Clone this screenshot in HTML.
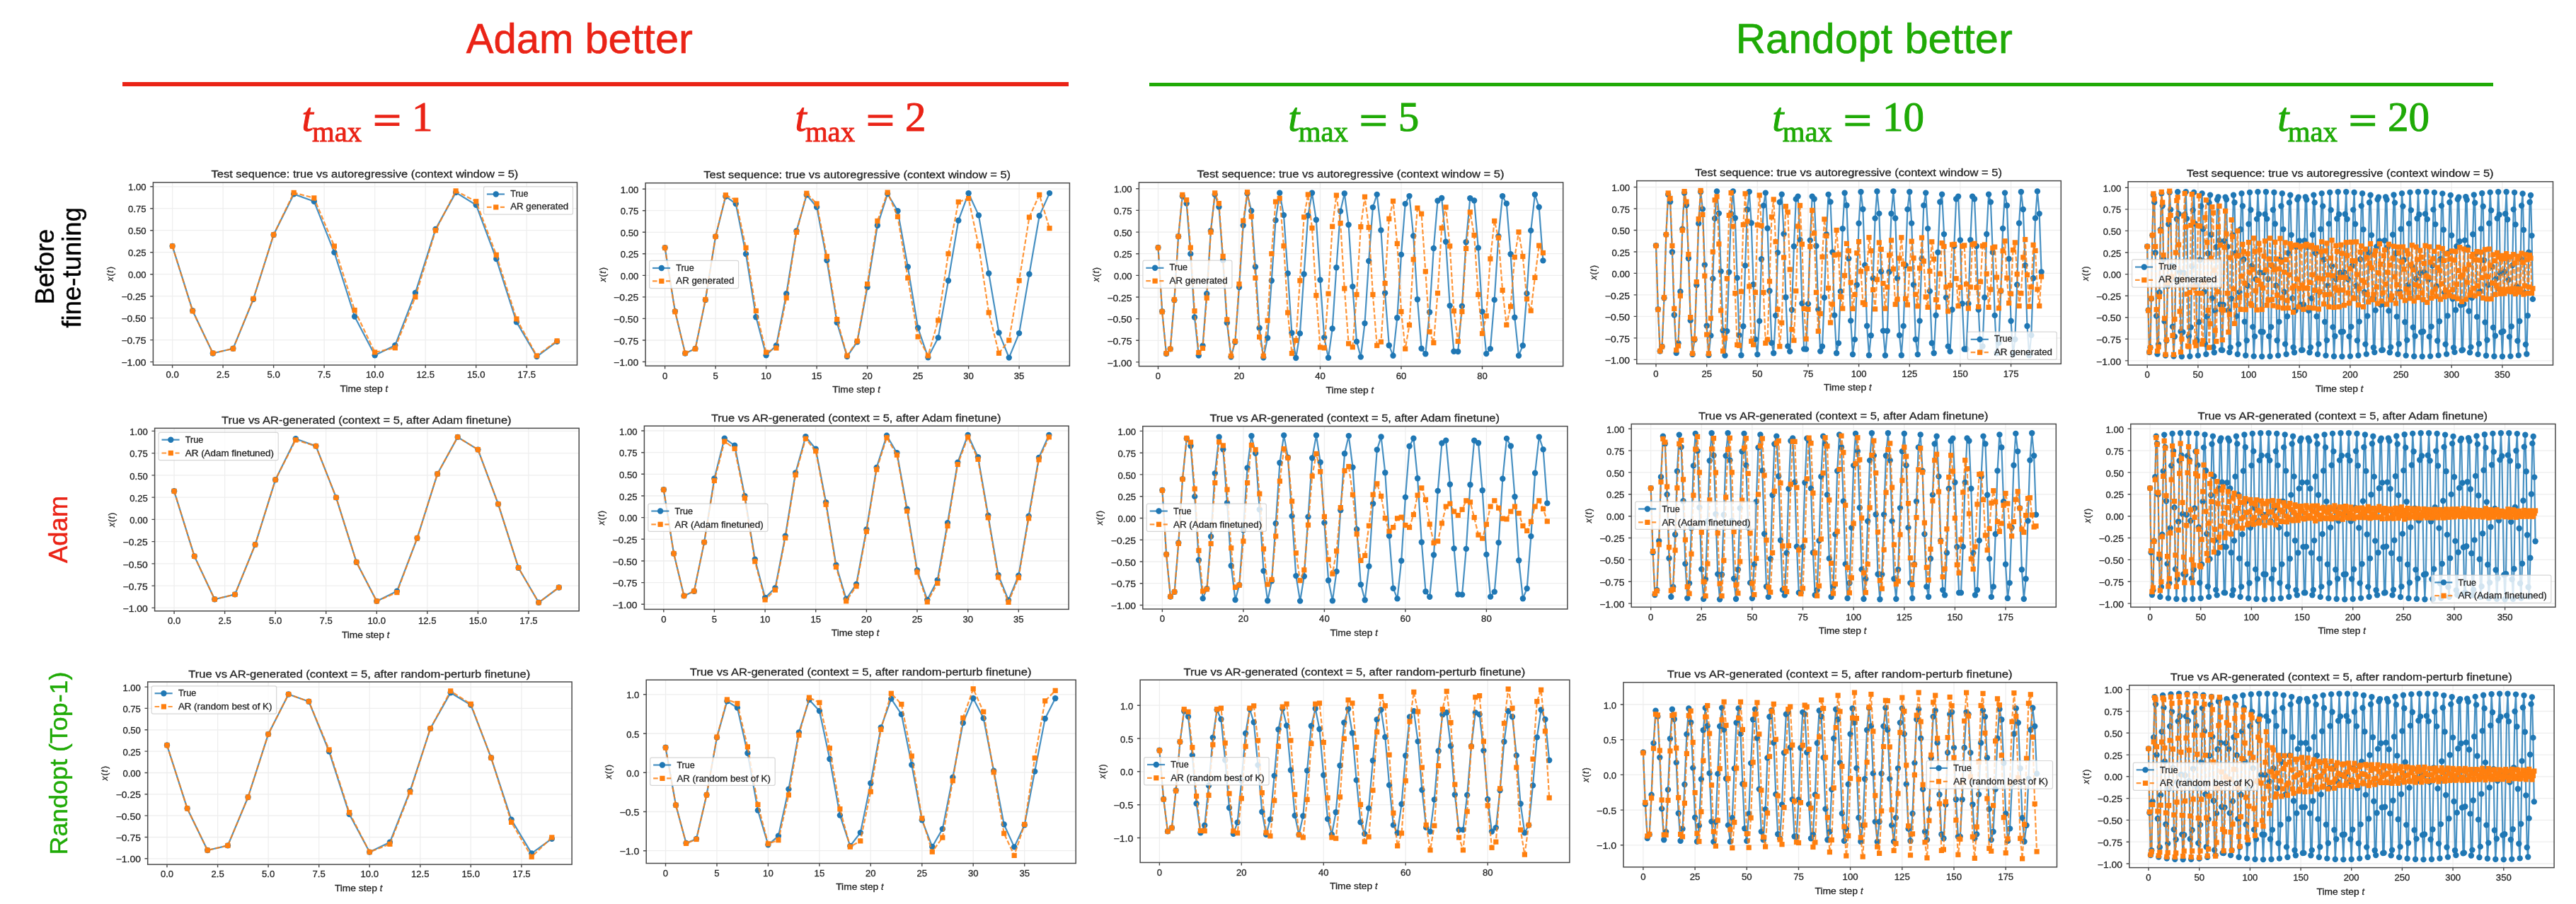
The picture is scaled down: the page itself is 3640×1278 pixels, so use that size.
<!DOCTYPE html>
<html><head><meta charset="utf-8"><title>figure</title>
<style>html,body{margin:0;padding:0;background:#fff}svg{display:block;will-change:transform}text{font-family:"Liberation Sans",sans-serif}text.sf{font-family:"Liberation Serif",serif}</style></head><body>
<svg width="3640" height="1278" viewBox="0 0 3640 1278">
<defs>
<marker id="mc" markerUnits="userSpaceOnUse" markerWidth="10" markerHeight="10" refX="5" refY="5" viewBox="0 0 10 10"><circle cx="5" cy="5" r="4.2" fill="#1f77b4"/></marker>
<marker id="ms" markerUnits="userSpaceOnUse" markerWidth="10" markerHeight="10" refX="5" refY="5" viewBox="0 0 10 10"><rect x="1.4" y="1.4" width="7.2" height="7.2" fill="#ff7f0e"/></marker>
</defs>
<rect width="3640" height="1278" fill="#fff"/><g opacity="0.999">
<text x="658.78" y="74.9" font-size="58.9" textLength="151.71" lengthAdjust="spacingAndGlyphs" fill="#EA2316" stroke="#EA2316" stroke-width="0.6">Adam</text>
<text x="826.49" y="74.9" font-size="58.9" textLength="152.38" lengthAdjust="spacingAndGlyphs" fill="#EA2316" stroke="#EA2316" stroke-width="0.6">better</text>
<text x="2452.70" y="74.9" font-size="58.9" textLength="221.40" lengthAdjust="spacingAndGlyphs" fill="#1FAA06" stroke="#1FAA06" stroke-width="0.6">Randopt</text>
<text x="2691.49" y="74.9" font-size="58.9" textLength="152.27" lengthAdjust="spacingAndGlyphs" fill="#1FAA06" stroke="#1FAA06" stroke-width="0.6">better</text>
<rect x="173" y="116" width="1337" height="6" fill="#EA2316"/>
<rect x="1624" y="117" width="1899" height="5" fill="#1FAA06"/>
<text x="426.6" y="185" class="sf" font-size="58" font-style="italic" fill="#EA2316" stroke="#EA2316" stroke-width="1">t</text><text x="441" y="199.9" class="sf" font-size="41" fill="#EA2316" stroke="#EA2316" stroke-width="0.9" textLength="70.2" lengthAdjust="spacingAndGlyphs">max</text><rect x="529.7" y="162.3" width="34.7" height="4.4" fill="#EA2316"/><rect x="529.7" y="173.4" width="34.7" height="4.6" fill="#EA2316"/><text x="611.6" y="185" class="sf" font-size="59" text-anchor="end" fill="#EA2316" stroke="#EA2316" stroke-width="1">1</text>
<text x="1123.5" y="185" class="sf" font-size="58" font-style="italic" fill="#EA2316" stroke="#EA2316" stroke-width="1">t</text><text x="1137.9" y="199.9" class="sf" font-size="41" fill="#EA2316" stroke="#EA2316" stroke-width="0.9" textLength="70.2" lengthAdjust="spacingAndGlyphs">max</text><rect x="1226.6" y="162.3" width="34.7" height="4.4" fill="#EA2316"/><rect x="1226.6" y="173.4" width="34.7" height="4.6" fill="#EA2316"/><text x="1308.5" y="185" class="sf" font-size="59" text-anchor="end" fill="#EA2316" stroke="#EA2316" stroke-width="1">2</text>
<text x="1820.3" y="185.3" class="sf" font-size="58" font-style="italic" fill="#1FAA06" stroke="#1FAA06" stroke-width="1">t</text><text x="1834.7" y="200.2" class="sf" font-size="41" fill="#1FAA06" stroke="#1FAA06" stroke-width="0.9" textLength="70.2" lengthAdjust="spacingAndGlyphs">max</text><rect x="1923.4" y="162.6" width="34.7" height="4.4" fill="#1FAA06"/><rect x="1923.4" y="173.7" width="34.7" height="4.6" fill="#1FAA06"/><text x="2005.3" y="185.3" class="sf" font-size="59" text-anchor="end" fill="#1FAA06" stroke="#1FAA06" stroke-width="1">5</text>
<text x="2504.3" y="185.3" class="sf" font-size="58" font-style="italic" fill="#1FAA06" stroke="#1FAA06" stroke-width="1">t</text><text x="2518.7" y="200.2" class="sf" font-size="41" fill="#1FAA06" stroke="#1FAA06" stroke-width="0.9" textLength="70.2" lengthAdjust="spacingAndGlyphs">max</text><rect x="2607.4" y="162.6" width="34.7" height="4.4" fill="#1FAA06"/><rect x="2607.4" y="173.7" width="34.7" height="4.6" fill="#1FAA06"/><text x="2719.1" y="185.3" class="sf" font-size="59" text-anchor="end" fill="#1FAA06" stroke="#1FAA06" stroke-width="1">10</text>
<text x="3218.3" y="185.3" class="sf" font-size="58" font-style="italic" fill="#1FAA06" stroke="#1FAA06" stroke-width="1">t</text><text x="3232.7" y="200.2" class="sf" font-size="41" fill="#1FAA06" stroke="#1FAA06" stroke-width="0.9" textLength="70.2" lengthAdjust="spacingAndGlyphs">max</text><rect x="3321.4" y="162.6" width="34.7" height="4.4" fill="#1FAA06"/><rect x="3321.4" y="173.7" width="34.7" height="4.6" fill="#1FAA06"/><text x="3433.1" y="185.3" class="sf" font-size="59" text-anchor="end" fill="#1FAA06" stroke="#1FAA06" stroke-width="1">20</text>
<g transform="translate(75.5 377) rotate(-90)"><text x="0" y="0" font-size="36.1" text-anchor="middle" fill="#000" stroke="#000" stroke-width="0.4">Before</text></g>
<g transform="translate(114 378.3) rotate(-90)"><text x="0" y="0" font-size="36.5" text-anchor="middle" fill="#000" stroke="#000" stroke-width="0.4">fine-tuning</text></g>
<g transform="translate(95 748.4) rotate(-90)"><text x="0" y="0" font-size="36.5" text-anchor="middle" fill="#EA2316" stroke="#EA2316" stroke-width="0.4">Adam</text></g>
<g transform="translate(95 1079.0) rotate(-90)"><text x="0" y="0" font-size="35.85" text-anchor="middle" fill="#1FAA06" stroke="#1FAA06" stroke-width="0.4">Randopt (Top-1)</text></g>
<g>
<rect x="216.4" y="257.9" width="599.1" height="258.2" fill="#fff"/>
<path d="M243.6 257.9V516.1M315.1 257.9V516.1M386.6 257.9V516.1M458.1 257.9V516.1M529.7 257.9V516.1M601.2 257.9V516.1M672.7 257.9V516.1M744.2 257.9V516.1M216.4 511.6H815.5M216.4 480.6H815.5M216.4 449.6H815.5M216.4 418.7H815.5M216.4 387.7H815.5M216.4 356.7H815.5M216.4 325.7H815.5M216.4 294.7H815.5M216.4 263.8H815.5" stroke="#b0b0b0" stroke-opacity="0.21" stroke-width="1.3" fill="none"/>
<clipPath id="c0"><rect x="216.4" y="257.9" width="599.1" height="258.2"/></clipPath>
<g clip-path="url(#c0)">
<polyline points="243.6,347.9 272.2,439.2 300.8,499.5 329.4,492.8 358,423 386.6,332 415.2,274.4 443.8,284.8 472.4,356.9 501.1,447.5 529.7,502.2 558.3,488.2 586.9,413.9 615.5,323.9 644.1,272.1 672.7,289.7 701.3,366.1 729.9,455.4 758.5,504.1 787.1,482.9" fill="none" stroke="#1f77b4" stroke-width="2.2" stroke-opacity="0.82" stroke-linejoin="round" marker-start="url(#mc)" marker-mid="url(#mc)" marker-end="url(#mc)"/>
<polyline points="243.6,348 272.2,439.7 300.8,499.2 329.4,493 358,422.4 386.6,331.9 415.2,272.4 443.8,279.9 472.4,348 501.1,438.5 529.7,498 558.3,491.8 586.9,419.9 615.5,325.7 644.1,269.9 672.7,284.8 701.3,360.4 729.9,450.9 758.5,502.9 787.1,481.9" fill="none" stroke="#ff7f0e" stroke-width="2.2" stroke-opacity="0.82" stroke-linejoin="round" stroke-dasharray="6.6 2.9" marker-start="url(#ms)" marker-mid="url(#ms)" marker-end="url(#ms)"/>
</g>
<rect x="216.4" y="257.9" width="599.1" height="258.2" fill="none" stroke="#4a4a4a" stroke-width="1.5"/>
<path d="M243.6 516.1v4.2M315.1 516.1v4.2M386.6 516.1v4.2M458.1 516.1v4.2M529.7 516.1v4.2M601.2 516.1v4.2M672.7 516.1v4.2M744.2 516.1v4.2M216.4 511.6h-4.2M216.4 480.6h-4.2M216.4 449.6h-4.2M216.4 418.7h-4.2M216.4 387.7h-4.2M216.4 356.7h-4.2M216.4 325.7h-4.2M216.4 294.7h-4.2M216.4 263.8h-4.2" stroke="#4a4a4a" stroke-width="1.4" fill="none"/>
<text x="243.6" y="534.3" font-size="12.5" text-anchor="middle" textLength="18.2" lengthAdjust="spacingAndGlyphs" fill="#262626" stroke="#262626" stroke-width="0.3">0.0</text>
<text x="315.1" y="534.3" font-size="12.5" text-anchor="middle" textLength="18.2" lengthAdjust="spacingAndGlyphs" fill="#262626" stroke="#262626" stroke-width="0.3">2.5</text>
<text x="386.6" y="534.3" font-size="12.5" text-anchor="middle" textLength="18.2" lengthAdjust="spacingAndGlyphs" fill="#262626" stroke="#262626" stroke-width="0.3">5.0</text>
<text x="458.1" y="534.3" font-size="12.5" text-anchor="middle" textLength="18.2" lengthAdjust="spacingAndGlyphs" fill="#262626" stroke="#262626" stroke-width="0.3">7.5</text>
<text x="529.7" y="534.3" font-size="12.5" text-anchor="middle" textLength="25.5" lengthAdjust="spacingAndGlyphs" fill="#262626" stroke="#262626" stroke-width="0.3">10.0</text>
<text x="601.2" y="534.3" font-size="12.5" text-anchor="middle" textLength="25.5" lengthAdjust="spacingAndGlyphs" fill="#262626" stroke="#262626" stroke-width="0.3">12.5</text>
<text x="672.7" y="534.3" font-size="12.5" text-anchor="middle" textLength="25.5" lengthAdjust="spacingAndGlyphs" fill="#262626" stroke="#262626" stroke-width="0.3">15.0</text>
<text x="744.2" y="534.3" font-size="12.5" text-anchor="middle" textLength="25.5" lengthAdjust="spacingAndGlyphs" fill="#262626" stroke="#262626" stroke-width="0.3">17.5</text>
<text x="206.6" y="517.2" font-size="12.5" text-anchor="end" textLength="35.2" lengthAdjust="spacingAndGlyphs" fill="#262626" stroke="#262626" stroke-width="0.3">−1.00</text>
<text x="206.6" y="486.2" font-size="12.5" text-anchor="end" textLength="35.2" lengthAdjust="spacingAndGlyphs" fill="#262626" stroke="#262626" stroke-width="0.3">−0.75</text>
<text x="206.6" y="455.2" font-size="12.5" text-anchor="end" textLength="35.2" lengthAdjust="spacingAndGlyphs" fill="#262626" stroke="#262626" stroke-width="0.3">−0.50</text>
<text x="206.6" y="424.2" font-size="12.5" text-anchor="end" textLength="35.2" lengthAdjust="spacingAndGlyphs" fill="#262626" stroke="#262626" stroke-width="0.3">−0.25</text>
<text x="206.6" y="393.2" font-size="12.5" text-anchor="end" textLength="25.5" lengthAdjust="spacingAndGlyphs" fill="#262626" stroke="#262626" stroke-width="0.3">0.00</text>
<text x="206.6" y="362.3" font-size="12.5" text-anchor="end" textLength="25.5" lengthAdjust="spacingAndGlyphs" fill="#262626" stroke="#262626" stroke-width="0.3">0.25</text>
<text x="206.6" y="331.3" font-size="12.5" text-anchor="end" textLength="25.5" lengthAdjust="spacingAndGlyphs" fill="#262626" stroke="#262626" stroke-width="0.3">0.50</text>
<text x="206.6" y="300.3" font-size="12.5" text-anchor="end" textLength="25.5" lengthAdjust="spacingAndGlyphs" fill="#262626" stroke="#262626" stroke-width="0.3">0.75</text>
<text x="206.6" y="269.3" font-size="12.5" text-anchor="end" textLength="25.5" lengthAdjust="spacingAndGlyphs" fill="#262626" stroke="#262626" stroke-width="0.3">1.00</text>
<text x="515.4" y="251.4" font-size="14.3" text-anchor="middle" textLength="433.8" lengthAdjust="spacingAndGlyphs" fill="#262626" stroke="#262626" stroke-width="0.3">Test sequence: true vs autoregressive (context window = 5)</text>
<text x="480.5" y="554" font-size="12.4" fill="#262626" stroke="#262626" stroke-width="0.3" textLength="63.9" lengthAdjust="spacingAndGlyphs" xml:space="preserve">Time step </text>
<text x="544.4" y="554" font-size="12.5" fill="#262626" stroke="#262626" stroke-width="0.3" font-style="italic">t</text>
<g transform="translate(159.8 387) rotate(-90)" font-size="12" fill="#262626" stroke="#262626" stroke-width="0.3"><text x="-10.5" y="0" font-style="italic">x</text><text x="-3.5" y="0">(</text><text x="1.2" y="0" font-style="italic">t</text><text x="5.9" y="0">)</text></g>
<rect x="683.5" y="263.9" width="126" height="39.2" rx="2.4" fill="#fff" fill-opacity="0.8" stroke="#ccc" stroke-opacity="0.8" stroke-width="1.2"/>
<path d="M687.9 274.5H713" stroke="#1f77b4" stroke-width="2.2" stroke-opacity="0.82"/>
<circle cx="700.8" cy="274.5" r="4.2" fill="#1f77b4"/>
<path d="M687.9 292.9H713" stroke="#ff7f0e" stroke-width="2.2" stroke-opacity="0.82" stroke-dasharray="6.6 2.9"/>
<rect x="697.2" y="289.3" width="7.2" height="7.2" fill="#ff7f0e"/>
<text x="721.2" y="278.1" font-size="12" text-anchor="start" textLength="25.4" lengthAdjust="spacingAndGlyphs" fill="#262626" stroke="#262626" stroke-width="0.3">True</text>
<text x="721.2" y="296.4" font-size="12" text-anchor="start" textLength="82" lengthAdjust="spacingAndGlyphs" fill="#262626" stroke="#262626" stroke-width="0.3">AR generated</text>
</g>
<g>
<rect x="912.1" y="258.7" width="599.3" height="258.6" fill="#fff"/>
<path d="M939.6 258.7V517.3M1011.1 258.7V517.3M1082.6 258.7V517.3M1154.1 258.7V517.3M1225.6 258.7V517.3M1297.1 258.7V517.3M1368.6 258.7V517.3M1440.1 258.7V517.3M912.1 511.5H1511.4M912.1 481H1511.4M912.1 450.4H1511.4M912.1 419.9H1511.4M912.1 389.4H1511.4M912.1 358.8H1511.4M912.1 328.3H1511.4M912.1 297.7H1511.4M912.1 267.2H1511.4" stroke="#b0b0b0" stroke-opacity="0.21" stroke-width="1.3" fill="none"/>
<clipPath id="c1"><rect x="912.1" y="258.7" width="599.3" height="258.6"/></clipPath>
<g clip-path="url(#c1)">
<polyline points="939.6,350.2 953.9,440.1 968.2,499.6 982.5,492.9 996.8,424.1 1011.1,334.4 1025.4,277.7 1039.7,288 1054,359 1068.3,448.3 1082.6,502.2 1096.9,488.4 1111.2,415.2 1125.5,326.4 1139.8,275.5 1154.1,292.8 1168.4,368.1 1182.7,456.1 1197,504.1 1211.3,483.2 1225.6,406 1239.9,318.8 1254.2,274 1268.5,298.3 1282.8,377.3 1297.1,463.5 1311.4,505.2 1325.7,477.4 1340,396.8 1354.3,311.7 1368.6,273.2 1382.9,304.4 1397.2,386.5 1411.5,470.4 1425.8,505.6 1440.1,471.1 1454.4,387.5 1468.7,305 1483,273.1" fill="none" stroke="#1f77b4" stroke-width="2.2" stroke-opacity="0.82" stroke-linejoin="round" marker-start="url(#mc)" marker-mid="url(#mc)" marker-end="url(#mc)"/>
<polyline points="939.6,350.3 953.9,440.7 968.2,499.3 982.5,493.2 996.8,423.6 1011.1,334.4 1025.4,275.8 1039.7,283.1 1054,350.3 1068.3,439.4 1082.6,498.1 1096.9,492 1111.2,421.1 1125.5,328.3 1139.8,273.3 1154.1,288 1168.4,362.5 1182.7,451.6 1197,502.9 1211.3,482.2 1225.6,401.6 1239.9,312.4 1254.2,272.1 1268.5,306.3 1282.8,393 1297.1,476.1 1311.4,502.9 1325.7,452.9 1340,358.8 1354.3,285.5 1368.6,280.6 1382.9,347.8 1397.2,441.9 1411.5,499.3 1425.8,481 1440.1,396.7 1454.4,307.1 1468.7,275.4 1483,322.7" fill="none" stroke="#ff7f0e" stroke-width="2.2" stroke-opacity="0.82" stroke-linejoin="round" stroke-dasharray="6.6 2.9" marker-start="url(#ms)" marker-mid="url(#ms)" marker-end="url(#ms)"/>
</g>
<rect x="912.1" y="258.7" width="599.3" height="258.6" fill="none" stroke="#4a4a4a" stroke-width="1.5"/>
<path d="M939.6 517.3v4.2M1011.1 517.3v4.2M1082.6 517.3v4.2M1154.1 517.3v4.2M1225.6 517.3v4.2M1297.1 517.3v4.2M1368.6 517.3v4.2M1440.1 517.3v4.2M912.1 511.5h-4.2M912.1 481h-4.2M912.1 450.4h-4.2M912.1 419.9h-4.2M912.1 389.4h-4.2M912.1 358.8h-4.2M912.1 328.3h-4.2M912.1 297.7h-4.2M912.1 267.2h-4.2" stroke="#4a4a4a" stroke-width="1.4" fill="none"/>
<text x="939.6" y="535.5" font-size="12.5" text-anchor="middle" textLength="7.3" lengthAdjust="spacingAndGlyphs" fill="#262626" stroke="#262626" stroke-width="0.3">0</text>
<text x="1011.1" y="535.5" font-size="12.5" text-anchor="middle" textLength="7.3" lengthAdjust="spacingAndGlyphs" fill="#262626" stroke="#262626" stroke-width="0.3">5</text>
<text x="1082.6" y="535.5" font-size="12.5" text-anchor="middle" textLength="14.6" lengthAdjust="spacingAndGlyphs" fill="#262626" stroke="#262626" stroke-width="0.3">10</text>
<text x="1154.1" y="535.5" font-size="12.5" text-anchor="middle" textLength="14.6" lengthAdjust="spacingAndGlyphs" fill="#262626" stroke="#262626" stroke-width="0.3">15</text>
<text x="1225.6" y="535.5" font-size="12.5" text-anchor="middle" textLength="14.6" lengthAdjust="spacingAndGlyphs" fill="#262626" stroke="#262626" stroke-width="0.3">20</text>
<text x="1297.1" y="535.5" font-size="12.5" text-anchor="middle" textLength="14.6" lengthAdjust="spacingAndGlyphs" fill="#262626" stroke="#262626" stroke-width="0.3">25</text>
<text x="1368.6" y="535.5" font-size="12.5" text-anchor="middle" textLength="14.6" lengthAdjust="spacingAndGlyphs" fill="#262626" stroke="#262626" stroke-width="0.3">30</text>
<text x="1440.1" y="535.5" font-size="12.5" text-anchor="middle" textLength="14.6" lengthAdjust="spacingAndGlyphs" fill="#262626" stroke="#262626" stroke-width="0.3">35</text>
<text x="902.3" y="517.1" font-size="12.5" text-anchor="end" textLength="35.2" lengthAdjust="spacingAndGlyphs" fill="#262626" stroke="#262626" stroke-width="0.3">−1.00</text>
<text x="902.3" y="486.5" font-size="12.5" text-anchor="end" textLength="35.2" lengthAdjust="spacingAndGlyphs" fill="#262626" stroke="#262626" stroke-width="0.3">−0.75</text>
<text x="902.3" y="456" font-size="12.5" text-anchor="end" textLength="35.2" lengthAdjust="spacingAndGlyphs" fill="#262626" stroke="#262626" stroke-width="0.3">−0.50</text>
<text x="902.3" y="425.4" font-size="12.5" text-anchor="end" textLength="35.2" lengthAdjust="spacingAndGlyphs" fill="#262626" stroke="#262626" stroke-width="0.3">−0.25</text>
<text x="902.3" y="394.9" font-size="12.5" text-anchor="end" textLength="25.5" lengthAdjust="spacingAndGlyphs" fill="#262626" stroke="#262626" stroke-width="0.3">0.00</text>
<text x="902.3" y="364.4" font-size="12.5" text-anchor="end" textLength="25.5" lengthAdjust="spacingAndGlyphs" fill="#262626" stroke="#262626" stroke-width="0.3">0.25</text>
<text x="902.3" y="333.8" font-size="12.5" text-anchor="end" textLength="25.5" lengthAdjust="spacingAndGlyphs" fill="#262626" stroke="#262626" stroke-width="0.3">0.50</text>
<text x="902.3" y="303.3" font-size="12.5" text-anchor="end" textLength="25.5" lengthAdjust="spacingAndGlyphs" fill="#262626" stroke="#262626" stroke-width="0.3">0.75</text>
<text x="902.3" y="272.8" font-size="12.5" text-anchor="end" textLength="25.5" lengthAdjust="spacingAndGlyphs" fill="#262626" stroke="#262626" stroke-width="0.3">1.00</text>
<text x="1211.2" y="252.2" font-size="14.3" text-anchor="middle" textLength="433.8" lengthAdjust="spacingAndGlyphs" fill="#262626" stroke="#262626" stroke-width="0.3">Test sequence: true vs autoregressive (context window = 5)</text>
<text x="1176.3" y="555.2" font-size="12.4" fill="#262626" stroke="#262626" stroke-width="0.3" textLength="63.9" lengthAdjust="spacingAndGlyphs" xml:space="preserve">Time step </text>
<text x="1240.2" y="555.2" font-size="12.5" fill="#262626" stroke="#262626" stroke-width="0.3" font-style="italic">t</text>
<g transform="translate(855.5 388) rotate(-90)" font-size="12" fill="#262626" stroke="#262626" stroke-width="0.3"><text x="-10.5" y="0" font-style="italic">x</text><text x="-3.5" y="0">(</text><text x="1.2" y="0" font-style="italic">t</text><text x="5.9" y="0">)</text></g>
<rect x="917.6" y="368.4" width="126" height="39.2" rx="2.4" fill="#fff" fill-opacity="0.8" stroke="#ccc" stroke-opacity="0.8" stroke-width="1.2"/>
<path d="M922 379H947.1" stroke="#1f77b4" stroke-width="2.2" stroke-opacity="0.82"/>
<circle cx="934.8" cy="379" r="4.2" fill="#1f77b4"/>
<path d="M922 397.4H947.1" stroke="#ff7f0e" stroke-width="2.2" stroke-opacity="0.82" stroke-dasharray="6.6 2.9"/>
<rect x="931.2" y="393.8" width="7.2" height="7.2" fill="#ff7f0e"/>
<text x="955.3" y="382.6" font-size="12" text-anchor="start" textLength="25.4" lengthAdjust="spacingAndGlyphs" fill="#262626" stroke="#262626" stroke-width="0.3">True</text>
<text x="955.3" y="400.9" font-size="12" text-anchor="start" textLength="82" lengthAdjust="spacingAndGlyphs" fill="#262626" stroke="#262626" stroke-width="0.3">AR generated</text>
</g>
<g>
<rect x="1609.4" y="257.9" width="599.3" height="259.8" fill="#fff"/>
<path d="M1636.5 257.9V517.7M1751 257.9V517.7M1865.5 257.9V517.7M1980 257.9V517.7M2094.5 257.9V517.7M1609.4 511.9H2208.7M1609.4 481.3H2208.7M1609.4 450.6H2208.7M1609.4 420H2208.7M1609.4 389.4H2208.7M1609.4 358.7H2208.7M1609.4 328.1H2208.7M1609.4 297.4H2208.7M1609.4 266.8H2208.7" stroke="#b0b0b0" stroke-opacity="0.21" stroke-width="1.3" fill="none"/>
<clipPath id="c2"><rect x="1609.4" y="257.9" width="599.3" height="259.8"/></clipPath>
<g clip-path="url(#c2)">
<polyline points="1636.5,350 1642.2,440.3 1648,500 1653.7,493.3 1659.4,424.2 1665.1,334.3 1670.8,277.3 1676.6,287.6 1682.3,358.9 1688,448.5 1693.8,502.6 1699.5,488.7 1705.2,415.2 1710.9,326.2 1716.7,275.1 1722.4,292.5 1728.1,368 1733.8,456.3 1739.5,504.5 1745.3,483.5 1751,406.1 1756.7,318.6 1762.5,273.6 1768.2,298 1773.9,377.2 1779.6,463.7 1785.3,505.6 1791.1,477.7 1796.8,396.8 1802.5,311.4 1808.2,272.8 1814,304.1 1819.7,386.5 1825.4,470.7 1831.2,506 1836.9,471.4 1842.6,387.5 1848.3,304.8 1854,272.8 1859.8,310.7 1865.5,395.8 1871.2,477.1 1877,505.7 1882.7,464.5 1888.4,378.2 1894.1,298.6 1899.8,273.5 1905.6,317.8 1911.3,405.1 1917,482.9 1922.8,504.6 1928.5,457.1 1934.2,369 1939.9,293.1 1945.7,274.9 1951.4,325.4 1957.1,414.3 1962.8,488.2 1968.5,502.8 1974.3,449.3 1980,359.9 1985.7,288.1 1991.5,277.1 1997.2,333.4 2002.9,423.3 2008.6,492.8 2014.3,500.3 2020.1,441.2 2025.8,351 2031.5,283.8 2037.2,280 2043,341.7 2048.7,432.1 2054.4,496.8 2060.2,497 2065.9,432.7 2071.6,342.3 2077.3,280.2 2083.1,283.5 2088.8,350.4 2094.5,440.6 2100.2,500.1 2105.9,493.1 2111.7,423.9 2117.4,333.9 2123.1,277.2 2128.8,287.8 2134.6,359.3 2140.3,448.8 2146,502.7 2151.8,488.5 2157.5,414.9 2163.2,325.9 2168.9,275 2174.7,292.7 2180.4,368.4" fill="none" stroke="#1f77b4" stroke-width="2.2" stroke-opacity="0.82" stroke-linejoin="round" marker-start="url(#mc)" marker-mid="url(#mc)" marker-end="url(#mc)"/>
<polyline points="1636.5,350.1 1642.2,440.8 1648,499.6 1653.7,493.5 1659.4,423.7 1665.1,334.2 1670.8,275.4 1676.6,282.7 1682.3,350.1 1688,439.6 1693.8,498.4 1699.5,492.3 1705.2,421.2 1710.9,328.1 1716.7,272.9 1722.4,287.6 1728.1,362.4 1733.8,451.9 1739.5,503.3 1745.3,482.5 1751,401.6 1756.7,312.1 1762.5,271.7 1768.2,306 1773.9,393 1779.6,476.4 1785.3,503.3 1791.1,453.1 1796.8,358.7 1802.5,285.2 1808.2,280.3 1814,347.7 1819.7,442 1825.4,499.6 1831.2,481.3 1836.9,396.7 1842.6,306.9 1848.3,275 1854,322.4 1859.8,417.7 1865.5,490.9 1871.2,491.9 1877,415.2 1882.7,320.2 1888.4,276.1 1894.1,315.5 1899.8,407.9 1905.6,485.8 1911.3,490.7 1917,416.4 1922.8,320.6 1928.5,278.3 1934.2,321.5 1939.9,416.4 1945.7,488.5 1951.4,483.3 1957.1,400.6 1962.8,309.3 1968.5,284.3 1974.3,344.4 1980,440.5 1985.7,493.1 1991.5,459.6 1997.2,366.8 2002.9,294.1 2008.6,302.3 2014.3,383.8 2020.1,469 2025.8,484.6 2031.5,414.4 2037.2,322.4 2043,292.9 2048.7,347.9 2054.4,439.6 2060.2,482.5 2065.9,440.5 2071.6,351.4 2077.3,299.9 2083.1,332.5 2088.8,416.4 2094.5,471.5 2100.2,446.6 2105.9,365.9 2111.7,312.4 2117.4,336.2 2123.1,410.3 2128.8,459.3 2134.6,433.2 2140.3,363.5 2146,328 2151.8,362.6 2157.5,422.6 2163.2,439.2 2168.9,392.4 2174.7,347.1 2180.4,357.5" fill="none" stroke="#ff7f0e" stroke-width="2.2" stroke-opacity="0.82" stroke-linejoin="round" stroke-dasharray="6.6 2.9" marker-start="url(#ms)" marker-mid="url(#ms)" marker-end="url(#ms)"/>
</g>
<rect x="1609.4" y="257.9" width="599.3" height="259.8" fill="none" stroke="#4a4a4a" stroke-width="1.5"/>
<path d="M1636.5 517.7v4.2M1751 517.7v4.2M1865.5 517.7v4.2M1980 517.7v4.2M2094.5 517.7v4.2M1609.4 511.9h-4.2M1609.4 481.3h-4.2M1609.4 450.6h-4.2M1609.4 420h-4.2M1609.4 389.4h-4.2M1609.4 358.7h-4.2M1609.4 328.1h-4.2M1609.4 297.4h-4.2M1609.4 266.8h-4.2" stroke="#4a4a4a" stroke-width="1.4" fill="none"/>
<text x="1636.5" y="535.9" font-size="12.5" text-anchor="middle" textLength="7.3" lengthAdjust="spacingAndGlyphs" fill="#262626" stroke="#262626" stroke-width="0.3">0</text>
<text x="1751" y="535.9" font-size="12.5" text-anchor="middle" textLength="14.6" lengthAdjust="spacingAndGlyphs" fill="#262626" stroke="#262626" stroke-width="0.3">20</text>
<text x="1865.5" y="535.9" font-size="12.5" text-anchor="middle" textLength="14.6" lengthAdjust="spacingAndGlyphs" fill="#262626" stroke="#262626" stroke-width="0.3">40</text>
<text x="1980" y="535.9" font-size="12.5" text-anchor="middle" textLength="14.6" lengthAdjust="spacingAndGlyphs" fill="#262626" stroke="#262626" stroke-width="0.3">60</text>
<text x="2094.5" y="535.9" font-size="12.5" text-anchor="middle" textLength="14.6" lengthAdjust="spacingAndGlyphs" fill="#262626" stroke="#262626" stroke-width="0.3">80</text>
<text x="1599.6" y="517.5" font-size="12.5" text-anchor="end" textLength="35.2" lengthAdjust="spacingAndGlyphs" fill="#262626" stroke="#262626" stroke-width="0.3">−1.00</text>
<text x="1599.6" y="486.8" font-size="12.5" text-anchor="end" textLength="35.2" lengthAdjust="spacingAndGlyphs" fill="#262626" stroke="#262626" stroke-width="0.3">−0.75</text>
<text x="1599.6" y="456.2" font-size="12.5" text-anchor="end" textLength="35.2" lengthAdjust="spacingAndGlyphs" fill="#262626" stroke="#262626" stroke-width="0.3">−0.50</text>
<text x="1599.6" y="425.5" font-size="12.5" text-anchor="end" textLength="35.2" lengthAdjust="spacingAndGlyphs" fill="#262626" stroke="#262626" stroke-width="0.3">−0.25</text>
<text x="1599.6" y="394.9" font-size="12.5" text-anchor="end" textLength="25.5" lengthAdjust="spacingAndGlyphs" fill="#262626" stroke="#262626" stroke-width="0.3">0.00</text>
<text x="1599.6" y="364.3" font-size="12.5" text-anchor="end" textLength="25.5" lengthAdjust="spacingAndGlyphs" fill="#262626" stroke="#262626" stroke-width="0.3">0.25</text>
<text x="1599.6" y="333.6" font-size="12.5" text-anchor="end" textLength="25.5" lengthAdjust="spacingAndGlyphs" fill="#262626" stroke="#262626" stroke-width="0.3">0.50</text>
<text x="1599.6" y="303" font-size="12.5" text-anchor="end" textLength="25.5" lengthAdjust="spacingAndGlyphs" fill="#262626" stroke="#262626" stroke-width="0.3">0.75</text>
<text x="1599.6" y="272.4" font-size="12.5" text-anchor="end" textLength="25.5" lengthAdjust="spacingAndGlyphs" fill="#262626" stroke="#262626" stroke-width="0.3">1.00</text>
<text x="1908.5" y="251.4" font-size="14.3" text-anchor="middle" textLength="433.8" lengthAdjust="spacingAndGlyphs" fill="#262626" stroke="#262626" stroke-width="0.3">Test sequence: true vs autoregressive (context window = 5)</text>
<text x="1873.6" y="555.6" font-size="12.4" fill="#262626" stroke="#262626" stroke-width="0.3" textLength="63.9" lengthAdjust="spacingAndGlyphs" xml:space="preserve">Time step </text>
<text x="1937.5" y="555.6" font-size="12.5" fill="#262626" stroke="#262626" stroke-width="0.3" font-style="italic">t</text>
<g transform="translate(1552.8 387.8) rotate(-90)" font-size="12" fill="#262626" stroke="#262626" stroke-width="0.3"><text x="-10.5" y="0" font-style="italic">x</text><text x="-3.5" y="0">(</text><text x="1.2" y="0" font-style="italic">t</text><text x="5.9" y="0">)</text></g>
<rect x="1614.9" y="368.2" width="126" height="39.2" rx="2.4" fill="#fff" fill-opacity="0.8" stroke="#ccc" stroke-opacity="0.8" stroke-width="1.2"/>
<path d="M1619.3 378.8H1644.4" stroke="#1f77b4" stroke-width="2.2" stroke-opacity="0.82"/>
<circle cx="1632.1" cy="378.8" r="4.2" fill="#1f77b4"/>
<path d="M1619.3 397.2H1644.4" stroke="#ff7f0e" stroke-width="2.2" stroke-opacity="0.82" stroke-dasharray="6.6 2.9"/>
<rect x="1628.5" y="393.6" width="7.2" height="7.2" fill="#ff7f0e"/>
<text x="1652.6" y="382.4" font-size="12" text-anchor="start" textLength="25.4" lengthAdjust="spacingAndGlyphs" fill="#262626" stroke="#262626" stroke-width="0.3">True</text>
<text x="1652.6" y="400.7" font-size="12" text-anchor="start" textLength="82" lengthAdjust="spacingAndGlyphs" fill="#262626" stroke="#262626" stroke-width="0.3">AR generated</text>
</g>
<g>
<rect x="2312.8" y="255.6" width="599.5" height="258.8" fill="#fff"/>
<path d="M2340 255.6V514.4M2411.7 255.6V514.4M2483.3 255.6V514.4M2555 255.6V514.4M2626.6 255.6V514.4M2698.3 255.6V514.4M2769.9 255.6V514.4M2841.6 255.6V514.4M2312.8 508.4H2912.3M2312.8 477.9H2912.3M2312.8 447.4H2912.3M2312.8 416.9H2912.3M2312.8 386.4H2912.3M2312.8 356H2912.3M2312.8 325.5H2912.3M2312.8 295H2912.3M2312.8 264.5H2912.3" stroke="#b0b0b0" stroke-opacity="0.21" stroke-width="1.3" fill="none"/>
<clipPath id="c3"><rect x="2312.8" y="255.6" width="599.5" height="258.8"/></clipPath>
<g clip-path="url(#c3)">
<polyline points="2340,347.3 2342.9,437.1 2345.7,496.5 2348.6,489.9 2351.5,421.2 2354.3,331.6 2357.2,275 2360.1,285.2 2362.9,356.2 2365.8,445.3 2368.7,499.1 2371.5,485.3 2374.4,412.2 2377.3,323.6 2380.1,272.8 2383,290.1 2385.9,365.2 2388.7,453.1 2391.6,501 2394.5,480.2 2397.3,403.1 2400.2,316.1 2403.1,271.2 2405.9,295.6 2408.8,374.4 2411.7,460.5 2414.5,502.1 2417.4,474.4 2420.3,393.9 2423.1,308.9 2426,270.5 2428.9,301.6 2431.7,383.6 2434.6,467.4 2437.5,502.5 2440.3,468.1 2443.2,384.6 2446.1,302.3 2448.9,270.4 2451.8,308.2 2454.7,392.9 2457.5,473.8 2460.4,502.2 2463.3,461.2 2466.1,375.4 2469,296.2 2471.8,271.1 2474.7,315.3 2477.6,402.1 2480.4,479.6 2483.3,501.1 2486.2,453.9 2489,366.2 2491.9,290.6 2494.8,272.6 2497.6,322.8 2500.5,411.3 2503.4,484.8 2506.2,499.3 2509.1,446.1 2512,357.1 2514.8,285.7 2517.7,274.7 2520.6,330.8 2523.4,420.2 2526.3,489.4 2529.2,496.8 2532,438 2534.9,348.3 2537.8,281.4 2540.6,277.6 2543.5,339.1 2546.4,429 2549.2,493.4 2552.1,493.6 2555,429.6 2557.8,339.6 2560.7,277.8 2563.6,281.2 2566.4,347.7 2569.3,437.5 2572.2,496.6 2575,489.7 2577.9,420.8 2580.8,331.3 2583.6,274.9 2586.5,285.4 2589.4,356.5 2592.2,445.6 2595.1,499.2 2598,485.1 2600.8,411.9 2603.7,323.3 2606.6,272.7 2609.4,290.3 2612.3,365.6 2615.2,453.4 2618,501 2620.9,479.9 2623.8,402.7 2626.6,315.8 2629.5,271.2 2632.4,295.8 2635.2,374.8 2638.1,460.8 2641,502.2 2643.8,474.2 2646.7,393.5 2649.6,308.6 2652.4,270.5 2655.3,301.9 2658.2,384 2661,467.6 2663.9,502.5 2666.8,467.8 2669.6,384.3 2672.5,302 2675.4,270.4 2678.2,308.5 2681.1,393.3 2684,474 2686.8,502.2 2689.7,460.9 2692.6,375 2695.4,295.9 2698.3,271.2 2701.2,315.6 2704,402.5 2706.9,479.8 2709.8,501.1 2712.6,453.6 2715.5,365.8 2718.3,290.4 2721.2,272.6 2724.1,323.1 2726.9,411.6 2729.8,485 2732.7,499.3 2735.5,445.8 2738.4,356.8 2741.3,285.5 2744.1,274.8 2747,331.1 2749.9,420.6 2752.7,489.6 2755.6,496.7 2758.5,437.7 2761.3,347.9 2764.2,281.3 2767.1,277.7 2769.9,339.4 2772.8,429.3 2775.7,493.5 2778.5,493.5 2781.4,429.2 2784.3,339.3 2787.1,277.7 2790,281.3 2792.9,348 2795.7,437.8 2798.6,496.8 2801.5,489.5 2804.3,420.5 2807.2,331 2810.1,274.8 2812.9,285.6 2815.8,356.9 2818.7,445.9 2821.5,499.3 2824.4,484.9 2827.3,411.5 2830.1,323 2833,272.6 2835.9,290.5 2838.7,365.9 2841.6,453.7 2844.5,501.1 2847.3,479.7 2850.2,402.4 2853.1,315.5 2855.9,271.2 2858.8,296 2861.7,375.1 2864.5,461 2867.4,502.2 2870.3,473.9 2873.1,393.2 2876,308.4 2878.9,270.4 2881.7,302.1 2884.6,384.4" fill="none" stroke="#1f77b4" stroke-width="2.2" stroke-opacity="0.82" stroke-linejoin="round" marker-start="url(#mc)" marker-mid="url(#mc)" marker-end="url(#mc)"/>
<polyline points="2340,347.4 2342.9,437.7 2345.7,496.2 2348.6,490.1 2351.5,420.6 2354.3,331.6 2357.2,273 2360.1,280.4 2362.9,347.4 2365.8,436.4 2368.7,495 2371.5,488.9 2374.4,418.2 2377.3,325.5 2380.1,270.6 2383,285.2 2385.9,359.6 2388.7,448.6 2391.6,499.9 2394.5,479.1 2397.3,398.6 2400.2,309.6 2403.1,269.4 2405.9,303.5 2408.8,390.1 2411.7,473 2414.5,499.9 2417.4,449.9 2420.3,356 2423.1,282.8 2426,277.9 2428.9,345 2431.7,438.9 2434.6,496.2 2437.5,477.9 2440.3,393.8 2443.2,304.4 2446.1,272.7 2448.9,319.9 2451.8,414.6 2454.7,487.5 2457.5,488.5 2460.4,412.2 2463.3,317.7 2466.1,273.8 2469,312.9 2471.8,404.9 2474.7,482.4 2477.6,487.3 2480.4,413.4 2483.3,318 2486.2,276 2489,318.9 2491.9,413.4 2494.8,485.1 2497.6,480 2500.5,397.7 2503.4,306.8 2506.2,281.9 2509.1,341.7 2512,437.3 2514.8,489.7 2517.7,456.3 2520.6,364 2523.4,291.7 2526.3,299.9 2529.2,381 2532,465.7 2534.9,481.2 2537.8,411.3 2540.6,319.9 2543.5,290.5 2546.4,345.2 2549.2,436.4 2552.1,479.1 2555,437.3 2557.8,348.6 2560.7,297.4 2563.6,329.9 2566.4,413.4 2569.3,468.2 2572.2,443.4 2575,363.2 2577.9,309.9 2580.8,333.5 2583.6,407.3 2586.5,456.1 2589.4,430.1 2592.2,360.7 2595.1,325.4 2598,359.9 2600.8,419.5 2603.7,436.1 2606.6,389.5 2609.4,344.4 2612.3,354.7 2615.2,399.1 2618,436.4 2620.9,416.5 2623.8,357.7 2626.6,341.6 2629.5,383.8 2632.4,427.9 2635.2,430.5 2638.1,379.7 2641,335.7 2643.8,354.6 2646.7,409.7 2649.6,436.9 2652.4,395.2 2655.3,343 2658.2,352.4 2661,400.7 2663.9,436.2 2666.8,405.9 2669.6,360.9 2672.5,339.8 2675.4,380.2 2678.2,430.3 2681.1,423 2684,365.1 2686.8,335.8 2689.7,373.3 2692.6,422.3 2695.4,430.9 2698.3,380.1 2701.2,341.2 2704,364.9 2706.9,416.2 2709.8,432.8 2712.6,379.1 2715.5,336.1 2718.3,369.2 2721.2,419.8 2724.1,434.3 2726.9,383.4 2729.8,341.8 2732.7,366.2 2735.5,423.7 2738.4,434.1 2741.3,387.2 2744.1,343.6 2747,348.5 2749.9,405.9 2752.7,440 2755.6,403.3 2758.5,345.9 2761.3,345.4 2764.2,393.8 2767.1,432.6 2769.9,406.3 2772.8,348 2775.7,346.9 2778.5,401.8 2781.4,436 2784.3,405.9 2787.1,345.8 2790,344.3 2792.9,406.5 2795.7,433.8 2798.6,398.2 2801.5,347.7 2804.3,345.9 2807.2,387.1 2810.1,434.4 2812.9,409.2 2815.8,350.7 2818.7,349.1 2821.5,392 2824.4,435.7 2827.3,411.1 2830.1,354.8 2833,340.8 2835.9,393 2838.7,428.5 2841.6,415.3 2844.5,353.5 2847.3,342.9 2850.2,387.6 2853.1,432.5 2855.9,414.7 2858.8,363.8 2861.7,338.6 2864.5,388.6 2867.4,433.2 2870.3,405.8 2873.1,346.3 2876,354.4 2878.9,409 2881.7,432.5 2884.6,391.1" fill="none" stroke="#ff7f0e" stroke-width="2.2" stroke-opacity="0.82" stroke-linejoin="round" stroke-dasharray="6.6 2.9" marker-start="url(#ms)" marker-mid="url(#ms)" marker-end="url(#ms)"/>
</g>
<rect x="2312.8" y="255.6" width="599.5" height="258.8" fill="none" stroke="#4a4a4a" stroke-width="1.5"/>
<path d="M2340 514.4v4.2M2411.7 514.4v4.2M2483.3 514.4v4.2M2555 514.4v4.2M2626.6 514.4v4.2M2698.3 514.4v4.2M2769.9 514.4v4.2M2841.6 514.4v4.2M2312.8 508.4h-4.2M2312.8 477.9h-4.2M2312.8 447.4h-4.2M2312.8 416.9h-4.2M2312.8 386.4h-4.2M2312.8 356h-4.2M2312.8 325.5h-4.2M2312.8 295h-4.2M2312.8 264.5h-4.2" stroke="#4a4a4a" stroke-width="1.4" fill="none"/>
<text x="2340" y="532.6" font-size="12.5" text-anchor="middle" textLength="7.3" lengthAdjust="spacingAndGlyphs" fill="#262626" stroke="#262626" stroke-width="0.3">0</text>
<text x="2411.7" y="532.6" font-size="12.5" text-anchor="middle" textLength="14.6" lengthAdjust="spacingAndGlyphs" fill="#262626" stroke="#262626" stroke-width="0.3">25</text>
<text x="2483.3" y="532.6" font-size="12.5" text-anchor="middle" textLength="14.6" lengthAdjust="spacingAndGlyphs" fill="#262626" stroke="#262626" stroke-width="0.3">50</text>
<text x="2555" y="532.6" font-size="12.5" text-anchor="middle" textLength="14.6" lengthAdjust="spacingAndGlyphs" fill="#262626" stroke="#262626" stroke-width="0.3">75</text>
<text x="2626.6" y="532.6" font-size="12.5" text-anchor="middle" textLength="21.9" lengthAdjust="spacingAndGlyphs" fill="#262626" stroke="#262626" stroke-width="0.3">100</text>
<text x="2698.3" y="532.6" font-size="12.5" text-anchor="middle" textLength="21.9" lengthAdjust="spacingAndGlyphs" fill="#262626" stroke="#262626" stroke-width="0.3">125</text>
<text x="2769.9" y="532.6" font-size="12.5" text-anchor="middle" textLength="21.9" lengthAdjust="spacingAndGlyphs" fill="#262626" stroke="#262626" stroke-width="0.3">150</text>
<text x="2841.6" y="532.6" font-size="12.5" text-anchor="middle" textLength="21.9" lengthAdjust="spacingAndGlyphs" fill="#262626" stroke="#262626" stroke-width="0.3">175</text>
<text x="2303" y="514" font-size="12.5" text-anchor="end" textLength="35.2" lengthAdjust="spacingAndGlyphs" fill="#262626" stroke="#262626" stroke-width="0.3">−1.00</text>
<text x="2303" y="483.5" font-size="12.5" text-anchor="end" textLength="35.2" lengthAdjust="spacingAndGlyphs" fill="#262626" stroke="#262626" stroke-width="0.3">−0.75</text>
<text x="2303" y="453" font-size="12.5" text-anchor="end" textLength="35.2" lengthAdjust="spacingAndGlyphs" fill="#262626" stroke="#262626" stroke-width="0.3">−0.50</text>
<text x="2303" y="422.5" font-size="12.5" text-anchor="end" textLength="35.2" lengthAdjust="spacingAndGlyphs" fill="#262626" stroke="#262626" stroke-width="0.3">−0.25</text>
<text x="2303" y="392" font-size="12.5" text-anchor="end" textLength="25.5" lengthAdjust="spacingAndGlyphs" fill="#262626" stroke="#262626" stroke-width="0.3">0.00</text>
<text x="2303" y="361.5" font-size="12.5" text-anchor="end" textLength="25.5" lengthAdjust="spacingAndGlyphs" fill="#262626" stroke="#262626" stroke-width="0.3">0.25</text>
<text x="2303" y="331" font-size="12.5" text-anchor="end" textLength="25.5" lengthAdjust="spacingAndGlyphs" fill="#262626" stroke="#262626" stroke-width="0.3">0.50</text>
<text x="2303" y="300.5" font-size="12.5" text-anchor="end" textLength="25.5" lengthAdjust="spacingAndGlyphs" fill="#262626" stroke="#262626" stroke-width="0.3">0.75</text>
<text x="2303" y="270.1" font-size="12.5" text-anchor="end" textLength="25.5" lengthAdjust="spacingAndGlyphs" fill="#262626" stroke="#262626" stroke-width="0.3">1.00</text>
<text x="2612" y="249.1" font-size="14.3" text-anchor="middle" textLength="433.8" lengthAdjust="spacingAndGlyphs" fill="#262626" stroke="#262626" stroke-width="0.3">Test sequence: true vs autoregressive (context window = 5)</text>
<text x="2577.1" y="552.3" font-size="12.4" fill="#262626" stroke="#262626" stroke-width="0.3" textLength="63.9" lengthAdjust="spacingAndGlyphs" xml:space="preserve">Time step </text>
<text x="2641" y="552.3" font-size="12.5" fill="#262626" stroke="#262626" stroke-width="0.3" font-style="italic">t</text>
<g transform="translate(2256.2 385) rotate(-90)" font-size="12" fill="#262626" stroke="#262626" stroke-width="0.3"><text x="-10.5" y="0" font-style="italic">x</text><text x="-3.5" y="0">(</text><text x="1.2" y="0" font-style="italic">t</text><text x="5.9" y="0">)</text></g>
<rect x="2780.3" y="469.2" width="126" height="39.2" rx="2.4" fill="#fff" fill-opacity="0.8" stroke="#ccc" stroke-opacity="0.8" stroke-width="1.2"/>
<path d="M2784.7 479.8H2809.8" stroke="#1f77b4" stroke-width="2.2" stroke-opacity="0.82"/>
<circle cx="2797.6" cy="479.8" r="4.2" fill="#1f77b4"/>
<path d="M2784.7 498.2H2809.8" stroke="#ff7f0e" stroke-width="2.2" stroke-opacity="0.82" stroke-dasharray="6.6 2.9"/>
<rect x="2794" y="494.6" width="7.2" height="7.2" fill="#ff7f0e"/>
<text x="2818" y="483.4" font-size="12" text-anchor="start" textLength="25.4" lengthAdjust="spacingAndGlyphs" fill="#262626" stroke="#262626" stroke-width="0.3">True</text>
<text x="2818" y="501.7" font-size="12" text-anchor="start" textLength="82" lengthAdjust="spacingAndGlyphs" fill="#262626" stroke="#262626" stroke-width="0.3">AR generated</text>
</g>
<g>
<rect x="3007.1" y="256.8" width="600.4" height="259.3" fill="#fff"/>
<path d="M3034.2 256.8V516.1M3105.9 256.8V516.1M3177.5 256.8V516.1M3249.2 256.8V516.1M3320.9 256.8V516.1M3392.6 256.8V516.1M3464.2 256.8V516.1M3535.9 256.8V516.1M3007.1 509.9H3607.5M3007.1 479.3H3607.5M3007.1 448.8H3607.5M3007.1 418.2H3607.5M3007.1 387.6H3607.5M3007.1 357H3607.5M3007.1 326.4H3607.5M3007.1 295.9H3607.5M3007.1 265.3H3607.5" stroke="#b0b0b0" stroke-opacity="0.21" stroke-width="1.3" fill="none"/>
<clipPath id="c4"><rect x="3007.1" y="256.8" width="600.4" height="259.3"/></clipPath>
<g clip-path="url(#c4)">
<polyline points="3034.2,348.4 3035.6,438.4 3037.1,498 3038.5,491.3 3039.9,422.4 3041.4,332.6 3042.8,275.8 3044.2,286.1 3045.7,357.2 3047.1,446.6 3048.5,500.6 3050,486.8 3051.4,413.4 3052.8,324.6 3054.3,273.6 3055.7,291 3057.1,366.3 3058.6,454.4 3060,502.5 3061.4,481.6 3062.9,404.3 3064.3,317 3065.7,272.1 3067.2,296.4 3068.6,375.5 3070,461.8 3071.5,503.6 3072.9,475.8 3074.3,395.1 3075.8,309.8 3077.2,271.3 3078.6,302.5 3080.1,384.8 3081.5,468.8 3082.9,504 3084.4,469.5 3085.8,385.8 3087.2,303.2 3088.7,271.2 3090.1,309.1 3091.5,394.1 3093,475.2 3094.4,503.7 3095.8,462.6 3097.3,376.5 3098.7,297.1 3100.1,271.9 3101.6,316.2 3103,403.3 3104.4,481 3105.9,502.6 3107.3,455.2 3108.7,367.3 3110.2,291.5 3111.6,273.4 3113,323.8 3114.5,412.5 3115.9,486.2 3117.3,500.8 3118.8,447.5 3120.2,358.2 3121.6,286.6 3123.1,275.6 3124.5,331.8 3125.9,421.5 3127.4,490.9 3128.8,498.3 3130.2,439.3 3131.7,349.3 3133.1,282.3 3134.5,278.4 3136,340.1 3137.4,430.3 3138.8,494.8 3140.3,495.1 3141.7,430.8 3143.1,340.7 3144.6,278.6 3146,282 3147.4,348.7 3148.9,438.8 3150.3,498.1 3151.7,491.1 3153.2,422.1 3154.6,332.3 3156,275.7 3157.5,286.3 3158.9,357.6 3160.3,446.9 3161.8,500.7 3163.2,486.6 3164.6,413.1 3166.1,324.3 3167.5,273.5 3168.9,291.2 3170.4,366.7 3171.8,454.7 3173.2,502.5 3174.7,481.4 3176.1,403.9 3177.5,316.7 3179,272 3180.4,296.7 3181.8,375.9 3183.3,462.1 3184.7,503.6 3186.1,475.6 3187.6,394.7 3189,309.6 3190.4,271.3 3191.9,302.8 3193.3,385.2 3194.7,469 3196.2,504 3197.6,469.2 3199,385.4 3200.5,302.9 3201.9,271.3 3203.3,309.4 3204.8,394.4 3206.2,475.4 3207.6,503.7 3209.1,462.3 3210.5,376.1 3211.9,296.8 3213.4,272 3214.8,316.5 3216.2,403.7 3217.7,481.2 3219.1,502.6 3220.5,454.9 3222,366.9 3223.4,291.3 3224.8,273.5 3226.3,324.1 3227.7,412.8 3229.1,486.4 3230.6,500.7 3232,447.2 3233.4,357.8 3234.9,286.4 3236.3,275.7 3237.7,332.1 3239.2,421.8 3240.6,491 3242,498.2 3243.5,439 3244.9,349 3246.3,282.1 3247.8,278.6 3249.2,340.4 3250.6,430.6 3252.1,495 3253.5,494.9 3254.9,430.5 3256.4,340.3 3257.8,278.5 3259.2,282.2 3260.7,349.1 3262.1,439.1 3263.5,498.2 3265,491 3266.4,421.7 3267.8,332 3269.3,275.6 3270.7,286.4 3272.1,358 3273.6,447.3 3275,500.8 3276.4,486.4 3277.9,412.7 3279.3,324 3280.7,273.4 3282.2,291.4 3283.6,367 3285.1,455 3286.5,502.6 3287.9,481.1 3289.4,403.6 3290.8,316.4 3292.2,272 3293.7,296.9 3295.1,376.2 3296.5,462.4 3298,503.7 3299.4,475.3 3300.8,394.3 3302.3,309.3 3303.7,271.3 3305.1,303 3306.6,385.5 3308,469.3 3309.4,504 3310.9,468.9 3312.3,385 3313.7,302.7 3315.2,271.3 3316.6,309.7 3318,394.8 3319.5,475.6 3320.9,503.6 3322.3,462 3323.8,375.8 3325.2,296.6 3326.6,272 3328.1,316.8 3329.5,404.1 3330.9,481.4 3332.4,502.5 3333.8,454.6 3335.2,366.5 3336.7,291.1 3338.1,273.5 3339.5,324.4 3341,413.2 3342.4,486.6 3343.8,500.6 3345.3,446.8 3346.7,357.5 3348.1,286.2 3349.6,275.8 3351,332.4 3352.4,422.2 3353.9,491.2 3355.3,498.1 3356.7,438.6 3358.2,348.6 3359.6,282 3361,278.7 3362.5,340.8 3363.9,430.9 3365.3,495.1 3366.8,494.8 3368.2,430.1 3369.6,340 3371.1,278.4 3372.5,282.3 3373.9,349.4 3375.4,439.4 3376.8,498.3 3378.2,490.8 3379.7,421.4 3381.1,331.7 3382.5,275.5 3384,286.6 3385.4,358.3 3386.8,447.6 3388.3,500.8 3389.7,486.2 3391.1,412.4 3392.6,323.7 3394,273.4 3395.4,291.6 3396.9,367.4 3398.3,455.3 3399.7,502.6 3401.2,480.9 3402.6,403.2 3404,316.1 3405.5,271.9 3406.9,297.1 3408.3,376.6 3409.8,462.7 3411.2,503.7 3412.6,475.1 3414.1,394 3415.5,309 3416.9,271.2 3418.4,303.3 3419.8,385.9 3421.2,469.5 3422.7,504 3424.1,468.7 3425.5,384.7 3427,302.4 3428.4,271.3 3429.8,309.9 3431.3,395.2 3432.7,475.9 3434.1,503.6 3435.6,461.7 3437,375.4 3438.4,296.4 3439.9,272.1 3441.3,317.1 3442.7,404.4 3444.2,481.7 3445.6,502.4 3447,454.3 3448.5,366.2 3449.9,290.9 3451.3,273.6 3452.8,324.7 3454.2,413.6 3455.6,486.8 3457.1,500.6 3458.5,446.5 3459.9,357.1 3461.4,286 3462.8,275.9 3464.2,332.7 3465.7,422.5 3467.1,491.4 3468.5,497.9 3470,438.3 3471.4,348.3 3472.8,281.8 3474.3,278.8 3475.7,341.1 3477.1,431.3 3478.6,495.3 3480,494.6 3481.4,429.8 3482.9,339.6 3484.3,278.3 3485.7,282.5 3487.2,349.8 3488.6,439.8 3490,498.4 3491.5,490.6 3492.9,421 3494.3,331.3 3495.8,275.4 3497.2,286.8 3498.6,358.7 3500.1,447.9 3501.5,500.9 3502.9,486 3504.4,412 3505.8,323.4 3507.2,273.3 3508.7,291.8 3510.1,367.8 3511.5,455.6 3513,502.7 3514.4,480.7 3515.8,402.8 3517.3,315.8 3518.7,271.9 3520.1,297.4 3521.6,377 3523,463 3524.4,503.7 3525.9,474.8 3527.3,393.6 3528.7,308.8 3530.2,271.2 3531.6,303.5 3533,386.3 3534.5,469.8 3535.9,504 3537.3,468.4 3538.8,384.3 3540.2,302.2 3541.6,271.3 3543.1,310.2 3544.5,395.6 3545.9,476.1 3547.4,503.6 3548.8,461.5 3550.2,375 3551.7,296.1 3553.1,272.1 3554.5,317.4 3556,404.8 3557.4,481.9 3558.8,502.4 3560.3,454 3561.7,365.8 3563.1,290.7 3564.6,273.7 3566,325 3567.4,413.9 3568.9,487 3570.3,500.5 3571.7,446.2 3573.2,356.8 3574.6,285.8 3576,276 3577.5,333.1 3578.9,422.9" fill="none" stroke="#1f77b4" stroke-width="2.2" stroke-opacity="0.82" stroke-linejoin="round" marker-start="url(#mc)" marker-mid="url(#mc)" marker-end="url(#mc)"/>
<polyline points="3034.2,348.5 3035.6,439 3037.1,497.7 3038.5,491.6 3039.9,421.8 3041.4,332.6 3042.8,273.9 3044.2,281.2 3045.7,348.5 3047.1,437.7 3048.5,496.4 3050,490.3 3051.4,419.4 3052.8,326.4 3054.3,271.4 3055.7,286.1 3057.1,360.7 3058.6,450 3060,501.3 3061.4,480.5 3062.9,399.8 3064.3,310.6 3065.7,270.2 3067.2,304.4 3068.6,391.3 3070,474.4 3071.5,501.3 3072.9,451.2 3074.3,357 3075.8,283.6 3077.2,278.8 3078.6,346 3080.1,440.2 3081.5,497.7 3082.9,479.3 3084.4,394.9 3085.8,305.3 3087.2,273.5 3088.7,320.8 3090.1,415.9 3091.5,489 3093,490 3094.4,413.4 3095.8,318.6 3097.3,274.6 3098.7,313.9 3100.1,406.1 3101.6,483.9 3103,488.7 3104.4,414.6 3105.9,319 3107.3,276.8 3108.7,319.8 3110.2,414.6 3111.6,486.5 3113,481.4 3114.5,398.9 3115.9,307.7 3117.3,282.8 3118.8,342.7 3120.2,438.6 3121.6,491.2 3123.1,457.7 3124.5,365.1 3125.9,292.6 3127.4,300.8 3128.8,382.1 3130.2,467.1 3131.7,482.6 3133.1,412.5 3134.5,320.8 3136,291.3 3137.4,346.3 3138.8,437.7 3140.3,480.5 3141.7,438.6 3143.1,349.7 3144.6,298.3 3146,330.9 3147.4,414.6 3148.9,469.5 3150.3,444.7 3151.7,364.2 3153.2,310.8 3154.6,334.5 3156,408.5 3157.5,457.4 3158.9,431.4 3160.3,361.8 3161.8,326.3 3163.2,360.9 3164.6,420.7 3166.1,437.4 3167.5,390.7 3168.9,345.4 3170.4,355.8 3171.8,400.3 3173.2,437.7 3174.7,417.7 3176.1,358.8 3177.5,342.6 3179,385 3180.4,429.2 3181.8,431.8 3183.3,380.8 3184.7,336.7 3186.1,355.6 3187.6,411 3189,438.1 3190.4,396.4 3191.9,344.1 3193.3,353.5 3194.7,401.9 3196.2,437.5 3197.6,407.1 3199,362 3200.5,340.8 3201.9,381.4 3203.3,431.6 3204.8,424.3 3206.2,366.2 3207.6,336.8 3209.1,374.4 3210.5,423.6 3211.9,432.1 3213.4,381.2 3214.8,342.3 3216.2,366 3217.7,417.4 3219.1,434.1 3220.5,380.2 3222,337.1 3223.4,370.3 3224.8,421.1 3226.3,435.6 3227.7,384.6 3229.1,342.9 3230.6,367.3 3232,424.9 3233.4,435.4 3234.9,388.4 3236.3,344.6 3237.7,349.6 3239.2,407.1 3240.6,441.3 3242,404.5 3243.5,346.9 3244.9,346.4 3246.3,395 3247.8,433.9 3249.2,407.5 3250.6,349 3252.1,347.9 3253.5,403 3254.9,437.3 3256.4,407.1 3257.8,346.8 3259.2,345.3 3260.7,407.7 3262.1,435 3263.5,399.3 3265,348.8 3266.4,347 3267.8,388.3 3269.3,435.7 3270.7,410.4 3272.1,351.7 3273.6,350.2 3275,393.1 3276.4,437 3277.9,412.4 3279.3,355.9 3280.7,341.8 3282.2,394.2 3283.6,429.8 3285.1,416.5 3286.5,354.6 3287.9,343.9 3289.4,388.8 3290.8,433.8 3292.2,416 3293.7,364.9 3295.1,339.6 3296.5,389.8 3298,434.5 3299.4,407 3300.8,347.3 3302.3,355.4 3303.7,410.2 3305.1,433.8 3306.6,392.3 3308,346.2 3309.4,358.2 3310.9,410 3312.3,431.6 3313.7,392.3 3315.2,342.7 3316.6,361.3 3318,414.1 3319.5,428.7 3320.9,380.1 3322.3,342.3 3323.8,368.6 3325.2,421.3 3326.6,422.1 3328.1,369.1 3329.5,341.9 3330.9,388.2 3332.4,431.1 3333.8,408.1 3335.2,356.3 3336.7,347.8 3338.1,396.3 3339.5,433.8 3341,399.1 3342.4,352.2 3343.8,363.9 3345.3,416.3 3346.7,426.9 3348.1,371.9 3349.6,344.5 3351,378.4 3352.4,423.7 3353.9,416.2 3355.3,360.1 3356.7,354.5 3358.2,405.5 3359.6,429.1 3361,385.6 3362.5,344.7 3363.9,373.5 3365.3,425.7 3366.8,414 3368.2,361.7 3369.6,353.3 3371.1,401.6 3372.5,430.1 3373.9,385 3375.4,345.3 3376.8,374.5 3378.2,424 3379.7,418.4 3381.1,365 3382.5,348.2 3384,391.2 3385.4,428.9 3386.8,402.5 3388.3,349.2 3389.7,357 3391.1,415.4 3392.6,419.7 3394,370.5 3395.4,349 3396.9,380.7 3398.3,424.8 3399.7,408.8 3401.2,354.2 3402.6,359.1 3404,413.9 3405.5,421.8 3406.9,374.1 3408.3,346.7 3409.8,381.6 3411.2,425.6 3412.6,402.5 3414.1,349.1 3415.5,367 3416.9,420.6 3418.4,404.6 3419.8,354.1 3421.2,363.6 3422.7,414.1 3424.1,423.7 3425.5,372.5 3427,347.3 3428.4,390 3429.8,427.5 3431.3,391.9 3432.7,348.9 3434.1,370.4 3435.6,421.4 3437,414.1 3438.4,366 3439.9,355.3 3441.3,408.8 3442.7,419 3444.2,378.1 3445.6,349.4 3447,382.2 3448.5,423.1 3449.9,401 3451.3,351.4 3452.8,368.4 3454.2,419.6 3455.6,410 3457.1,358.3 3458.5,359.1 3459.9,413 3461.4,418.1 3462.8,366.3 3464.2,354.9 3465.7,409.3 3467.1,419.8 3468.5,367.8 3470,355.4 3471.4,402.1 3472.8,422.2 3474.3,382.5 3475.7,349.7 3477.1,391.1 3478.6,426.4 3480,388.9 3481.4,352 3482.9,380.6 3484.3,423 3485.7,399.1 3487.2,353.5 3488.6,374.4 3490,417.2 3491.5,413.2 3492.9,362.6 3494.3,359.5 3495.8,407.6 3497.2,418.2 3498.6,367.2 3500.1,355.6 3501.5,403.9 3502.9,415.2 3504.4,367.9 3505.8,356.4 3507.2,392.5 3508.7,421.3 3510.1,380.1 3511.5,352.8 3513,390.3 3514.4,422.7 3515.8,391.4 3517.3,352.1 3518.7,375 3520.1,422.6 3521.6,400.3 3523,360 3524.4,368.7 3525.9,416.3 3527.3,403.6 3528.7,357.4 3530.2,363 3531.6,408.5 3533,415.3 3534.5,366 3535.9,361.4 3537.3,409.4 3538.8,414.9 3540.2,365.7 3541.6,358.6 3543.1,411.9 3544.5,408.8 3545.9,363.2 3547.4,363 3548.8,412.7 3550.2,408 3551.7,359.7 3553.1,371.8 3554.5,415.5 3556,408.1 3557.4,365.7 3558.8,362.2 3560.3,413.1 3561.7,408.7 3563.1,358.1 3564.6,371.1 3566,416.1 3567.4,404 3568.9,359.9 3570.3,367.1 3571.7,414.6 3573.2,405.9 3574.6,360.8 3576,365.1 3577.5,414.4 3578.9,407.8" fill="none" stroke="#ff7f0e" stroke-width="2.2" stroke-opacity="0.82" stroke-linejoin="round" stroke-dasharray="6.6 2.9" marker-start="url(#ms)" marker-mid="url(#ms)" marker-end="url(#ms)"/>
</g>
<rect x="3007.1" y="256.8" width="600.4" height="259.3" fill="none" stroke="#4a4a4a" stroke-width="1.5"/>
<path d="M3034.2 516.1v4.2M3105.9 516.1v4.2M3177.5 516.1v4.2M3249.2 516.1v4.2M3320.9 516.1v4.2M3392.6 516.1v4.2M3464.2 516.1v4.2M3535.9 516.1v4.2M3007.1 509.9h-4.2M3007.1 479.3h-4.2M3007.1 448.8h-4.2M3007.1 418.2h-4.2M3007.1 387.6h-4.2M3007.1 357h-4.2M3007.1 326.4h-4.2M3007.1 295.9h-4.2M3007.1 265.3h-4.2" stroke="#4a4a4a" stroke-width="1.4" fill="none"/>
<text x="3034.2" y="534.3" font-size="12.5" text-anchor="middle" textLength="7.3" lengthAdjust="spacingAndGlyphs" fill="#262626" stroke="#262626" stroke-width="0.3">0</text>
<text x="3105.9" y="534.3" font-size="12.5" text-anchor="middle" textLength="14.6" lengthAdjust="spacingAndGlyphs" fill="#262626" stroke="#262626" stroke-width="0.3">50</text>
<text x="3177.5" y="534.3" font-size="12.5" text-anchor="middle" textLength="21.9" lengthAdjust="spacingAndGlyphs" fill="#262626" stroke="#262626" stroke-width="0.3">100</text>
<text x="3249.2" y="534.3" font-size="12.5" text-anchor="middle" textLength="21.9" lengthAdjust="spacingAndGlyphs" fill="#262626" stroke="#262626" stroke-width="0.3">150</text>
<text x="3320.9" y="534.3" font-size="12.5" text-anchor="middle" textLength="21.9" lengthAdjust="spacingAndGlyphs" fill="#262626" stroke="#262626" stroke-width="0.3">200</text>
<text x="3392.6" y="534.3" font-size="12.5" text-anchor="middle" textLength="21.9" lengthAdjust="spacingAndGlyphs" fill="#262626" stroke="#262626" stroke-width="0.3">250</text>
<text x="3464.2" y="534.3" font-size="12.5" text-anchor="middle" textLength="21.9" lengthAdjust="spacingAndGlyphs" fill="#262626" stroke="#262626" stroke-width="0.3">300</text>
<text x="3535.9" y="534.3" font-size="12.5" text-anchor="middle" textLength="21.9" lengthAdjust="spacingAndGlyphs" fill="#262626" stroke="#262626" stroke-width="0.3">350</text>
<text x="2997.3" y="515.5" font-size="12.5" text-anchor="end" textLength="35.2" lengthAdjust="spacingAndGlyphs" fill="#262626" stroke="#262626" stroke-width="0.3">−1.00</text>
<text x="2997.3" y="484.9" font-size="12.5" text-anchor="end" textLength="35.2" lengthAdjust="spacingAndGlyphs" fill="#262626" stroke="#262626" stroke-width="0.3">−0.75</text>
<text x="2997.3" y="454.3" font-size="12.5" text-anchor="end" textLength="35.2" lengthAdjust="spacingAndGlyphs" fill="#262626" stroke="#262626" stroke-width="0.3">−0.50</text>
<text x="2997.3" y="423.7" font-size="12.5" text-anchor="end" textLength="35.2" lengthAdjust="spacingAndGlyphs" fill="#262626" stroke="#262626" stroke-width="0.3">−0.25</text>
<text x="2997.3" y="393.2" font-size="12.5" text-anchor="end" textLength="25.5" lengthAdjust="spacingAndGlyphs" fill="#262626" stroke="#262626" stroke-width="0.3">0.00</text>
<text x="2997.3" y="362.6" font-size="12.5" text-anchor="end" textLength="25.5" lengthAdjust="spacingAndGlyphs" fill="#262626" stroke="#262626" stroke-width="0.3">0.25</text>
<text x="2997.3" y="332" font-size="12.5" text-anchor="end" textLength="25.5" lengthAdjust="spacingAndGlyphs" fill="#262626" stroke="#262626" stroke-width="0.3">0.50</text>
<text x="2997.3" y="301.4" font-size="12.5" text-anchor="end" textLength="25.5" lengthAdjust="spacingAndGlyphs" fill="#262626" stroke="#262626" stroke-width="0.3">0.75</text>
<text x="2997.3" y="270.9" font-size="12.5" text-anchor="end" textLength="25.5" lengthAdjust="spacingAndGlyphs" fill="#262626" stroke="#262626" stroke-width="0.3">1.00</text>
<text x="3306.7" y="250.3" font-size="14.3" text-anchor="middle" textLength="433.8" lengthAdjust="spacingAndGlyphs" fill="#262626" stroke="#262626" stroke-width="0.3">Test sequence: true vs autoregressive (context window = 5)</text>
<text x="3271.8" y="554" font-size="12.4" fill="#262626" stroke="#262626" stroke-width="0.3" textLength="63.9" lengthAdjust="spacingAndGlyphs" xml:space="preserve">Time step </text>
<text x="3335.7" y="554" font-size="12.5" fill="#262626" stroke="#262626" stroke-width="0.3" font-style="italic">t</text>
<g transform="translate(2950.5 386.5) rotate(-90)" font-size="12" fill="#262626" stroke="#262626" stroke-width="0.3"><text x="-10.5" y="0" font-style="italic">x</text><text x="-3.5" y="0">(</text><text x="1.2" y="0" font-style="italic">t</text><text x="5.9" y="0">)</text></g>
<rect x="3012.6" y="366.9" width="126" height="39.2" rx="2.4" fill="#fff" fill-opacity="0.8" stroke="#ccc" stroke-opacity="0.8" stroke-width="1.2"/>
<path d="M3017 377.5H3042.1" stroke="#1f77b4" stroke-width="2.2" stroke-opacity="0.82"/>
<circle cx="3029.8" cy="377.5" r="4.2" fill="#1f77b4"/>
<path d="M3017 395.9H3042.1" stroke="#ff7f0e" stroke-width="2.2" stroke-opacity="0.82" stroke-dasharray="6.6 2.9"/>
<rect x="3026.2" y="392.3" width="7.2" height="7.2" fill="#ff7f0e"/>
<text x="3050.3" y="381.1" font-size="12" text-anchor="start" textLength="25.4" lengthAdjust="spacingAndGlyphs" fill="#262626" stroke="#262626" stroke-width="0.3">True</text>
<text x="3050.3" y="399.4" font-size="12" text-anchor="start" textLength="82" lengthAdjust="spacingAndGlyphs" fill="#262626" stroke="#262626" stroke-width="0.3">AR generated</text>
</g>
<g>
<rect x="218.6" y="605.4" width="599.6" height="258.4" fill="#fff"/>
<path d="M246.1 605.4V863.8M317.6 605.4V863.8M389.2 605.4V863.8M460.7 605.4V863.8M532.3 605.4V863.8M603.8 605.4V863.8M675.4 605.4V863.8M746.9 605.4V863.8M218.6 859.4H818.2M218.6 828.1H818.2M218.6 796.9H818.2M218.6 765.6H818.2M218.6 734.4H818.2M218.6 703.1H818.2M218.6 671.9H818.2M218.6 640.6H818.2M218.6 609.4H818.2" stroke="#b0b0b0" stroke-opacity="0.21" stroke-width="1.3" fill="none"/>
<clipPath id="c5"><rect x="218.6" y="605.4" width="599.6" height="258.4"/></clipPath>
<g clip-path="url(#c5)">
<polyline points="246.1,694.3 274.7,786.4 303.3,847.2 332,840.4 360.6,770 389.2,678.2 417.8,620.2 446.4,630.6 475,703.4 503.7,794.7 532.3,849.9 560.9,835.8 589.5,760.8 618.1,670 646.7,617.9 675.4,635.6 704,712.6 732.6,802.7 761.2,851.8 789.8,830.5" fill="none" stroke="#1f77b4" stroke-width="2.2" stroke-opacity="0.82" stroke-linejoin="round" marker-start="url(#mc)" marker-mid="url(#mc)" marker-end="url(#mc)"/>
<polyline points="246.1,694.3 274.7,786.4 303.3,847.2 332,840.4 360.6,770 389.2,678.2 417.8,622 446.4,630.6 475,703.4 503.7,794.7 532.3,849.9 560.9,837.6 589.5,760.8 618.1,670 646.7,617.9 675.4,635.6 704,712.6 732.6,802.7 761.2,851.8 789.8,830.5" fill="none" stroke="#ff7f0e" stroke-width="2.2" stroke-opacity="0.82" stroke-linejoin="round" stroke-dasharray="6.6 2.9" marker-start="url(#ms)" marker-mid="url(#ms)" marker-end="url(#ms)"/>
</g>
<rect x="218.6" y="605.4" width="599.6" height="258.4" fill="none" stroke="#4a4a4a" stroke-width="1.5"/>
<path d="M246.1 863.8v4.2M317.6 863.8v4.2M389.2 863.8v4.2M460.7 863.8v4.2M532.3 863.8v4.2M603.8 863.8v4.2M675.4 863.8v4.2M746.9 863.8v4.2M218.6 859.4h-4.2M218.6 828.1h-4.2M218.6 796.9h-4.2M218.6 765.6h-4.2M218.6 734.4h-4.2M218.6 703.1h-4.2M218.6 671.9h-4.2M218.6 640.6h-4.2M218.6 609.4h-4.2" stroke="#4a4a4a" stroke-width="1.4" fill="none"/>
<text x="246.1" y="882" font-size="12.5" text-anchor="middle" textLength="18.2" lengthAdjust="spacingAndGlyphs" fill="#262626" stroke="#262626" stroke-width="0.3">0.0</text>
<text x="317.6" y="882" font-size="12.5" text-anchor="middle" textLength="18.2" lengthAdjust="spacingAndGlyphs" fill="#262626" stroke="#262626" stroke-width="0.3">2.5</text>
<text x="389.2" y="882" font-size="12.5" text-anchor="middle" textLength="18.2" lengthAdjust="spacingAndGlyphs" fill="#262626" stroke="#262626" stroke-width="0.3">5.0</text>
<text x="460.7" y="882" font-size="12.5" text-anchor="middle" textLength="18.2" lengthAdjust="spacingAndGlyphs" fill="#262626" stroke="#262626" stroke-width="0.3">7.5</text>
<text x="532.3" y="882" font-size="12.5" text-anchor="middle" textLength="25.5" lengthAdjust="spacingAndGlyphs" fill="#262626" stroke="#262626" stroke-width="0.3">10.0</text>
<text x="603.8" y="882" font-size="12.5" text-anchor="middle" textLength="25.5" lengthAdjust="spacingAndGlyphs" fill="#262626" stroke="#262626" stroke-width="0.3">12.5</text>
<text x="675.4" y="882" font-size="12.5" text-anchor="middle" textLength="25.5" lengthAdjust="spacingAndGlyphs" fill="#262626" stroke="#262626" stroke-width="0.3">15.0</text>
<text x="746.9" y="882" font-size="12.5" text-anchor="middle" textLength="25.5" lengthAdjust="spacingAndGlyphs" fill="#262626" stroke="#262626" stroke-width="0.3">17.5</text>
<text x="208.8" y="865" font-size="12.5" text-anchor="end" textLength="35.2" lengthAdjust="spacingAndGlyphs" fill="#262626" stroke="#262626" stroke-width="0.3">−1.00</text>
<text x="208.8" y="833.7" font-size="12.5" text-anchor="end" textLength="35.2" lengthAdjust="spacingAndGlyphs" fill="#262626" stroke="#262626" stroke-width="0.3">−0.75</text>
<text x="208.8" y="802.5" font-size="12.5" text-anchor="end" textLength="35.2" lengthAdjust="spacingAndGlyphs" fill="#262626" stroke="#262626" stroke-width="0.3">−0.50</text>
<text x="208.8" y="771.2" font-size="12.5" text-anchor="end" textLength="35.2" lengthAdjust="spacingAndGlyphs" fill="#262626" stroke="#262626" stroke-width="0.3">−0.25</text>
<text x="208.8" y="740" font-size="12.5" text-anchor="end" textLength="25.5" lengthAdjust="spacingAndGlyphs" fill="#262626" stroke="#262626" stroke-width="0.3">0.00</text>
<text x="208.8" y="708.7" font-size="12.5" text-anchor="end" textLength="25.5" lengthAdjust="spacingAndGlyphs" fill="#262626" stroke="#262626" stroke-width="0.3">0.25</text>
<text x="208.8" y="677.5" font-size="12.5" text-anchor="end" textLength="25.5" lengthAdjust="spacingAndGlyphs" fill="#262626" stroke="#262626" stroke-width="0.3">0.50</text>
<text x="208.8" y="646.2" font-size="12.5" text-anchor="end" textLength="25.5" lengthAdjust="spacingAndGlyphs" fill="#262626" stroke="#262626" stroke-width="0.3">0.75</text>
<text x="208.8" y="615" font-size="12.5" text-anchor="end" textLength="25.5" lengthAdjust="spacingAndGlyphs" fill="#262626" stroke="#262626" stroke-width="0.3">1.00</text>
<text x="517.8" y="598.9" font-size="14.3" text-anchor="middle" textLength="409.6" lengthAdjust="spacingAndGlyphs" fill="#262626" stroke="#262626" stroke-width="0.3">True vs AR-generated (context = 5, after Adam finetune)</text>
<text x="482.9" y="901.7" font-size="12.4" fill="#262626" stroke="#262626" stroke-width="0.3" textLength="63.9" lengthAdjust="spacingAndGlyphs" xml:space="preserve">Time step </text>
<text x="546.8" y="901.7" font-size="12.5" fill="#262626" stroke="#262626" stroke-width="0.3" font-style="italic">t</text>
<g transform="translate(162 734.6) rotate(-90)" font-size="12" fill="#262626" stroke="#262626" stroke-width="0.3"><text x="-10.5" y="0" font-style="italic">x</text><text x="-3.5" y="0">(</text><text x="1.2" y="0" font-style="italic">t</text><text x="5.9" y="0">)</text></g>
<rect x="224.1" y="611.4" width="169.1" height="39.2" rx="2.4" fill="#fff" fill-opacity="0.8" stroke="#ccc" stroke-opacity="0.8" stroke-width="1.2"/>
<path d="M228.5 621.7H253.6" stroke="#1f77b4" stroke-width="2.2" stroke-opacity="0.82"/>
<circle cx="241.3" cy="621.7" r="4.2" fill="#1f77b4"/>
<path d="M228.5 640.5H253.6" stroke="#ff7f0e" stroke-width="2.2" stroke-opacity="0.82" stroke-dasharray="6.6 2.9"/>
<rect x="237.7" y="636.9" width="7.2" height="7.2" fill="#ff7f0e"/>
<text x="261.8" y="625.9" font-size="12" text-anchor="start" textLength="25.4" lengthAdjust="spacingAndGlyphs" fill="#262626" stroke="#262626" stroke-width="0.3">True</text>
<text x="261.8" y="644.7" font-size="12" text-anchor="start" textLength="125.1" lengthAdjust="spacingAndGlyphs" fill="#262626" stroke="#262626" stroke-width="0.3">AR (Adam finetuned)</text>
</g>
<g>
<rect x="910.4" y="602.2" width="599.7" height="259.2" fill="#fff"/>
<path d="M937.8 602.2V861.4M1009.4 602.2V861.4M1081.1 602.2V861.4M1152.7 602.2V861.4M1224.4 602.2V861.4M1296 602.2V861.4M1367.7 602.2V861.4M1439.3 602.2V861.4M910.4 854.3H1510.1M910.4 823.6H1510.1M910.4 793H1510.1M910.4 762.3H1510.1M910.4 731.6H1510.1M910.4 701H1510.1M910.4 670.3H1510.1M910.4 639.7H1510.1M910.4 609H1510.1" stroke="#b0b0b0" stroke-opacity="0.21" stroke-width="1.3" fill="none"/>
<clipPath id="c6"><rect x="910.4" y="602.2" width="599.7" height="259.2"/></clipPath>
<g clip-path="url(#c6)">
<polyline points="937.8,692.3 952.1,782.6 966.5,842.4 980.8,835.7 995.1,766.6 1009.4,676.5 1023.8,619.6 1038.1,629.8 1052.4,701.2 1066.8,790.8 1081.1,845 1095.4,831.1 1109.7,757.6 1124.1,668.5 1138.4,617.3 1152.7,634.7 1167.1,710.3 1181.4,798.7 1195.7,846.8 1210,825.9 1224.4,748.4 1238.7,660.9 1253,615.8 1267.4,640.2 1281.7,719.5 1296,806.1 1310.3,848 1324.7,820.1 1339,739.1 1353.3,653.7 1367.7,615 1382,646.3 1396.3,728.8 1410.6,813 1425,848.4 1439.3,813.7 1453.6,729.8 1468,647 1482.3,615" fill="none" stroke="#1f77b4" stroke-width="2.2" stroke-opacity="0.82" stroke-linejoin="round" marker-start="url(#mc)" marker-mid="url(#mc)" marker-end="url(#mc)"/>
<polyline points="937.8,692.3 952.1,782.6 966.5,842.4 980.8,835.7 995.1,766.6 1009.4,679.5 1023.8,624 1038.1,634.3 1052.4,704.2 1066.8,793.8 1081.1,847.9 1095.4,834 1109.7,760.5 1124.1,671.4 1138.4,620.2 1152.7,637.7 1167.1,713.2 1181.4,801.6 1195.7,849.8 1210,828.8 1224.4,751.3 1238.7,663.8 1253,618.7 1267.4,643.2 1281.7,722.5 1296,809 1310.3,850.9 1324.7,824.5 1339,743.5 1353.3,656.6 1367.7,617.9 1382,649.3 1396.3,731.8 1410.6,816 1425,851.4 1439.3,816.7 1453.6,732.8 1468,649.9 1482.3,617.9" fill="none" stroke="#ff7f0e" stroke-width="2.2" stroke-opacity="0.82" stroke-linejoin="round" stroke-dasharray="6.6 2.9" marker-start="url(#ms)" marker-mid="url(#ms)" marker-end="url(#ms)"/>
</g>
<rect x="910.4" y="602.2" width="599.7" height="259.2" fill="none" stroke="#4a4a4a" stroke-width="1.5"/>
<path d="M937.8 861.4v4.2M1009.4 861.4v4.2M1081.1 861.4v4.2M1152.7 861.4v4.2M1224.4 861.4v4.2M1296 861.4v4.2M1367.7 861.4v4.2M1439.3 861.4v4.2M910.4 854.3h-4.2M910.4 823.6h-4.2M910.4 793h-4.2M910.4 762.3h-4.2M910.4 731.6h-4.2M910.4 701h-4.2M910.4 670.3h-4.2M910.4 639.7h-4.2M910.4 609h-4.2" stroke="#4a4a4a" stroke-width="1.4" fill="none"/>
<text x="937.8" y="879.6" font-size="12.5" text-anchor="middle" textLength="7.3" lengthAdjust="spacingAndGlyphs" fill="#262626" stroke="#262626" stroke-width="0.3">0</text>
<text x="1009.4" y="879.6" font-size="12.5" text-anchor="middle" textLength="7.3" lengthAdjust="spacingAndGlyphs" fill="#262626" stroke="#262626" stroke-width="0.3">5</text>
<text x="1081.1" y="879.6" font-size="12.5" text-anchor="middle" textLength="14.6" lengthAdjust="spacingAndGlyphs" fill="#262626" stroke="#262626" stroke-width="0.3">10</text>
<text x="1152.7" y="879.6" font-size="12.5" text-anchor="middle" textLength="14.6" lengthAdjust="spacingAndGlyphs" fill="#262626" stroke="#262626" stroke-width="0.3">15</text>
<text x="1224.4" y="879.6" font-size="12.5" text-anchor="middle" textLength="14.6" lengthAdjust="spacingAndGlyphs" fill="#262626" stroke="#262626" stroke-width="0.3">20</text>
<text x="1296" y="879.6" font-size="12.5" text-anchor="middle" textLength="14.6" lengthAdjust="spacingAndGlyphs" fill="#262626" stroke="#262626" stroke-width="0.3">25</text>
<text x="1367.7" y="879.6" font-size="12.5" text-anchor="middle" textLength="14.6" lengthAdjust="spacingAndGlyphs" fill="#262626" stroke="#262626" stroke-width="0.3">30</text>
<text x="1439.3" y="879.6" font-size="12.5" text-anchor="middle" textLength="14.6" lengthAdjust="spacingAndGlyphs" fill="#262626" stroke="#262626" stroke-width="0.3">35</text>
<text x="900.6" y="859.9" font-size="12.5" text-anchor="end" textLength="35.2" lengthAdjust="spacingAndGlyphs" fill="#262626" stroke="#262626" stroke-width="0.3">−1.00</text>
<text x="900.6" y="829.2" font-size="12.5" text-anchor="end" textLength="35.2" lengthAdjust="spacingAndGlyphs" fill="#262626" stroke="#262626" stroke-width="0.3">−0.75</text>
<text x="900.6" y="798.5" font-size="12.5" text-anchor="end" textLength="35.2" lengthAdjust="spacingAndGlyphs" fill="#262626" stroke="#262626" stroke-width="0.3">−0.50</text>
<text x="900.6" y="767.9" font-size="12.5" text-anchor="end" textLength="35.2" lengthAdjust="spacingAndGlyphs" fill="#262626" stroke="#262626" stroke-width="0.3">−0.25</text>
<text x="900.6" y="737.2" font-size="12.5" text-anchor="end" textLength="25.5" lengthAdjust="spacingAndGlyphs" fill="#262626" stroke="#262626" stroke-width="0.3">0.00</text>
<text x="900.6" y="706.5" font-size="12.5" text-anchor="end" textLength="25.5" lengthAdjust="spacingAndGlyphs" fill="#262626" stroke="#262626" stroke-width="0.3">0.25</text>
<text x="900.6" y="675.9" font-size="12.5" text-anchor="end" textLength="25.5" lengthAdjust="spacingAndGlyphs" fill="#262626" stroke="#262626" stroke-width="0.3">0.50</text>
<text x="900.6" y="645.2" font-size="12.5" text-anchor="end" textLength="25.5" lengthAdjust="spacingAndGlyphs" fill="#262626" stroke="#262626" stroke-width="0.3">0.75</text>
<text x="900.6" y="614.6" font-size="12.5" text-anchor="end" textLength="25.5" lengthAdjust="spacingAndGlyphs" fill="#262626" stroke="#262626" stroke-width="0.3">1.00</text>
<text x="1209.7" y="595.7" font-size="14.3" text-anchor="middle" textLength="409.6" lengthAdjust="spacingAndGlyphs" fill="#262626" stroke="#262626" stroke-width="0.3">True vs AR-generated (context = 5, after Adam finetune)</text>
<text x="1174.8" y="899.3" font-size="12.4" fill="#262626" stroke="#262626" stroke-width="0.3" textLength="63.9" lengthAdjust="spacingAndGlyphs" xml:space="preserve">Time step </text>
<text x="1238.7" y="899.3" font-size="12.5" fill="#262626" stroke="#262626" stroke-width="0.3" font-style="italic">t</text>
<g transform="translate(853.8 731.8) rotate(-90)" font-size="12" fill="#262626" stroke="#262626" stroke-width="0.3"><text x="-10.5" y="0" font-style="italic">x</text><text x="-3.5" y="0">(</text><text x="1.2" y="0" font-style="italic">t</text><text x="5.9" y="0">)</text></g>
<rect x="915.9" y="712.2" width="169.1" height="39.2" rx="2.4" fill="#fff" fill-opacity="0.8" stroke="#ccc" stroke-opacity="0.8" stroke-width="1.2"/>
<path d="M920.3 722.5H945.4" stroke="#1f77b4" stroke-width="2.2" stroke-opacity="0.82"/>
<circle cx="933.1" cy="722.5" r="4.2" fill="#1f77b4"/>
<path d="M920.3 741.3H945.4" stroke="#ff7f0e" stroke-width="2.2" stroke-opacity="0.82" stroke-dasharray="6.6 2.9"/>
<rect x="929.5" y="737.7" width="7.2" height="7.2" fill="#ff7f0e"/>
<text x="953.6" y="726.7" font-size="12" text-anchor="start" textLength="25.4" lengthAdjust="spacingAndGlyphs" fill="#262626" stroke="#262626" stroke-width="0.3">True</text>
<text x="953.6" y="745.5" font-size="12" text-anchor="start" textLength="125.1" lengthAdjust="spacingAndGlyphs" fill="#262626" stroke="#262626" stroke-width="0.3">AR (Adam finetuned)</text>
</g>
<g>
<rect x="1614.8" y="602.6" width="600.1" height="258.4" fill="#fff"/>
<path d="M1642.4 602.6V861M1756.9 602.6V861M1871.4 602.6V861M1985.9 602.6V861M2100.4 602.6V861M1614.8 855.5H2214.9M1614.8 824.7H2214.9M1614.8 794H2214.9M1614.8 763.2H2214.9M1614.8 732.5H2214.9M1614.8 701.7H2214.9M1614.8 670.9H2214.9M1614.8 640.2H2214.9M1614.8 609.4H2214.9" stroke="#b0b0b0" stroke-opacity="0.21" stroke-width="1.3" fill="none"/>
<clipPath id="c7"><rect x="1614.8" y="602.6" width="600.1" height="258.4"/></clipPath>
<g clip-path="url(#c7)">
<polyline points="1642.4,693 1648.1,783.6 1653.9,843.5 1659.6,836.8 1665.3,767.5 1671,677.1 1676.8,620 1682.5,630.3 1688.2,701.9 1693.9,791.8 1699.7,846.1 1705.4,832.2 1711.1,758.4 1716.8,669.1 1722.6,617.7 1728.3,635.2 1734,711 1739.7,799.7 1745.5,848 1751.2,827 1756.9,749.3 1762.6,661.4 1768.4,616.2 1774.1,640.7 1779.8,720.3 1785.5,807.1 1791.2,849.2 1797,821.2 1802.7,740 1808.4,654.2 1814.2,615.4 1819.9,646.8 1825.6,729.6 1831.3,814.1 1837.1,849.6 1842.8,814.8 1848.5,730.6 1854.2,647.5 1860,615.4 1865.7,653.5 1871.4,739 1877.1,820.5 1882.9,849.3 1888.6,807.9 1894.3,721.3 1900,641.3 1905.8,616.1 1911.5,660.6 1917.2,748.3 1922.9,826.4 1928.7,848.2 1934.4,800.5 1940.1,712 1945.8,635.8 1951.6,617.5 1957.3,668.3 1963,757.5 1968.7,831.7 1974.5,846.4 1980.2,792.7 1985.9,702.9 1991.6,630.8 1997.4,619.7 2003.1,676.3 2008.8,766.5 2014.5,836.3 2020.2,843.8 2026,784.5 2031.7,693.9 2037.4,626.5 2043.2,622.6 2048.9,684.7 2054.6,775.4 2060.3,840.3 2066.1,840.6 2071.8,775.9 2077.5,685.2 2083.2,622.8 2089,626.2 2094.7,693.3 2100.4,783.9 2106.1,843.6 2111.8,836.6 2117.6,767.1 2123.3,676.8 2129,619.9 2134.8,630.5 2140.5,702.3 2146.2,792.2 2151.9,846.2 2157.7,832 2163.4,758.1 2169.1,668.8 2174.8,617.7 2180.6,635.4 2186.3,711.4" fill="none" stroke="#1f77b4" stroke-width="2.2" stroke-opacity="0.82" stroke-linejoin="round" marker-start="url(#mc)" marker-mid="url(#mc)" marker-end="url(#mc)"/>
<polyline points="1642.4,693.2 1648.1,783.9 1653.9,843.4 1659.6,836.8 1665.3,768.4 1671,677.4 1676.8,619.4 1682.5,625.2 1688.2,691.1 1693.9,778.3 1699.7,835.8 1705.4,832.9 1711.1,768.6 1716.8,682.6 1722.6,624.8 1728.3,629.9 1734,692.1 1739.7,774.8 1745.5,830.4 1751.2,827.3 1756.9,765.1 1762.6,682.6 1768.4,629.3 1774.1,635.7 1779.8,698.1 1785.5,776 1791.2,826.1 1797,819.4 1802.7,758 1808.4,680.2 1814.2,634.5 1819.9,647.3 1825.6,708.7 1831.3,781.8 1837.1,820.7 1842.8,805.8 1848.5,742.2 1854.2,673.1 1860,641.5 1865.7,666.7 1871.4,730.4 1877.1,791.1 1882.9,811.2 1888.6,779 1894.3,717.6 1900,665.5 1905.8,659.5 1911.5,699.3 1917.2,755 1922.9,792.4 1928.7,785.4 1934.4,743.2 1940.1,699.3 1945.8,683.8 1951.6,701.4 1957.3,732.5 1963,751 1968.7,745.6 1974.5,732.8 1980.2,731.2 1985.9,742.5 1991.6,745.6 1997.4,727.5 2003.1,700.2 2008.8,689.9 2014.5,706.4 2020.2,741.1 2026,767.5 2031.7,765.1 2037.4,739.8 2043.2,716.1 2048.9,712.1 2054.6,723.1 2060.3,728.5 2066.1,720.3 2071.8,707.8 2077.5,709.9 2083.2,731.6 2089,756.2 2094.7,761.1 2100.4,741.3 2106.1,716.1 2111.8,707.8 2117.6,718.2 2123.3,733.1 2129,733.9 2134.8,723.1 2140.5,716.1 2146.2,725.6 2151.9,743.4 2157.7,750.4 2163.4,737.4 2169.1,716.1 2174.8,707.8 2180.6,719.4 2186.3,737" fill="none" stroke="#ff7f0e" stroke-width="2.2" stroke-opacity="0.82" stroke-linejoin="round" stroke-dasharray="6.6 2.9" marker-start="url(#ms)" marker-mid="url(#ms)" marker-end="url(#ms)"/>
</g>
<rect x="1614.8" y="602.6" width="600.1" height="258.4" fill="none" stroke="#4a4a4a" stroke-width="1.5"/>
<path d="M1642.4 861v4.2M1756.9 861v4.2M1871.4 861v4.2M1985.9 861v4.2M2100.4 861v4.2M1614.8 855.5h-4.2M1614.8 824.7h-4.2M1614.8 794h-4.2M1614.8 763.2h-4.2M1614.8 732.5h-4.2M1614.8 701.7h-4.2M1614.8 670.9h-4.2M1614.8 640.2h-4.2M1614.8 609.4h-4.2" stroke="#4a4a4a" stroke-width="1.4" fill="none"/>
<text x="1642.4" y="879.2" font-size="12.5" text-anchor="middle" textLength="7.3" lengthAdjust="spacingAndGlyphs" fill="#262626" stroke="#262626" stroke-width="0.3">0</text>
<text x="1756.9" y="879.2" font-size="12.5" text-anchor="middle" textLength="14.6" lengthAdjust="spacingAndGlyphs" fill="#262626" stroke="#262626" stroke-width="0.3">20</text>
<text x="1871.4" y="879.2" font-size="12.5" text-anchor="middle" textLength="14.6" lengthAdjust="spacingAndGlyphs" fill="#262626" stroke="#262626" stroke-width="0.3">40</text>
<text x="1985.9" y="879.2" font-size="12.5" text-anchor="middle" textLength="14.6" lengthAdjust="spacingAndGlyphs" fill="#262626" stroke="#262626" stroke-width="0.3">60</text>
<text x="2100.4" y="879.2" font-size="12.5" text-anchor="middle" textLength="14.6" lengthAdjust="spacingAndGlyphs" fill="#262626" stroke="#262626" stroke-width="0.3">80</text>
<text x="1605" y="861.1" font-size="12.5" text-anchor="end" textLength="35.2" lengthAdjust="spacingAndGlyphs" fill="#262626" stroke="#262626" stroke-width="0.3">−1.00</text>
<text x="1605" y="830.3" font-size="12.5" text-anchor="end" textLength="35.2" lengthAdjust="spacingAndGlyphs" fill="#262626" stroke="#262626" stroke-width="0.3">−0.75</text>
<text x="1605" y="799.5" font-size="12.5" text-anchor="end" textLength="35.2" lengthAdjust="spacingAndGlyphs" fill="#262626" stroke="#262626" stroke-width="0.3">−0.50</text>
<text x="1605" y="768.8" font-size="12.5" text-anchor="end" textLength="35.2" lengthAdjust="spacingAndGlyphs" fill="#262626" stroke="#262626" stroke-width="0.3">−0.25</text>
<text x="1605" y="738" font-size="12.5" text-anchor="end" textLength="25.5" lengthAdjust="spacingAndGlyphs" fill="#262626" stroke="#262626" stroke-width="0.3">0.00</text>
<text x="1605" y="707.2" font-size="12.5" text-anchor="end" textLength="25.5" lengthAdjust="spacingAndGlyphs" fill="#262626" stroke="#262626" stroke-width="0.3">0.25</text>
<text x="1605" y="676.5" font-size="12.5" text-anchor="end" textLength="25.5" lengthAdjust="spacingAndGlyphs" fill="#262626" stroke="#262626" stroke-width="0.3">0.50</text>
<text x="1605" y="645.7" font-size="12.5" text-anchor="end" textLength="25.5" lengthAdjust="spacingAndGlyphs" fill="#262626" stroke="#262626" stroke-width="0.3">0.75</text>
<text x="1605" y="615" font-size="12.5" text-anchor="end" textLength="25.5" lengthAdjust="spacingAndGlyphs" fill="#262626" stroke="#262626" stroke-width="0.3">1.00</text>
<text x="1914.2" y="596.1" font-size="14.3" text-anchor="middle" textLength="409.6" lengthAdjust="spacingAndGlyphs" fill="#262626" stroke="#262626" stroke-width="0.3">True vs AR-generated (context = 5, after Adam finetune)</text>
<text x="1879.4" y="898.9" font-size="12.4" fill="#262626" stroke="#262626" stroke-width="0.3" textLength="63.9" lengthAdjust="spacingAndGlyphs" xml:space="preserve">Time step </text>
<text x="1943.3" y="898.9" font-size="12.5" fill="#262626" stroke="#262626" stroke-width="0.3" font-style="italic">t</text>
<g transform="translate(1558.2 731.8) rotate(-90)" font-size="12" fill="#262626" stroke="#262626" stroke-width="0.3"><text x="-10.5" y="0" font-style="italic">x</text><text x="-3.5" y="0">(</text><text x="1.2" y="0" font-style="italic">t</text><text x="5.9" y="0">)</text></g>
<rect x="1620.3" y="712.2" width="169.1" height="39.2" rx="2.4" fill="#fff" fill-opacity="0.8" stroke="#ccc" stroke-opacity="0.8" stroke-width="1.2"/>
<path d="M1624.7 722.5H1649.8" stroke="#1f77b4" stroke-width="2.2" stroke-opacity="0.82"/>
<circle cx="1637.5" cy="722.5" r="4.2" fill="#1f77b4"/>
<path d="M1624.7 741.3H1649.8" stroke="#ff7f0e" stroke-width="2.2" stroke-opacity="0.82" stroke-dasharray="6.6 2.9"/>
<rect x="1633.9" y="737.7" width="7.2" height="7.2" fill="#ff7f0e"/>
<text x="1658" y="726.7" font-size="12" text-anchor="start" textLength="25.4" lengthAdjust="spacingAndGlyphs" fill="#262626" stroke="#262626" stroke-width="0.3">True</text>
<text x="1658" y="745.5" font-size="12" text-anchor="start" textLength="125.1" lengthAdjust="spacingAndGlyphs" fill="#262626" stroke="#262626" stroke-width="0.3">AR (Adam finetuned)</text>
</g>
<g>
<rect x="2305.2" y="599.4" width="600.1" height="258.9" fill="#fff"/>
<path d="M2332.7 599.4V858.3M2404.3 599.4V858.3M2475.9 599.4V858.3M2547.5 599.4V858.3M2619.2 599.4V858.3M2690.8 599.4V858.3M2762.4 599.4V858.3M2834 599.4V858.3M2305.2 853.1H2905.3M2305.2 822.2H2905.3M2305.2 791.4H2905.3M2305.2 760.5H2905.3M2305.2 729.7H2905.3M2305.2 698.8H2905.3M2305.2 667.9H2905.3M2305.2 637.1H2905.3M2305.2 606.2H2905.3" stroke="#b0b0b0" stroke-opacity="0.21" stroke-width="1.3" fill="none"/>
<clipPath id="c8"><rect x="2305.2" y="599.4" width="600.1" height="258.9"/></clipPath>
<g clip-path="url(#c8)">
<polyline points="2332.7,690.1 2335.6,781 2338.4,841.1 2341.3,834.3 2344.2,764.8 2347,674.2 2349.9,616.8 2352.8,627.2 2355.6,699 2358.5,789.2 2361.3,843.7 2364.2,829.7 2367.1,755.7 2369.9,666.1 2372.8,614.6 2375.7,632.1 2378.5,708.2 2381.4,797.1 2384.3,845.6 2387.1,824.5 2390,746.5 2392.9,658.4 2395.7,613 2398.6,637.6 2401.4,717.4 2404.3,804.6 2407.2,846.8 2410,818.7 2412.9,737.2 2415.8,651.2 2418.6,612.2 2421.5,643.8 2424.4,726.8 2427.2,811.6 2430.1,847.2 2433,812.3 2435.8,727.8 2438.7,644.4 2441.6,612.2 2444.4,650.4 2447.3,736.2 2450.1,818 2453,846.8 2455.9,805.3 2458.7,718.4 2461.6,638.3 2464.5,612.9 2467.3,657.6 2470.2,745.5 2473.1,823.9 2475.9,845.8 2478.8,797.9 2481.7,709.1 2484.5,632.6 2487.4,614.4 2490.3,665.2 2493.1,754.8 2496,829.2 2498.8,843.9 2501.7,790.1 2504.6,700 2507.4,627.7 2510.3,616.6 2513.2,673.3 2516,763.8 2518.9,833.9 2521.8,841.4 2524.6,781.8 2527.5,691 2530.4,623.3 2533.2,619.5 2536.1,681.7 2538.9,772.7 2541.8,837.9 2544.7,838.1 2547.5,773.3 2550.4,682.3 2553.3,619.7 2556.1,623.1 2559,690.4 2561.9,781.3 2564.7,841.2 2567.6,834.2 2570.5,764.4 2573.3,673.8 2576.2,616.7 2579.1,627.4 2581.9,699.4 2584.8,789.5 2587.6,843.8 2590.5,829.5 2593.4,755.4 2596.2,665.8 2599.1,614.5 2602,632.3 2604.8,708.5 2607.7,797.4 2610.6,845.7 2613.4,824.3 2616.3,746.1 2619.2,658.1 2622,613 2624.9,637.9 2627.8,717.8 2630.6,804.9 2633.5,846.8 2636.3,818.4 2639.2,736.8 2642.1,650.9 2644.9,612.2 2647.8,644 2650.7,727.2 2653.5,811.8 2656.4,847.2 2659.3,812 2662.1,727.4 2665,644.2 2667.9,612.2 2670.7,650.7 2673.6,736.6 2676.4,818.3 2679.3,846.8 2682.2,805.1 2685,718.1 2687.9,638 2690.8,613 2693.6,657.9 2696.5,745.9 2699.4,824.1 2702.2,845.7 2705.1,797.6 2708,708.8 2710.8,632.4 2713.7,614.4 2716.6,665.6 2719.4,755.1 2722.3,829.4 2725.1,843.8 2728,789.8 2730.9,699.6 2733.7,627.5 2736.6,616.7 2739.5,673.6 2742.3,764.2 2745.2,834.1 2748.1,841.3 2750.9,781.5 2753.8,690.6 2756.7,623.2 2759.5,619.6 2762.4,682 2765.3,773.1 2768.1,838 2771,838 2773.8,772.9 2776.7,681.9 2779.6,619.5 2782.4,623.2 2785.3,690.8 2788.2,781.6 2791,841.3 2793.9,834 2796.8,764.1 2799.6,673.5 2802.5,616.6 2805.4,627.5 2808.2,699.7 2811.1,789.9 2813.9,843.9 2816.8,829.4 2819.7,755 2822.5,665.5 2825.4,614.4 2828.3,632.5 2831.1,708.9 2834,797.7 2836.9,845.7 2839.7,824.1 2842.6,745.8 2845.5,657.8 2848.3,612.9 2851.2,638.1 2854.1,718.2 2856.9,805.2 2859.8,846.8 2862.6,818.2 2865.5,736.4 2868.4,650.6 2871.2,612.2 2874.1,644.3 2877,727.6" fill="none" stroke="#1f77b4" stroke-width="2.2" stroke-opacity="0.82" stroke-linejoin="round" marker-start="url(#mc)" marker-mid="url(#mc)" marker-end="url(#mc)"/>
<polyline points="2332.7,690.1 2335.6,779.4 2338.4,839.4 2341.3,835.4 2344.2,769.9 2347,681.3 2349.9,620.4 2352.8,625.2 2355.6,688 2358.5,773.6 2361.3,835 2364.2,833.3 2367.1,777.9 2369.9,689.8 2372.8,627.4 2375.7,622.4 2378.5,677.8 2381.4,763.1 2384.3,829.6 2387.1,839.2 2390,783.1 2392.9,700.2 2395.7,635.1 2398.6,617.4 2401.4,667.9 2404.3,752.4 2407.2,822.3 2410,842.5 2412.9,797 2415.8,706.8 2418.6,634.9 2421.5,619.6 2424.4,668.1 2427.2,753.6 2430.1,825.2 2433,842.5 2435.8,792.3 2438.7,702.9 2441.6,635.4 2444.4,619.2 2447.3,667.8 2450.1,751.5 2453,827 2455.9,838.7 2458.7,793.9 2461.6,707.2 2464.5,633.5 2467.3,619.7 2470.2,669.4 2473.1,753.7 2475.9,824.8 2478.8,840.6 2481.7,789.4 2484.5,699 2487.4,630.2 2490.3,620 2493.1,671.9 2496,763.6 2498.8,830.1 2501.7,837.2 2504.6,781.4 2507.4,694.4 2510.3,626.4 2513.2,623.2 2516,682.9 2518.9,771.9 2521.8,831.6 2524.6,836.5 2527.5,771.4 2530.4,684.7 2533.2,624.2 2536.1,624.3 2538.9,689.2 2541.8,777.6 2544.7,839.6 2547.5,831.8 2550.4,763.9 2553.3,676.8 2556.1,619.1 2559,626.6 2561.9,697.1 2564.7,781.7 2567.6,842.3 2570.5,828.2 2573.3,762 2576.2,668.8 2579.1,618.7 2581.9,630.7 2584.8,706.9 2587.6,796.3 2590.5,838.9 2593.4,825.6 2596.2,751.3 2599.1,663.6 2602,616.2 2604.8,639.7 2607.7,714.3 2610.6,802.4 2613.4,838.1 2616.3,816.8 2619.2,740.1 2622,655.6 2624.9,618.7 2627.8,649.9 2630.6,732.3 2633.5,809.9 2636.3,837.7 2639.2,797.6 2642.1,717.7 2644.9,643.5 2647.8,623.1 2650.7,668.7 2653.5,752.1 2656.4,820.8 2659.3,832.2 2662.1,777.1 2665,696.2 2667.9,635.5 2670.7,626.8 2673.6,689.1 2676.4,770.2 2679.3,825.7 2682.2,821.7 2685,755.8 2687.9,679.2 2690.8,632.2 2693.6,645.1 2696.5,711.6 2699.4,788.8 2702.2,826.5 2705.1,798.4 2708,731.6 2710.8,664 2713.7,633.6 2716.6,667.6 2719.4,739.1 2722.3,802.2 2725.1,820 2728,776.3 2730.9,708.1 2733.7,650.8 2736.6,642.2 2739.5,695.1 2742.3,765.5 2745.2,815.5 2748.1,804.1 2750.9,747.8 2753.8,674.6 2756.7,643.7 2759.5,666.2 2762.4,732.5 2765.3,798.5 2768.1,810 2771,762.9 2773.8,696 2776.7,650.6 2779.6,662.6 2782.4,726.3 2785.3,790.1 2788.2,804.5 2791,772.9 2793.9,712.9 2796.8,670.5 2799.6,669.9 2802.5,706.5 2805.4,756.8 2808.2,777.7 2811.1,747.4 2813.9,711.2 2816.8,693.7 2819.7,709.6 2822.5,737.5 2825.4,751.4 2828.3,740 2831.1,714.3 2834,697.5 2836.9,712 2839.7,743.7 2842.6,757.9 2845.5,737.5 2848.3,706.2 2851.2,694.8 2854.1,718.6 2856.9,748.1 2859.8,752.5 2862.6,728.5 2865.5,704.7 2868.4,703.7 2871.2,727.9 2874.1,745 2877,743.7" fill="none" stroke="#ff7f0e" stroke-width="2.2" stroke-opacity="0.82" stroke-linejoin="round" stroke-dasharray="6.6 2.9" marker-start="url(#ms)" marker-mid="url(#ms)" marker-end="url(#ms)"/>
</g>
<rect x="2305.2" y="599.4" width="600.1" height="258.9" fill="none" stroke="#4a4a4a" stroke-width="1.5"/>
<path d="M2332.7 858.3v4.2M2404.3 858.3v4.2M2475.9 858.3v4.2M2547.5 858.3v4.2M2619.2 858.3v4.2M2690.8 858.3v4.2M2762.4 858.3v4.2M2834 858.3v4.2M2305.2 853.1h-4.2M2305.2 822.2h-4.2M2305.2 791.4h-4.2M2305.2 760.5h-4.2M2305.2 729.7h-4.2M2305.2 698.8h-4.2M2305.2 667.9h-4.2M2305.2 637.1h-4.2M2305.2 606.2h-4.2" stroke="#4a4a4a" stroke-width="1.4" fill="none"/>
<text x="2332.7" y="876.5" font-size="12.5" text-anchor="middle" textLength="7.3" lengthAdjust="spacingAndGlyphs" fill="#262626" stroke="#262626" stroke-width="0.3">0</text>
<text x="2404.3" y="876.5" font-size="12.5" text-anchor="middle" textLength="14.6" lengthAdjust="spacingAndGlyphs" fill="#262626" stroke="#262626" stroke-width="0.3">25</text>
<text x="2475.9" y="876.5" font-size="12.5" text-anchor="middle" textLength="14.6" lengthAdjust="spacingAndGlyphs" fill="#262626" stroke="#262626" stroke-width="0.3">50</text>
<text x="2547.5" y="876.5" font-size="12.5" text-anchor="middle" textLength="14.6" lengthAdjust="spacingAndGlyphs" fill="#262626" stroke="#262626" stroke-width="0.3">75</text>
<text x="2619.2" y="876.5" font-size="12.5" text-anchor="middle" textLength="21.9" lengthAdjust="spacingAndGlyphs" fill="#262626" stroke="#262626" stroke-width="0.3">100</text>
<text x="2690.8" y="876.5" font-size="12.5" text-anchor="middle" textLength="21.9" lengthAdjust="spacingAndGlyphs" fill="#262626" stroke="#262626" stroke-width="0.3">125</text>
<text x="2762.4" y="876.5" font-size="12.5" text-anchor="middle" textLength="21.9" lengthAdjust="spacingAndGlyphs" fill="#262626" stroke="#262626" stroke-width="0.3">150</text>
<text x="2834" y="876.5" font-size="12.5" text-anchor="middle" textLength="21.9" lengthAdjust="spacingAndGlyphs" fill="#262626" stroke="#262626" stroke-width="0.3">175</text>
<text x="2295.4" y="858.7" font-size="12.5" text-anchor="end" textLength="35.2" lengthAdjust="spacingAndGlyphs" fill="#262626" stroke="#262626" stroke-width="0.3">−1.00</text>
<text x="2295.4" y="827.8" font-size="12.5" text-anchor="end" textLength="35.2" lengthAdjust="spacingAndGlyphs" fill="#262626" stroke="#262626" stroke-width="0.3">−0.75</text>
<text x="2295.4" y="796.9" font-size="12.5" text-anchor="end" textLength="35.2" lengthAdjust="spacingAndGlyphs" fill="#262626" stroke="#262626" stroke-width="0.3">−0.50</text>
<text x="2295.4" y="766.1" font-size="12.5" text-anchor="end" textLength="35.2" lengthAdjust="spacingAndGlyphs" fill="#262626" stroke="#262626" stroke-width="0.3">−0.25</text>
<text x="2295.4" y="735.2" font-size="12.5" text-anchor="end" textLength="25.5" lengthAdjust="spacingAndGlyphs" fill="#262626" stroke="#262626" stroke-width="0.3">0.00</text>
<text x="2295.4" y="704.3" font-size="12.5" text-anchor="end" textLength="25.5" lengthAdjust="spacingAndGlyphs" fill="#262626" stroke="#262626" stroke-width="0.3">0.25</text>
<text x="2295.4" y="673.5" font-size="12.5" text-anchor="end" textLength="25.5" lengthAdjust="spacingAndGlyphs" fill="#262626" stroke="#262626" stroke-width="0.3">0.50</text>
<text x="2295.4" y="642.6" font-size="12.5" text-anchor="end" textLength="25.5" lengthAdjust="spacingAndGlyphs" fill="#262626" stroke="#262626" stroke-width="0.3">0.75</text>
<text x="2295.4" y="611.8" font-size="12.5" text-anchor="end" textLength="25.5" lengthAdjust="spacingAndGlyphs" fill="#262626" stroke="#262626" stroke-width="0.3">1.00</text>
<text x="2604.7" y="592.9" font-size="14.3" text-anchor="middle" textLength="409.6" lengthAdjust="spacingAndGlyphs" fill="#262626" stroke="#262626" stroke-width="0.3">True vs AR-generated (context = 5, after Adam finetune)</text>
<text x="2569.8" y="896.2" font-size="12.4" fill="#262626" stroke="#262626" stroke-width="0.3" textLength="63.9" lengthAdjust="spacingAndGlyphs" xml:space="preserve">Time step </text>
<text x="2633.7" y="896.2" font-size="12.5" fill="#262626" stroke="#262626" stroke-width="0.3" font-style="italic">t</text>
<g transform="translate(2248.6 728.8) rotate(-90)" font-size="12" fill="#262626" stroke="#262626" stroke-width="0.3"><text x="-10.5" y="0" font-style="italic">x</text><text x="-3.5" y="0">(</text><text x="1.2" y="0" font-style="italic">t</text><text x="5.9" y="0">)</text></g>
<rect x="2310.7" y="709.2" width="169.1" height="39.2" rx="2.4" fill="#fff" fill-opacity="0.8" stroke="#ccc" stroke-opacity="0.8" stroke-width="1.2"/>
<path d="M2315.1 719.5H2340.2" stroke="#1f77b4" stroke-width="2.2" stroke-opacity="0.82"/>
<circle cx="2327.9" cy="719.5" r="4.2" fill="#1f77b4"/>
<path d="M2315.1 738.3H2340.2" stroke="#ff7f0e" stroke-width="2.2" stroke-opacity="0.82" stroke-dasharray="6.6 2.9"/>
<rect x="2324.3" y="734.8" width="7.2" height="7.2" fill="#ff7f0e"/>
<text x="2348.4" y="723.7" font-size="12" text-anchor="start" textLength="25.4" lengthAdjust="spacingAndGlyphs" fill="#262626" stroke="#262626" stroke-width="0.3">True</text>
<text x="2348.4" y="742.5" font-size="12" text-anchor="start" textLength="125.1" lengthAdjust="spacingAndGlyphs" fill="#262626" stroke="#262626" stroke-width="0.3">AR (Adam finetuned)</text>
</g>
<g>
<rect x="3010.8" y="599.4" width="600.1" height="258.9" fill="#fff"/>
<path d="M3038.1 599.4V858.3M3109.7 599.4V858.3M3181.4 599.4V858.3M3253 599.4V858.3M3324.7 599.4V858.3M3396.3 599.4V858.3M3468 599.4V858.3M3539.6 599.4V858.3M3010.8 853.1H3610.9M3010.8 822.2H3610.9M3010.8 791.4H3610.9M3010.8 760.5H3610.9M3010.8 729.7H3610.9M3010.8 698.8H3610.9M3010.8 667.9H3610.9M3010.8 637.1H3610.9M3010.8 606.2H3610.9" stroke="#b0b0b0" stroke-opacity="0.21" stroke-width="1.3" fill="none"/>
<clipPath id="c9"><rect x="3010.8" y="599.4" width="600.1" height="258.9"/></clipPath>
<g clip-path="url(#c9)">
<polyline points="3038.1,690.1 3039.5,781 3041,841.1 3042.4,834.3 3043.8,764.8 3045.3,674.2 3046.7,616.8 3048.1,627.2 3049.6,699 3051,789.2 3052.4,843.7 3053.9,829.7 3055.3,755.7 3056.7,666.1 3058.2,614.6 3059.6,632.1 3061,708.2 3062.5,797.1 3063.9,845.6 3065.3,824.5 3066.8,746.5 3068.2,658.4 3069.6,613 3071.1,637.6 3072.5,717.4 3073.9,804.6 3075.4,846.8 3076.8,818.7 3078.2,737.2 3079.7,651.2 3081.1,612.2 3082.5,643.8 3084,726.8 3085.4,811.6 3086.8,847.2 3088.2,812.3 3089.7,727.8 3091.1,644.4 3092.5,612.2 3094,650.4 3095.4,736.2 3096.8,818 3098.3,846.8 3099.7,805.3 3101.1,718.4 3102.6,638.3 3104,612.9 3105.4,657.6 3106.9,745.5 3108.3,823.9 3109.7,845.8 3111.2,797.9 3112.6,709.1 3114,632.6 3115.5,614.4 3116.9,665.2 3118.3,754.8 3119.8,829.2 3121.2,843.9 3122.6,790.1 3124.1,700 3125.5,627.7 3126.9,616.6 3128.4,673.3 3129.8,763.8 3131.2,833.9 3132.7,841.4 3134.1,781.8 3135.5,691 3137,623.3 3138.4,619.5 3139.8,681.7 3141.3,772.7 3142.7,837.9 3144.1,838.1 3145.6,773.3 3147,682.3 3148.4,619.7 3149.9,623.1 3151.3,690.4 3152.7,781.3 3154.2,841.2 3155.6,834.2 3157,764.4 3158.5,673.8 3159.9,616.7 3161.3,627.4 3162.8,699.4 3164.2,789.5 3165.6,843.8 3167.1,829.5 3168.5,755.4 3169.9,665.8 3171.4,614.5 3172.8,632.3 3174.2,708.5 3175.7,797.4 3177.1,845.7 3178.5,824.3 3180,746.1 3181.4,658.1 3182.8,613 3184.3,637.9 3185.7,717.8 3187.1,804.9 3188.5,846.8 3190,818.4 3191.4,736.8 3192.8,650.9 3194.3,612.2 3195.7,644 3197.1,727.2 3198.6,811.8 3200,847.2 3201.4,812 3202.9,727.4 3204.3,644.2 3205.7,612.2 3207.2,650.7 3208.6,736.6 3210,818.3 3211.5,846.8 3212.9,805.1 3214.3,718.1 3215.8,638 3217.2,613 3218.6,657.9 3220.1,745.9 3221.5,824.1 3222.9,845.7 3224.4,797.6 3225.8,708.8 3227.2,632.4 3228.7,614.4 3230.1,665.6 3231.5,755.1 3233,829.4 3234.4,843.8 3235.8,789.8 3237.3,699.6 3238.7,627.5 3240.1,616.7 3241.6,673.6 3243,764.2 3244.4,834.1 3245.9,841.3 3247.3,781.5 3248.7,690.6 3250.2,623.2 3251.6,619.6 3253,682 3254.5,773.1 3255.9,838 3257.3,838 3258.8,772.9 3260.2,681.9 3261.6,619.5 3263.1,623.2 3264.5,690.8 3265.9,781.6 3267.4,841.3 3268.8,834 3270.2,764.1 3271.7,673.5 3273.1,616.6 3274.5,627.5 3276,699.7 3277.4,789.9 3278.8,843.9 3280.3,829.4 3281.7,755 3283.1,665.5 3284.6,614.4 3286,632.5 3287.4,708.9 3288.8,797.7 3290.3,845.7 3291.7,824.1 3293.1,745.8 3294.6,657.8 3296,612.9 3297.4,638.1 3298.9,718.2 3300.3,805.2 3301.7,846.8 3303.2,818.2 3304.6,736.4 3306,650.6 3307.5,612.2 3308.9,644.3 3310.3,727.6 3311.8,812.1 3313.2,847.2 3314.6,811.7 3316.1,727.1 3317.5,643.9 3318.9,612.2 3320.4,651 3321.8,736.9 3323.2,818.5 3324.7,846.8 3326.1,804.8 3327.5,717.7 3329,637.8 3330.4,613 3331.8,658.2 3333.3,746.3 3334.7,824.4 3336.1,845.6 3337.6,797.3 3339,708.4 3340.4,632.2 3341.9,614.5 3343.3,665.9 3344.7,755.5 3346.2,829.6 3347.6,843.8 3349,789.4 3350.5,699.2 3351.9,627.3 3353.3,616.8 3354.8,673.9 3356.2,764.6 3357.6,834.2 3359.1,841.2 3360.5,781.2 3361.9,690.3 3363.4,623 3364.8,619.7 3366.2,682.4 3367.7,773.4 3369.1,838.2 3370.5,837.8 3372,772.6 3373.4,681.6 3374.8,619.4 3376.3,623.4 3377.7,691.1 3379.1,782 3380.6,841.4 3382,833.8 3383.4,763.7 3384.9,673.2 3386.3,616.5 3387.7,627.7 3389.2,700.1 3390.6,790.2 3392,844 3393.4,829.2 3394.9,754.6 3396.3,665.1 3397.7,614.3 3399.2,632.7 3400.6,709.3 3402,798 3403.5,845.8 3404.9,823.8 3406.3,745.4 3407.8,657.5 3409.2,612.9 3410.6,638.3 3412.1,718.6 3413.5,805.4 3414.9,846.8 3416.4,817.9 3417.8,736.1 3419.2,650.3 3420.7,612.2 3422.1,644.5 3423.5,727.9 3425,812.4 3426.4,847.2 3427.8,811.5 3429.3,726.7 3430.7,643.7 3432.1,612.2 3433.6,651.3 3435,737.3 3436.4,818.8 3437.9,846.7 3439.3,804.5 3440.7,717.3 3442.2,637.6 3443.6,613 3445,658.5 3446.5,746.6 3447.9,824.6 3449.3,845.6 3450.8,797 3452.2,708 3453.6,632 3455.1,614.6 3456.5,666.2 3457.9,755.9 3459.4,829.8 3460.8,843.7 3462.2,789.1 3463.7,698.9 3465.1,627.1 3466.5,616.9 3468,674.3 3469.4,764.9 3470.8,834.4 3472.3,841 3473.7,780.8 3475.1,689.9 3476.6,622.9 3478,619.9 3479.4,682.7 3480.9,773.7 3482.3,838.3 3483.7,837.7 3485.2,772.2 3486.6,681.2 3488,619.3 3489.4,623.5 3490.9,691.5 3492.3,782.3 3493.7,841.5 3495.2,833.7 3496.6,763.4 3498,672.9 3499.5,616.4 3500.9,627.9 3502.3,700.5 3503.8,790.5 3505.2,844 3506.6,829 3508.1,754.3 3509.5,664.8 3510.9,614.3 3512.4,632.9 3513.8,709.6 3515.2,798.3 3516.7,845.8 3518.1,823.6 3519.5,745 3521,657.2 3522.4,612.9 3523.8,638.6 3525.3,718.9 3526.7,805.7 3528.1,846.9 3529.6,817.7 3531,735.7 3532.4,650.1 3533.9,612.2 3535.3,644.8 3536.7,728.3 3538.2,812.6 3539.6,847.2 3541,811.2 3542.5,726.3 3543.9,643.4 3545.3,612.3 3546.8,651.5 3548.2,737.7 3549.6,819 3551.1,846.7 3552.5,804.2 3553.9,716.9 3555.4,637.3 3556.8,613.1 3558.2,658.8 3559.7,747 3561.1,824.8 3562.5,845.5 3564,796.7 3565.4,707.7 3566.8,631.8 3568.3,614.7 3569.7,666.5 3571.1,756.2 3572.6,830 3574,843.6 3575.4,788.8 3576.9,698.5 3578.3,626.9 3579.7,617 3581.2,674.6 3582.6,765.3" fill="none" stroke="#1f77b4" stroke-width="2.2" stroke-opacity="0.82" stroke-linejoin="round" marker-start="url(#mc)" marker-mid="url(#mc)" marker-end="url(#mc)"/>
<polyline points="3038.1,690.1 3039.5,778.7 3041,836.6 3042.4,830.9 3043.8,765.4 3045.3,678.2 3046.7,618.6 3048.1,628.3 3049.6,696.3 3051,783.4 3052.4,834.8 3053.9,822.4 3055.3,758.8 3056.7,673.4 3058.2,623.3 3059.6,633.5 3061,700.8 3062.5,786.6 3063.9,829 3065.3,818.1 3066.8,753.5 3068.2,678.1 3069.6,630.5 3071.1,642.5 3072.5,708.6 3073.9,784.8 3075.4,829.3 3076.8,812 3078.2,749.3 3079.7,669.3 3081.1,627 3082.5,648.4 3084,710.4 3085.4,787.5 3086.8,823.7 3088.2,808 3089.7,742.7 3091.1,668.3 3092.5,631.6 3094,652.9 3095.4,720.9 3096.8,791.2 3098.3,823.7 3099.7,799 3101.1,731.3 3102.6,669.7 3104,638.4 3105.4,673 3106.9,748.3 3108.3,799.7 3109.7,801.3 3111.2,762.8 3112.6,694.9 3114,657.3 3115.5,673.1 3116.9,723 3118.3,782.6 3119.8,792.1 3121.2,739.8 3122.6,683.6 3124.1,670.5 3125.5,709.4 3126.9,763.6 3128.4,780.5 3129.8,748.3 3131.2,694.5 3132.7,680.6 3134.1,712 3135.5,759.4 3137,773.9 3138.4,743.7 3139.8,692.9 3141.3,688.3 3142.7,725.5 3144.1,760 3145.6,753.7 3147,717.6 3148.4,694.9 3149.9,709 3151.3,738.5 3152.7,755 3154.2,736.7 3155.6,703.9 3157,697.3 3158.5,721.9 3159.9,745.9 3161.3,743.8 3162.8,718.6 3164.2,701.9 3165.6,710.3 3167.1,733.2 3168.5,746.8 3169.9,731.1 3171.4,709.9 3172.8,704.9 3174.2,724.6 3175.7,741.9 3177.1,739.7 3178.5,723.8 3180,706.4 3181.4,711.3 3182.8,734.1 3184.3,741.3 3185.7,731.7 3187.1,712.8 3188.5,706.7 3190,721.5 3191.4,739.6 3192.8,738.5 3194.3,723.2 3195.7,708.2 3197.1,711.9 3198.6,731.7 3200,742.8 3201.4,731.1 3202.9,712.2 3204.3,708.8 3205.7,723.6 3207.2,738.6 3208.6,739 3210,723.4 3211.5,707.7 3212.9,714.9 3214.3,729.6 3215.8,742 3217.2,732.8 3218.6,714.4 3220.1,708.6 3221.5,721.2 3222.9,736.6 3224.4,737.4 3225.8,723.5 3227.2,710.7 3228.7,715.2 3230.1,729.6 3231.5,737.8 3233,731.2 3234.4,716.1 3235.8,711.6 3237.3,720.3 3238.7,734.6 3240.1,736.1 3241.6,724.6 3243,713.8 3244.4,715.7 3245.9,729.2 3247.3,735.7 3248.7,728.6 3250.2,721.1 3251.6,715.6 3253,722.4 3254.5,732.7 3255.9,733.8 3257.3,725 3258.8,714.9 3260.2,717.3 3261.6,728.8 3263.1,732.7 3264.5,729.8 3265.9,719.9 3267.4,715.2 3268.8,722.8 3270.2,732.7 3271.7,736.4 3273.1,725.4 3274.5,715.1 3276,718.9 3277.4,728.1 3278.8,733.7 3280.3,729.4 3281.7,718.4 3283.1,717.2 3284.6,722.9 3286,732.6 3287.4,733.1 3288.8,724.2 3290.3,719 3291.7,717 3293.1,729.1 3294.6,733.6 3296,731.6 3297.4,720.1 3298.9,714.9 3300.3,722.6 3301.7,731.7 3303.2,732.7 3304.6,725.3 3306,717.1 3307.5,716.8 3308.9,726.6 3310.3,734.2 3311.8,727.7 3313.2,721.8 3314.6,715.6 3316.1,722.7 3317.5,731.4 3318.9,732.6 3320.4,725.5 3321.8,717 3323.2,719.9 3324.7,728.7 3326.1,733 3327.5,731.1 3329,722 3330.4,718.2 3331.8,721.3 3333.3,730.6 3334.7,731.7 3336.1,726.7 3337.6,718 3339,719.7 3340.4,726.4 3341.9,731.8 3343.3,731 3344.7,720.1 3346.2,716.3 3347.6,722.6 3349,732.7 3350.5,731.6 3351.9,726.2 3353.3,718.9 3354.8,718.5 3356.2,726.6 3357.6,731.6 3359.1,731.2 3360.5,720.8 3361.9,716.2 3363.4,721.2 3364.8,730.8 3366.2,733.4 3367.7,725.4 3369.1,718.7 3370.5,719 3372,725.5 3373.4,733 3374.8,732.3 3376.3,722.5 3377.7,719.5 3379.1,721.7 3380.6,730.1 3382,733.1 3383.4,726.5 3384.9,718.4 3386.3,719.2 3387.7,725.4 3389.2,732.5 3390.6,729.3 3392,721.2 3393.4,716.8 3394.9,723.1 3396.3,729.4 3397.7,734 3399.2,727.6 3400.6,721.3 3402,718.6 3403.5,727.6 3404.9,732.2 3406.3,730.4 3407.8,722.8 3409.2,719.1 3410.6,722.3 3412.1,728.3 3413.5,732.1 3414.9,726.3 3416.4,719.1 3417.8,719.9 3419.2,727.4 3420.7,732.4 3422.1,729.2 3423.5,724.6 3425,719.5 3426.4,721.7 3427.8,729 3429.3,732 3430.7,726.2 3432.1,720.2 3433.6,721 3435,727.6 3436.4,732.2 3437.9,729.3 3439.3,723.9 3440.7,720.1 3442.2,723.3 3443.6,730.8 3445,731.9 3446.5,728.1 3447.9,720.4 3449.3,722.2 3450.8,725.8 3452.2,731.9 3453.6,731.8 3455.1,723.1 3456.5,719.9 3457.9,724.7 3459.4,730 3460.8,731.3 3462.2,727.6 3463.7,720.4 3465.1,719.8 3466.5,725.4 3468,730.8 3469.4,728.9 3470.8,723.4 3472.3,719.6 3473.7,724.6 3475.1,728.2 3476.6,730.3 3478,727.6 3479.4,721.8 3480.9,719 3482.3,727.4 3483.7,730.5 3485.2,727.9 3486.6,725 3488,719.7 3489.4,721.3 3490.9,728.9 3492.3,730.7 3493.7,726.6 3495.2,722.5 3496.6,721 3498,725.6 3499.5,730 3500.9,730 3502.3,724.6 3503.8,721.5 3505.2,723.3 3506.6,727.9 3508.1,731 3509.5,728.2 3510.9,722.8 3512.4,718.9 3513.8,724.8 3515.2,730 3516.7,732.1 3518.1,724.2 3519.5,720.5 3521,721.6 3522.4,728.1 3523.8,731 3525.3,727.2 3526.7,724 3528.1,720.5 3529.6,725.5 3531,730.9 3532.4,728.7 3533.9,723.4 3535.3,722.4 3536.7,723.7 3538.2,728.1 3539.6,730.6 3541,728 3542.5,723.5 3543.9,719.8 3545.3,724.8 3546.8,731.1 3548.2,730.9 3549.6,723.7 3551.1,720.7 3552.5,721.7 3553.9,727.5 3555.4,731.3 3556.8,727.5 3558.2,724.7 3559.7,722.4 3561.1,725.7 3562.5,729.5 3564,730.3 3565.4,725.4 3566.8,721.4 3568.3,723.1 3569.7,727.5 3571.1,730.2 3572.6,728.1 3574,722.6 3575.4,722 3576.9,726.3 3578.3,730.2 3579.7,729.6 3581.2,725.6 3582.6,722" fill="none" stroke="#ff7f0e" stroke-width="2.2" stroke-opacity="0.82" stroke-linejoin="round" stroke-dasharray="6.6 2.9" marker-start="url(#ms)" marker-mid="url(#ms)" marker-end="url(#ms)"/>
</g>
<rect x="3010.8" y="599.4" width="600.1" height="258.9" fill="none" stroke="#4a4a4a" stroke-width="1.5"/>
<path d="M3038.1 858.3v4.2M3109.7 858.3v4.2M3181.4 858.3v4.2M3253 858.3v4.2M3324.7 858.3v4.2M3396.3 858.3v4.2M3468 858.3v4.2M3539.6 858.3v4.2M3010.8 853.1h-4.2M3010.8 822.2h-4.2M3010.8 791.4h-4.2M3010.8 760.5h-4.2M3010.8 729.7h-4.2M3010.8 698.8h-4.2M3010.8 667.9h-4.2M3010.8 637.1h-4.2M3010.8 606.2h-4.2" stroke="#4a4a4a" stroke-width="1.4" fill="none"/>
<text x="3038.1" y="876.5" font-size="12.5" text-anchor="middle" textLength="7.3" lengthAdjust="spacingAndGlyphs" fill="#262626" stroke="#262626" stroke-width="0.3">0</text>
<text x="3109.7" y="876.5" font-size="12.5" text-anchor="middle" textLength="14.6" lengthAdjust="spacingAndGlyphs" fill="#262626" stroke="#262626" stroke-width="0.3">50</text>
<text x="3181.4" y="876.5" font-size="12.5" text-anchor="middle" textLength="21.9" lengthAdjust="spacingAndGlyphs" fill="#262626" stroke="#262626" stroke-width="0.3">100</text>
<text x="3253" y="876.5" font-size="12.5" text-anchor="middle" textLength="21.9" lengthAdjust="spacingAndGlyphs" fill="#262626" stroke="#262626" stroke-width="0.3">150</text>
<text x="3324.7" y="876.5" font-size="12.5" text-anchor="middle" textLength="21.9" lengthAdjust="spacingAndGlyphs" fill="#262626" stroke="#262626" stroke-width="0.3">200</text>
<text x="3396.3" y="876.5" font-size="12.5" text-anchor="middle" textLength="21.9" lengthAdjust="spacingAndGlyphs" fill="#262626" stroke="#262626" stroke-width="0.3">250</text>
<text x="3468" y="876.5" font-size="12.5" text-anchor="middle" textLength="21.9" lengthAdjust="spacingAndGlyphs" fill="#262626" stroke="#262626" stroke-width="0.3">300</text>
<text x="3539.6" y="876.5" font-size="12.5" text-anchor="middle" textLength="21.9" lengthAdjust="spacingAndGlyphs" fill="#262626" stroke="#262626" stroke-width="0.3">350</text>
<text x="3001" y="858.7" font-size="12.5" text-anchor="end" textLength="35.2" lengthAdjust="spacingAndGlyphs" fill="#262626" stroke="#262626" stroke-width="0.3">−1.00</text>
<text x="3001" y="827.8" font-size="12.5" text-anchor="end" textLength="35.2" lengthAdjust="spacingAndGlyphs" fill="#262626" stroke="#262626" stroke-width="0.3">−0.75</text>
<text x="3001" y="796.9" font-size="12.5" text-anchor="end" textLength="35.2" lengthAdjust="spacingAndGlyphs" fill="#262626" stroke="#262626" stroke-width="0.3">−0.50</text>
<text x="3001" y="766.1" font-size="12.5" text-anchor="end" textLength="35.2" lengthAdjust="spacingAndGlyphs" fill="#262626" stroke="#262626" stroke-width="0.3">−0.25</text>
<text x="3001" y="735.2" font-size="12.5" text-anchor="end" textLength="25.5" lengthAdjust="spacingAndGlyphs" fill="#262626" stroke="#262626" stroke-width="0.3">0.00</text>
<text x="3001" y="704.3" font-size="12.5" text-anchor="end" textLength="25.5" lengthAdjust="spacingAndGlyphs" fill="#262626" stroke="#262626" stroke-width="0.3">0.25</text>
<text x="3001" y="673.5" font-size="12.5" text-anchor="end" textLength="25.5" lengthAdjust="spacingAndGlyphs" fill="#262626" stroke="#262626" stroke-width="0.3">0.50</text>
<text x="3001" y="642.6" font-size="12.5" text-anchor="end" textLength="25.5" lengthAdjust="spacingAndGlyphs" fill="#262626" stroke="#262626" stroke-width="0.3">0.75</text>
<text x="3001" y="611.8" font-size="12.5" text-anchor="end" textLength="25.5" lengthAdjust="spacingAndGlyphs" fill="#262626" stroke="#262626" stroke-width="0.3">1.00</text>
<text x="3310.3" y="592.9" font-size="14.3" text-anchor="middle" textLength="409.6" lengthAdjust="spacingAndGlyphs" fill="#262626" stroke="#262626" stroke-width="0.3">True vs AR-generated (context = 5, after Adam finetune)</text>
<text x="3275.4" y="896.2" font-size="12.4" fill="#262626" stroke="#262626" stroke-width="0.3" textLength="63.9" lengthAdjust="spacingAndGlyphs" xml:space="preserve">Time step </text>
<text x="3339.3" y="896.2" font-size="12.5" fill="#262626" stroke="#262626" stroke-width="0.3" font-style="italic">t</text>
<g transform="translate(2954.2 728.8) rotate(-90)" font-size="12" fill="#262626" stroke="#262626" stroke-width="0.3"><text x="-10.5" y="0" font-style="italic">x</text><text x="-3.5" y="0">(</text><text x="1.2" y="0" font-style="italic">t</text><text x="5.9" y="0">)</text></g>
<rect x="3435.8" y="813.1" width="169.1" height="39.2" rx="2.4" fill="#fff" fill-opacity="0.8" stroke="#ccc" stroke-opacity="0.8" stroke-width="1.2"/>
<path d="M3440.2 823.4H3465.3" stroke="#1f77b4" stroke-width="2.2" stroke-opacity="0.82"/>
<circle cx="3453" cy="823.4" r="4.2" fill="#1f77b4"/>
<path d="M3440.2 842.2H3465.3" stroke="#ff7f0e" stroke-width="2.2" stroke-opacity="0.82" stroke-dasharray="6.6 2.9"/>
<rect x="3449.5" y="838.6" width="7.2" height="7.2" fill="#ff7f0e"/>
<text x="3473.5" y="827.6" font-size="12" text-anchor="start" textLength="25.4" lengthAdjust="spacingAndGlyphs" fill="#262626" stroke="#262626" stroke-width="0.3">True</text>
<text x="3473.5" y="846.4" font-size="12" text-anchor="start" textLength="125.1" lengthAdjust="spacingAndGlyphs" fill="#262626" stroke="#262626" stroke-width="0.3">AR (Adam finetuned)</text>
</g>
<g>
<rect x="208.7" y="964" width="599.4" height="258.1" fill="#fff"/>
<path d="M236 964V1222.1M307.6 964V1222.1M379.1 964V1222.1M450.7 964V1222.1M522.2 964V1222.1M593.8 964V1222.1M665.3 964V1222.1M736.9 964V1222.1M208.7 1213.8H808.1M208.7 1183.5H808.1M208.7 1153.1H808.1M208.7 1122.8H808.1M208.7 1092.5H808.1M208.7 1062.1H808.1M208.7 1031.8H808.1M208.7 1001.4H808.1M208.7 971.1H808.1" stroke="#b0b0b0" stroke-opacity="0.21" stroke-width="1.3" fill="none"/>
<clipPath id="c10"><rect x="208.7" y="964" width="599.4" height="258.1"/></clipPath>
<g clip-path="url(#c10)">
<polyline points="236,1053.5 264.6,1142.9 293.2,1202 321.9,1195.4 350.5,1127 379.1,1037.9 407.7,981.5 436.4,991.7 465,1062.3 493.6,1151 522.2,1204.6 550.9,1190.8 579.5,1118.1 608.1,1030 636.7,979.3 665.3,996.6 694,1071.3 722.6,1158.8 751.2,1206.4 779.8,1185.7" fill="none" stroke="#1f77b4" stroke-width="2.2" stroke-opacity="0.82" stroke-linejoin="round" marker-start="url(#mc)" marker-mid="url(#mc)" marker-end="url(#mc)"/>
<polyline points="236,1053.5 264.6,1142.9 293.2,1202 321.9,1195.4 350.5,1127 379.1,1037.9 407.7,981.5 436.4,991.7 465,1059.9 493.6,1148.6 522.2,1204.6 550.9,1193.3 579.5,1119.9 608.1,1030 636.7,976.9 665.3,995.3 694,1071.3 722.6,1162.4 751.2,1211.3 779.8,1183.9" fill="none" stroke="#ff7f0e" stroke-width="2.2" stroke-opacity="0.82" stroke-linejoin="round" stroke-dasharray="6.6 2.9" marker-start="url(#ms)" marker-mid="url(#ms)" marker-end="url(#ms)"/>
</g>
<rect x="208.7" y="964" width="599.4" height="258.1" fill="none" stroke="#4a4a4a" stroke-width="1.5"/>
<path d="M236 1222.1v4.2M307.6 1222.1v4.2M379.1 1222.1v4.2M450.7 1222.1v4.2M522.2 1222.1v4.2M593.8 1222.1v4.2M665.3 1222.1v4.2M736.9 1222.1v4.2M208.7 1213.8h-4.2M208.7 1183.5h-4.2M208.7 1153.1h-4.2M208.7 1122.8h-4.2M208.7 1092.5h-4.2M208.7 1062.1h-4.2M208.7 1031.8h-4.2M208.7 1001.4h-4.2M208.7 971.1h-4.2" stroke="#4a4a4a" stroke-width="1.4" fill="none"/>
<text x="236" y="1240.3" font-size="12.5" text-anchor="middle" textLength="18.2" lengthAdjust="spacingAndGlyphs" fill="#262626" stroke="#262626" stroke-width="0.3">0.0</text>
<text x="307.6" y="1240.3" font-size="12.5" text-anchor="middle" textLength="18.2" lengthAdjust="spacingAndGlyphs" fill="#262626" stroke="#262626" stroke-width="0.3">2.5</text>
<text x="379.1" y="1240.3" font-size="12.5" text-anchor="middle" textLength="18.2" lengthAdjust="spacingAndGlyphs" fill="#262626" stroke="#262626" stroke-width="0.3">5.0</text>
<text x="450.7" y="1240.3" font-size="12.5" text-anchor="middle" textLength="18.2" lengthAdjust="spacingAndGlyphs" fill="#262626" stroke="#262626" stroke-width="0.3">7.5</text>
<text x="522.2" y="1240.3" font-size="12.5" text-anchor="middle" textLength="25.5" lengthAdjust="spacingAndGlyphs" fill="#262626" stroke="#262626" stroke-width="0.3">10.0</text>
<text x="593.8" y="1240.3" font-size="12.5" text-anchor="middle" textLength="25.5" lengthAdjust="spacingAndGlyphs" fill="#262626" stroke="#262626" stroke-width="0.3">12.5</text>
<text x="665.3" y="1240.3" font-size="12.5" text-anchor="middle" textLength="25.5" lengthAdjust="spacingAndGlyphs" fill="#262626" stroke="#262626" stroke-width="0.3">15.0</text>
<text x="736.9" y="1240.3" font-size="12.5" text-anchor="middle" textLength="25.5" lengthAdjust="spacingAndGlyphs" fill="#262626" stroke="#262626" stroke-width="0.3">17.5</text>
<text x="198.9" y="1219.4" font-size="12.5" text-anchor="end" textLength="35.2" lengthAdjust="spacingAndGlyphs" fill="#262626" stroke="#262626" stroke-width="0.3">−1.00</text>
<text x="198.9" y="1189" font-size="12.5" text-anchor="end" textLength="35.2" lengthAdjust="spacingAndGlyphs" fill="#262626" stroke="#262626" stroke-width="0.3">−0.75</text>
<text x="198.9" y="1158.7" font-size="12.5" text-anchor="end" textLength="35.2" lengthAdjust="spacingAndGlyphs" fill="#262626" stroke="#262626" stroke-width="0.3">−0.50</text>
<text x="198.9" y="1128.3" font-size="12.5" text-anchor="end" textLength="35.2" lengthAdjust="spacingAndGlyphs" fill="#262626" stroke="#262626" stroke-width="0.3">−0.25</text>
<text x="198.9" y="1098" font-size="12.5" text-anchor="end" textLength="25.5" lengthAdjust="spacingAndGlyphs" fill="#262626" stroke="#262626" stroke-width="0.3">0.00</text>
<text x="198.9" y="1067.7" font-size="12.5" text-anchor="end" textLength="25.5" lengthAdjust="spacingAndGlyphs" fill="#262626" stroke="#262626" stroke-width="0.3">0.25</text>
<text x="198.9" y="1037.3" font-size="12.5" text-anchor="end" textLength="25.5" lengthAdjust="spacingAndGlyphs" fill="#262626" stroke="#262626" stroke-width="0.3">0.50</text>
<text x="198.9" y="1007" font-size="12.5" text-anchor="end" textLength="25.5" lengthAdjust="spacingAndGlyphs" fill="#262626" stroke="#262626" stroke-width="0.3">0.75</text>
<text x="198.9" y="976.7" font-size="12.5" text-anchor="end" textLength="25.5" lengthAdjust="spacingAndGlyphs" fill="#262626" stroke="#262626" stroke-width="0.3">1.00</text>
<text x="507.8" y="957.5" font-size="14.3" text-anchor="middle" textLength="482.9" lengthAdjust="spacingAndGlyphs" fill="#262626" stroke="#262626" stroke-width="0.3">True vs AR-generated (context = 5, after random-perturb finetune)</text>
<text x="472.9" y="1260" font-size="12.4" fill="#262626" stroke="#262626" stroke-width="0.3" textLength="63.9" lengthAdjust="spacingAndGlyphs" xml:space="preserve">Time step </text>
<text x="536.8" y="1260" font-size="12.5" fill="#262626" stroke="#262626" stroke-width="0.3" font-style="italic">t</text>
<g transform="translate(152.1 1093) rotate(-90)" font-size="12" fill="#262626" stroke="#262626" stroke-width="0.3"><text x="-10.5" y="0" font-style="italic">x</text><text x="-3.5" y="0">(</text><text x="1.2" y="0" font-style="italic">t</text><text x="5.9" y="0">)</text></g>
<rect x="214.2" y="969.9" width="176.5" height="39.2" rx="2.4" fill="#fff" fill-opacity="0.8" stroke="#ccc" stroke-opacity="0.8" stroke-width="1.2"/>
<path d="M218.6 980.2H243.7" stroke="#1f77b4" stroke-width="2.2" stroke-opacity="0.82"/>
<circle cx="231.4" cy="980.2" r="4.2" fill="#1f77b4"/>
<path d="M218.6 999H243.7" stroke="#ff7f0e" stroke-width="2.2" stroke-opacity="0.82" stroke-dasharray="6.6 2.9"/>
<rect x="227.8" y="995.4" width="7.2" height="7.2" fill="#ff7f0e"/>
<text x="251.9" y="984.4" font-size="12" text-anchor="start" textLength="25.4" lengthAdjust="spacingAndGlyphs" fill="#262626" stroke="#262626" stroke-width="0.3">True</text>
<text x="251.9" y="1003.2" font-size="12" text-anchor="start" textLength="132.5" lengthAdjust="spacingAndGlyphs" fill="#262626" stroke="#262626" stroke-width="0.3">AR (random best of K)</text>
</g>
<g>
<rect x="913.2" y="961.2" width="607" height="259.3" fill="#fff"/>
<path d="M940.5 961.2V1220.5M1013 961.2V1220.5M1085.4 961.2V1220.5M1157.9 961.2V1220.5M1230.3 961.2V1220.5M1302.8 961.2V1220.5M1375.2 961.2V1220.5M1447.7 961.2V1220.5M913.2 1202.7H1520.2M913.2 1147.5H1520.2M913.2 1092.2H1520.2M913.2 1037H1520.2M913.2 981.8H1520.2" stroke="#b0b0b0" stroke-opacity="0.21" stroke-width="1.3" fill="none"/>
<clipPath id="c11"><rect x="913.2" y="961.2" width="607" height="259.3"/></clipPath>
<g clip-path="url(#c11)">
<polyline points="940.5,1056.8 955,1138.2 969.5,1191.9 984,1185.9 998.5,1123.7 1013,1042.6 1027.4,991.3 1041.9,1000.6 1056.4,1064.8 1070.9,1145.6 1085.4,1194.3 1099.9,1181.8 1114.4,1115.6 1128.9,1035.4 1143.4,989.3 1157.9,1005 1172.4,1073 1186.9,1152.6 1201.3,1196 1215.8,1177.1 1230.3,1107.3 1244.8,1028.5 1259.3,987.9 1273.8,1009.9 1288.3,1081.3 1302.8,1159.3 1317.3,1197 1331.8,1171.9 1346.3,1099 1360.8,1022 1375.2,987.2 1389.7,1015.4 1404.2,1089.7 1418.7,1165.5 1433.2,1197.4 1447.7,1166.2 1462.2,1090.6 1476.7,1016 1491.2,987.2" fill="none" stroke="#1f77b4" stroke-width="2.2" stroke-opacity="0.82" stroke-linejoin="round" marker-start="url(#mc)" marker-mid="url(#mc)" marker-end="url(#mc)"/>
<polyline points="940.5,1057 955,1138.2 969.5,1192.4 984,1186.5 998.5,1123.9 1013,1042 1027.4,989 1041.9,994.5 1056.4,1055.8 1070.9,1137.4 1085.4,1192.8 1099.9,1187.7 1114.4,1123.9 1128.9,1039.2 1143.4,986.2 1157.9,993.3 1172.4,1057.8 1186.9,1143.7 1201.3,1197.2 1215.8,1188.9 1230.3,1119.2 1244.8,1031.3 1259.3,980.3 1273.8,995.6 1288.3,1068.9 1302.8,1156.8 1317.3,1204.2 1331.8,1184.1 1346.3,1103.7 1360.8,1015 1375.2,973.8 1389.7,1006.3 1404.2,1091.8 1418.7,1178.2 1433.2,1209.4 1447.7,1165.5 1462.2,1071.7 1476.7,990.9 1491.2,976.3" fill="none" stroke="#ff7f0e" stroke-width="2.2" stroke-opacity="0.82" stroke-linejoin="round" stroke-dasharray="6.6 2.9" marker-start="url(#ms)" marker-mid="url(#ms)" marker-end="url(#ms)"/>
</g>
<rect x="913.2" y="961.2" width="607" height="259.3" fill="none" stroke="#4a4a4a" stroke-width="1.5"/>
<path d="M940.5 1220.5v4.2M1013 1220.5v4.2M1085.4 1220.5v4.2M1157.9 1220.5v4.2M1230.3 1220.5v4.2M1302.8 1220.5v4.2M1375.2 1220.5v4.2M1447.7 1220.5v4.2M913.2 1202.7h-4.2M913.2 1147.5h-4.2M913.2 1092.2h-4.2M913.2 1037h-4.2M913.2 981.8h-4.2" stroke="#4a4a4a" stroke-width="1.4" fill="none"/>
<text x="940.5" y="1238.7" font-size="12.5" text-anchor="middle" textLength="7.3" lengthAdjust="spacingAndGlyphs" fill="#262626" stroke="#262626" stroke-width="0.3">0</text>
<text x="1013" y="1238.7" font-size="12.5" text-anchor="middle" textLength="7.3" lengthAdjust="spacingAndGlyphs" fill="#262626" stroke="#262626" stroke-width="0.3">5</text>
<text x="1085.4" y="1238.7" font-size="12.5" text-anchor="middle" textLength="14.6" lengthAdjust="spacingAndGlyphs" fill="#262626" stroke="#262626" stroke-width="0.3">10</text>
<text x="1157.9" y="1238.7" font-size="12.5" text-anchor="middle" textLength="14.6" lengthAdjust="spacingAndGlyphs" fill="#262626" stroke="#262626" stroke-width="0.3">15</text>
<text x="1230.3" y="1238.7" font-size="12.5" text-anchor="middle" textLength="14.6" lengthAdjust="spacingAndGlyphs" fill="#262626" stroke="#262626" stroke-width="0.3">20</text>
<text x="1302.8" y="1238.7" font-size="12.5" text-anchor="middle" textLength="14.6" lengthAdjust="spacingAndGlyphs" fill="#262626" stroke="#262626" stroke-width="0.3">25</text>
<text x="1375.2" y="1238.7" font-size="12.5" text-anchor="middle" textLength="14.6" lengthAdjust="spacingAndGlyphs" fill="#262626" stroke="#262626" stroke-width="0.3">30</text>
<text x="1447.7" y="1238.7" font-size="12.5" text-anchor="middle" textLength="14.6" lengthAdjust="spacingAndGlyphs" fill="#262626" stroke="#262626" stroke-width="0.3">35</text>
<text x="903.4" y="1208.3" font-size="12.5" text-anchor="end" textLength="27.9" lengthAdjust="spacingAndGlyphs" fill="#262626" stroke="#262626" stroke-width="0.3">−1.0</text>
<text x="903.4" y="1153" font-size="12.5" text-anchor="end" textLength="27.9" lengthAdjust="spacingAndGlyphs" fill="#262626" stroke="#262626" stroke-width="0.3">−0.5</text>
<text x="903.4" y="1097.8" font-size="12.5" text-anchor="end" textLength="18.2" lengthAdjust="spacingAndGlyphs" fill="#262626" stroke="#262626" stroke-width="0.3">0.0</text>
<text x="903.4" y="1042.6" font-size="12.5" text-anchor="end" textLength="18.2" lengthAdjust="spacingAndGlyphs" fill="#262626" stroke="#262626" stroke-width="0.3">0.5</text>
<text x="903.4" y="987.4" font-size="12.5" text-anchor="end" textLength="18.2" lengthAdjust="spacingAndGlyphs" fill="#262626" stroke="#262626" stroke-width="0.3">1.0</text>
<text x="1216.1" y="954.7" font-size="14.3" text-anchor="middle" textLength="482.9" lengthAdjust="spacingAndGlyphs" fill="#262626" stroke="#262626" stroke-width="0.3">True vs AR-generated (context = 5, after random-perturb finetune)</text>
<text x="1181.2" y="1258.4" font-size="12.4" fill="#262626" stroke="#262626" stroke-width="0.3" textLength="63.9" lengthAdjust="spacingAndGlyphs" xml:space="preserve">Time step </text>
<text x="1245.1" y="1258.4" font-size="12.5" fill="#262626" stroke="#262626" stroke-width="0.3" font-style="italic">t</text>
<g transform="translate(864.2 1090.8) rotate(-90)" font-size="12" fill="#262626" stroke="#262626" stroke-width="0.3"><text x="-10.5" y="0" font-style="italic">x</text><text x="-3.5" y="0">(</text><text x="1.2" y="0" font-style="italic">t</text><text x="5.9" y="0">)</text></g>
<rect x="918.7" y="1071.2" width="176.5" height="39.2" rx="2.4" fill="#fff" fill-opacity="0.8" stroke="#ccc" stroke-opacity="0.8" stroke-width="1.2"/>
<path d="M923.1 1081.5H948.2" stroke="#1f77b4" stroke-width="2.2" stroke-opacity="0.82"/>
<circle cx="935.9" cy="1081.5" r="4.2" fill="#1f77b4"/>
<path d="M923.1 1100.3H948.2" stroke="#ff7f0e" stroke-width="2.2" stroke-opacity="0.82" stroke-dasharray="6.6 2.9"/>
<rect x="932.3" y="1096.8" width="7.2" height="7.2" fill="#ff7f0e"/>
<text x="956.4" y="1085.8" font-size="12" text-anchor="start" textLength="25.4" lengthAdjust="spacingAndGlyphs" fill="#262626" stroke="#262626" stroke-width="0.3">True</text>
<text x="956.4" y="1104.5" font-size="12" text-anchor="start" textLength="132.5" lengthAdjust="spacingAndGlyphs" fill="#262626" stroke="#262626" stroke-width="0.3">AR (random best of K)</text>
</g>
<g>
<rect x="1611.1" y="961.2" width="606.8" height="258.2" fill="#fff"/>
<path d="M1638.4 961.2V1219.4M1754.3 961.2V1219.4M1870.3 961.2V1219.4M1986.2 961.2V1219.4M2102.2 961.2V1219.4M1611.1 1184.5H2217.9M1611.1 1137.7H2217.9M1611.1 1090.8H2217.9M1611.1 1044H2217.9M1611.1 997.2H2217.9" stroke="#b0b0b0" stroke-opacity="0.21" stroke-width="1.3" fill="none"/>
<clipPath id="c12"><rect x="1611.1" y="961.2" width="606.8" height="258.2"/></clipPath>
<g clip-path="url(#c12)">
<polyline points="1638.4,1060.8 1644.2,1129.8 1650,1175.4 1655.8,1170.3 1661.6,1117.5 1667.4,1048.8 1673.2,1005.3 1679,1013.1 1684.8,1067.6 1690.6,1136 1696.4,1177.4 1702.2,1166.8 1708,1110.6 1713.8,1042.6 1719.6,1003.5 1725.4,1016.8 1731.2,1074.5 1737,1142 1742.8,1178.8 1748.6,1162.8 1754.3,1103.6 1760.1,1036.8 1765.9,1002.4 1771.7,1021 1777.5,1081.6 1783.3,1147.7 1789.1,1179.7 1794.9,1158.4 1800.7,1096.6 1806.5,1031.3 1812.3,1001.8 1818.1,1025.7 1823.9,1088.7 1829.7,1153 1835.5,1180 1841.3,1153.5 1847.1,1089.4 1852.9,1026.2 1858.7,1001.8 1864.5,1030.8 1870.3,1095.8 1876.1,1157.9 1881.9,1179.7 1887.7,1148.3 1893.5,1082.3 1899.3,1021.5 1905.1,1002.3 1910.9,1036.2 1916.7,1102.9 1922.5,1162.4 1928.3,1178.9 1934.1,1142.6 1939.9,1075.3 1945.7,1017.3 1951.5,1003.4 1957.3,1042 1963.1,1109.9 1968.9,1166.4 1974.7,1177.5 1980.5,1136.7 1986.2,1068.3 1992,1013.5 1997.8,1005.1 2003.6,1048.1 2009.4,1116.8 2015.2,1169.9 2021,1175.6 2026.8,1130.4 2032.6,1061.5 2038.4,1010.2 2044.2,1007.3 2050,1054.5 2055.8,1123.5 2061.6,1173 2067.4,1173.1 2073.2,1123.9 2079,1054.9 2084.8,1007.4 2090.6,1010 2096.4,1061.1 2102.2,1130 2108,1175.5 2113.8,1170.1 2119.6,1117.2 2125.4,1048.5 2131.2,1005.2 2137,1013.3 2142.8,1067.9 2148.6,1136.3 2154.4,1177.4 2160.2,1166.6 2166,1110.4 2171.8,1042.4 2177.6,1003.5 2183.4,1017 2189.2,1074.8" fill="none" stroke="#1f77b4" stroke-width="2.2" stroke-opacity="0.82" stroke-linejoin="round" marker-start="url(#mc)" marker-mid="url(#mc)" marker-end="url(#mc)"/>
<polyline points="1638.4,1060.9 1644.2,1130 1650,1175.3 1655.8,1170.5 1661.6,1118 1667.4,1048.6 1673.2,1002.7 1679,1006.3 1684.8,1056.7 1690.6,1125.5 1696.4,1174.4 1702.2,1174.7 1708,1124.3 1713.8,1052.8 1719.6,1002.7 1725.4,1001.2 1731.2,1050.4 1737,1121.9 1742.8,1174.9 1748.6,1177.7 1754.3,1128.8 1760.1,1055.2 1765.9,1001.2 1771.7,997.9 1777.5,1046.8 1783.3,1120.7 1789.1,1177.1 1794.9,1181.9 1800.7,1131.8 1806.5,1055.2 1812.3,999.2 1818.1,995.2 1823.9,1046.8 1829.7,1123.2 1835.5,1180.1 1841.3,1183.9 1847.1,1130.3 1852.9,1051.3 1858.7,995.2 1864.5,994.1 1870.3,1049.6 1876.1,1127.9 1881.9,1183.9 1887.7,1185.2 1893.5,1126.7 1899.3,1044.4 1905.1,989.6 1910.9,994.1 1916.7,1056.4 1922.5,1137.4 1928.3,1189.9 1934.1,1183 1939.9,1117.2 1945.7,1034.9 1951.5,984.6 1957.3,997.7 1963.1,1067.1 1968.9,1149.4 1974.7,1195.8 1980.5,1177.9 1986.2,1103.8 1992,1020 1997.8,978.3 2003.6,1006 2009.4,1085 2015.2,1166.3 2021,1201.8 2026.8,1167.3 2032.6,1082.6 2038.4,1002.7 2044.2,977.3 2050,1021.5 2055.8,1109.1 2061.6,1183.9 2067.4,1201.8 2073.2,1147.2 2079,1055.5 2084.8,985.7 2090.6,983.6 2096.4,1048.1 2102.2,1138.9 2108,1198.3 2113.8,1190.2 2119.6,1114.8 2125.4,1022.7 2131.2,974.1 2137,1001.2 2142.8,1085 2148.6,1173.2 2154.4,1208.1 2160.2,1166.3 2166,1073.1 2171.8,991.7 2177.6,975.3 2183.4,1033.7 2189.2,1127.9" fill="none" stroke="#ff7f0e" stroke-width="2.2" stroke-opacity="0.82" stroke-linejoin="round" stroke-dasharray="6.6 2.9" marker-start="url(#ms)" marker-mid="url(#ms)" marker-end="url(#ms)"/>
</g>
<rect x="1611.1" y="961.2" width="606.8" height="258.2" fill="none" stroke="#4a4a4a" stroke-width="1.5"/>
<path d="M1638.4 1219.4v4.2M1754.3 1219.4v4.2M1870.3 1219.4v4.2M1986.2 1219.4v4.2M2102.2 1219.4v4.2M1611.1 1184.5h-4.2M1611.1 1137.7h-4.2M1611.1 1090.8h-4.2M1611.1 1044h-4.2M1611.1 997.2h-4.2" stroke="#4a4a4a" stroke-width="1.4" fill="none"/>
<text x="1638.4" y="1237.6" font-size="12.5" text-anchor="middle" textLength="7.3" lengthAdjust="spacingAndGlyphs" fill="#262626" stroke="#262626" stroke-width="0.3">0</text>
<text x="1754.3" y="1237.6" font-size="12.5" text-anchor="middle" textLength="14.6" lengthAdjust="spacingAndGlyphs" fill="#262626" stroke="#262626" stroke-width="0.3">20</text>
<text x="1870.3" y="1237.6" font-size="12.5" text-anchor="middle" textLength="14.6" lengthAdjust="spacingAndGlyphs" fill="#262626" stroke="#262626" stroke-width="0.3">40</text>
<text x="1986.2" y="1237.6" font-size="12.5" text-anchor="middle" textLength="14.6" lengthAdjust="spacingAndGlyphs" fill="#262626" stroke="#262626" stroke-width="0.3">60</text>
<text x="2102.2" y="1237.6" font-size="12.5" text-anchor="middle" textLength="14.6" lengthAdjust="spacingAndGlyphs" fill="#262626" stroke="#262626" stroke-width="0.3">80</text>
<text x="1601.3" y="1190.1" font-size="12.5" text-anchor="end" textLength="27.9" lengthAdjust="spacingAndGlyphs" fill="#262626" stroke="#262626" stroke-width="0.3">−1.0</text>
<text x="1601.3" y="1143.2" font-size="12.5" text-anchor="end" textLength="27.9" lengthAdjust="spacingAndGlyphs" fill="#262626" stroke="#262626" stroke-width="0.3">−0.5</text>
<text x="1601.3" y="1096.4" font-size="12.5" text-anchor="end" textLength="18.2" lengthAdjust="spacingAndGlyphs" fill="#262626" stroke="#262626" stroke-width="0.3">0.0</text>
<text x="1601.3" y="1049.6" font-size="12.5" text-anchor="end" textLength="18.2" lengthAdjust="spacingAndGlyphs" fill="#262626" stroke="#262626" stroke-width="0.3">0.5</text>
<text x="1601.3" y="1002.8" font-size="12.5" text-anchor="end" textLength="18.2" lengthAdjust="spacingAndGlyphs" fill="#262626" stroke="#262626" stroke-width="0.3">1.0</text>
<text x="1913.9" y="954.7" font-size="14.3" text-anchor="middle" textLength="482.9" lengthAdjust="spacingAndGlyphs" fill="#262626" stroke="#262626" stroke-width="0.3">True vs AR-generated (context = 5, after random-perturb finetune)</text>
<text x="1879" y="1257.3" font-size="12.4" fill="#262626" stroke="#262626" stroke-width="0.3" textLength="63.9" lengthAdjust="spacingAndGlyphs" xml:space="preserve">Time step </text>
<text x="1942.9" y="1257.3" font-size="12.5" fill="#262626" stroke="#262626" stroke-width="0.3" font-style="italic">t</text>
<g transform="translate(1562.1 1090.3) rotate(-90)" font-size="12" fill="#262626" stroke="#262626" stroke-width="0.3"><text x="-10.5" y="0" font-style="italic">x</text><text x="-3.5" y="0">(</text><text x="1.2" y="0" font-style="italic">t</text><text x="5.9" y="0">)</text></g>
<rect x="1616.6" y="1070.7" width="176.5" height="39.2" rx="2.4" fill="#fff" fill-opacity="0.8" stroke="#ccc" stroke-opacity="0.8" stroke-width="1.2"/>
<path d="M1621 1081H1646.1" stroke="#1f77b4" stroke-width="2.2" stroke-opacity="0.82"/>
<circle cx="1633.8" cy="1081" r="4.2" fill="#1f77b4"/>
<path d="M1621 1099.8H1646.1" stroke="#ff7f0e" stroke-width="2.2" stroke-opacity="0.82" stroke-dasharray="6.6 2.9"/>
<rect x="1630.2" y="1096.2" width="7.2" height="7.2" fill="#ff7f0e"/>
<text x="1654.3" y="1085.2" font-size="12" text-anchor="start" textLength="25.4" lengthAdjust="spacingAndGlyphs" fill="#262626" stroke="#262626" stroke-width="0.3">True</text>
<text x="1654.3" y="1104" font-size="12" text-anchor="start" textLength="132.5" lengthAdjust="spacingAndGlyphs" fill="#262626" stroke="#262626" stroke-width="0.3">AR (random best of K)</text>
</g>
<g>
<rect x="2294" y="964.7" width="612.5" height="261.1" fill="#fff"/>
<path d="M2321.9 964.7V1225.8M2395.1 964.7V1225.8M2468.3 964.7V1225.8M2541.5 964.7V1225.8M2614.6 964.7V1225.8M2687.8 964.7V1225.8M2761 964.7V1225.8M2834.2 964.7V1225.8M2294 1194.8H2906.5M2294 1145.1H2906.5M2294 1095.4H2906.5M2294 1045.7H2906.5M2294 996H2906.5" stroke="#b0b0b0" stroke-opacity="0.21" stroke-width="1.3" fill="none"/>
<clipPath id="c13"><rect x="2294" y="964.7" width="612.5" height="261.1"/></clipPath>
<g clip-path="url(#c13)">
<polyline points="2321.9,1063.5 2324.8,1136.7 2327.8,1185.1 2330.7,1179.7 2333.6,1123.7 2336.5,1050.7 2339.5,1004.6 2342.4,1012.9 2345.3,1070.7 2348.2,1143.4 2351.2,1187.2 2354.1,1176 2357,1116.4 2360,1044.2 2362.9,1002.7 2365.8,1016.8 2368.7,1078.1 2371.7,1149.7 2374.6,1188.8 2377.5,1171.8 2380.4,1109 2383.4,1038 2386.3,1001.5 2389.2,1021.3 2392.2,1085.6 2395.1,1155.7 2398,1189.7 2400.9,1167.1 2403.9,1101.5 2406.8,1032.2 2409.7,1000.9 2412.7,1026.2 2415.6,1093.1 2418.5,1161.4 2421.4,1190 2424.4,1161.9 2427.3,1093.9 2430.2,1026.8 2433.1,1000.8 2436.1,1031.6 2439,1100.7 2441.9,1166.6 2444.9,1189.8 2447.8,1156.3 2450.7,1086.4 2453.6,1021.8 2456.6,1001.4 2459.5,1037.4 2462.4,1108.2 2465.3,1171.3 2468.3,1188.9 2471.2,1150.4 2474.1,1078.9 2477.1,1017.3 2480,1002.6 2482.9,1043.5 2485.8,1115.6 2488.8,1175.6 2491.7,1187.4 2494.6,1144.1 2497.5,1071.5 2500.5,1013.3 2503.4,1004.3 2506.3,1050 2509.3,1122.9 2512.2,1179.3 2515.1,1185.4 2518,1137.4 2521,1064.3 2523.9,1009.8 2526.8,1006.7 2529.7,1056.8 2532.7,1130.1 2535.6,1182.5 2538.5,1182.7 2541.5,1130.5 2544.4,1057.2 2547.3,1006.9 2550.2,1009.6 2553.2,1063.8 2556.1,1137 2559,1185.2 2561.9,1179.6 2564.9,1123.4 2567.8,1050.5 2570.7,1004.5 2573.7,1013 2576.6,1071 2579.5,1143.6 2582.4,1187.3 2585.4,1175.8 2588.3,1116.1 2591.2,1044 2594.2,1002.7 2597.1,1017 2600,1078.4 2602.9,1150 2605.9,1188.8 2608.8,1171.6 2611.7,1108.7 2614.6,1037.8 2617.6,1001.5 2620.5,1021.5 2623.4,1085.9 2626.4,1156 2629.3,1189.7 2632.2,1166.9 2635.1,1101.2 2638.1,1032 2641,1000.9 2643.9,1026.4 2646.8,1093.4 2649.8,1161.6 2652.7,1190 2655.6,1161.7 2658.6,1093.6 2661.5,1026.6 2664.4,1000.8 2667.3,1031.8 2670.3,1101 2673.2,1166.8 2676.1,1189.7 2679,1156.1 2682,1086.1 2684.9,1021.6 2687.8,1001.4 2690.8,1037.6 2693.7,1108.5 2696.6,1171.5 2699.5,1188.8 2702.5,1150.1 2705.4,1078.6 2708.3,1017.1 2711.2,1002.6 2714.2,1043.8 2717.1,1115.9 2720,1175.7 2723,1187.3 2725.9,1143.8 2728.8,1071.2 2731.7,1013.1 2734.7,1004.4 2737.6,1050.3 2740.5,1123.2 2743.4,1179.5 2746.4,1185.3 2749.3,1137.2 2752.2,1064 2755.2,1009.7 2758.1,1006.8 2761,1057.1 2763.9,1130.3 2766.9,1182.7 2769.8,1182.6 2772.7,1130.3 2775.7,1057 2778.6,1006.7 2781.5,1009.7 2784.4,1064.1 2787.4,1137.3 2790.3,1185.3 2793.2,1179.4 2796.1,1123.1 2799.1,1050.2 2802,1004.4 2804.9,1013.2 2807.9,1071.3 2810.8,1143.9 2813.7,1187.4 2816.6,1175.7 2819.6,1115.8 2822.5,1043.7 2825.4,1002.6 2828.3,1017.2 2831.3,1078.7 2834.2,1150.2 2837.1,1188.9 2840.1,1171.4 2843,1108.4 2845.9,1037.5 2848.8,1001.4 2851.8,1021.7 2854.7,1086.2 2857.6,1156.2 2860.5,1189.7 2863.5,1166.7 2866.4,1100.9 2869.3,1031.8 2872.3,1000.8 2875.2,1026.7 2878.1,1093.7" fill="none" stroke="#1f77b4" stroke-width="2.2" stroke-opacity="0.82" stroke-linejoin="round" marker-start="url(#mc)" marker-mid="url(#mc)" marker-end="url(#mc)"/>
<polyline points="2321.9,1064.3 2324.8,1134.5 2327.8,1182 2330.7,1179.4 2333.6,1128.2 2336.5,1058.1 2339.5,1009.7 2342.4,1010.9 2345.3,1061 2348.2,1130.9 2351.2,1180.2 2354.1,1180.3 2357,1131.4 2360,1061.7 2362.9,1011.6 2365.8,1010 2368.7,1057.6 2371.7,1127.6 2374.6,1179.4 2377.5,1182.8 2380.4,1135.5 2383.4,1065.4 2386.3,1011.7 2389.2,1005.1 2392.2,1049.5 2395.1,1120.6 2398,1178.3 2400.9,1189.6 2403.9,1147.5 2406.8,1075.3 2409.7,1013.5 2412.7,997.5 2415.6,1037 2418.5,1110 2421.4,1175.5 2424.4,1196.1 2427.3,1159.8 2430.2,1086.6 2433.1,1017.7 2436.1,992.2 2439,1025.3 2441.9,1100.7 2444.9,1172.9 2447.8,1198.7 2450.7,1162.5 2453.6,1086 2456.6,1015 2459.5,992.3 2462.4,1031.4 2465.3,1109 2468.3,1178.5 2471.2,1198.2 2474.1,1156.2 2477.1,1077.7 2480,1009.8 2482.9,993.2 2485.8,1037.9 2488.8,1117.2 2491.7,1183.5 2494.6,1197 2497.5,1149.5 2500.5,1069.5 2503.4,1005.4 2506.3,995.3 2509.3,1045.2 2512.2,1125.1 2515.1,1186.9 2518,1193.7 2521,1141.6 2523.9,1062 2526.8,1002.7 2529.7,999.1 2532.7,1053.2 2535.6,1132.6 2538.5,1190.4 2541.5,1191.5 2544.4,1134.6 2547.3,1053.6 2550.2,997 2553.2,999.2 2556.1,1059.4 2559,1142.4 2561.9,1197.5 2564.9,1190.8 2567.8,1125.9 2570.7,1041.8 2573.7,989.6 2576.6,1001.5 2579.5,1070.8 2582.4,1155.7 2585.4,1204.6 2588.3,1187.4 2591.2,1113.9 2594.2,1028.5 2597.1,983.1 2600,1005.9 2602.9,1083.4 2605.9,1168.7 2608.8,1209.9 2611.7,1181.6 2614.6,1100.6 2617.6,1015.1 2620.5,979.1 2623.4,1015.6 2626.4,1101.7 2629.3,1183.9 2632.2,1211.1 2635.1,1166.3 2638.1,1077.5 2641,999.8 2643.9,981.5 2646.8,1034 2649.8,1124.7 2652.7,1197.1 2655.6,1206.4 2658.6,1146.4 2661.5,1055.5 2664.4,990.2 2667.3,990.7 2670.3,1055.9 2673.2,1144.9 2676.1,1202.5 2679,1192.5 2682,1121.9 2684.9,1035.5 2687.8,986.2 2690.8,1005.4 2693.7,1081.8 2696.6,1167.7 2699.5,1209 2702.5,1178.8 2705.4,1095.6 2708.3,1011.2 2711.2,979.1 2714.2,1020.2 2717.1,1109.3 2720,1190.7 2723,1212.8 2725.9,1160.2 2728.8,1067.4 2731.7,992.9 2734.7,983.1 2737.6,1043.8 2740.5,1136.3 2743.4,1202.4 2746.4,1201 2749.3,1133.5 2752.2,1042.6 2755.2,985.5 2758.1,997.7 2761,1071 2763.9,1159.5 2766.9,1208.3 2769.8,1186.2 2772.7,1106.6 2775.7,1019.2 2778.6,979.2 2781.5,1012.2 2784.4,1098.1 2787.4,1183 2790.3,1213.3 2793.2,1168.9 2796.1,1077.3 2799.1,997.4 2802,980.4 2804.9,1036.3 2807.9,1129 2810.8,1199.4 2813.7,1203.2 2816.6,1138.8 2819.6,1047.6 2822.5,987.8 2825.4,996.7 2828.3,1067.9 2831.3,1155.7 2834.2,1205.8 2837.1,1185.9 2840.1,1107.7 2843,1020.3 2845.9,979.7 2848.8,1012.7 2851.8,1099.7 2854.7,1185.3 2857.6,1213.9 2860.5,1165.4 2863.5,1072.2 2866.4,994.3 2869.3,981.8 2872.3,1042.2 2875.2,1136.5 2878.1,1203.9" fill="none" stroke="#ff7f0e" stroke-width="2.2" stroke-opacity="0.82" stroke-linejoin="round" stroke-dasharray="6.7 2.9" marker-start="url(#ms)" marker-mid="url(#ms)" marker-end="url(#ms)"/>
</g>
<rect x="2294" y="964.7" width="612.5" height="261.1" fill="none" stroke="#4a4a4a" stroke-width="1.5"/>
<path d="M2321.9 1225.8v4.2M2395.1 1225.8v4.2M2468.3 1225.8v4.2M2541.5 1225.8v4.2M2614.6 1225.8v4.2M2687.8 1225.8v4.2M2761 1225.8v4.2M2834.2 1225.8v4.2M2294 1194.8h-4.2M2294 1145.1h-4.2M2294 1095.4h-4.2M2294 1045.7h-4.2M2294 996h-4.2" stroke="#4a4a4a" stroke-width="1.4" fill="none"/>
<text x="2321.9" y="1244.2" font-size="12.7" text-anchor="middle" textLength="7.4" lengthAdjust="spacingAndGlyphs" fill="#262626" stroke="#262626" stroke-width="0.3">0</text>
<text x="2395.1" y="1244.2" font-size="12.7" text-anchor="middle" textLength="14.7" lengthAdjust="spacingAndGlyphs" fill="#262626" stroke="#262626" stroke-width="0.3">25</text>
<text x="2468.3" y="1244.2" font-size="12.7" text-anchor="middle" textLength="14.7" lengthAdjust="spacingAndGlyphs" fill="#262626" stroke="#262626" stroke-width="0.3">50</text>
<text x="2541.5" y="1244.2" font-size="12.7" text-anchor="middle" textLength="14.7" lengthAdjust="spacingAndGlyphs" fill="#262626" stroke="#262626" stroke-width="0.3">75</text>
<text x="2614.6" y="1244.2" font-size="12.7" text-anchor="middle" textLength="22.1" lengthAdjust="spacingAndGlyphs" fill="#262626" stroke="#262626" stroke-width="0.3">100</text>
<text x="2687.8" y="1244.2" font-size="12.7" text-anchor="middle" textLength="22.1" lengthAdjust="spacingAndGlyphs" fill="#262626" stroke="#262626" stroke-width="0.3">125</text>
<text x="2761" y="1244.2" font-size="12.7" text-anchor="middle" textLength="22.1" lengthAdjust="spacingAndGlyphs" fill="#262626" stroke="#262626" stroke-width="0.3">150</text>
<text x="2834.2" y="1244.2" font-size="12.7" text-anchor="middle" textLength="22.1" lengthAdjust="spacingAndGlyphs" fill="#262626" stroke="#262626" stroke-width="0.3">175</text>
<text x="2284.2" y="1200.4" font-size="12.7" text-anchor="end" textLength="28.1" lengthAdjust="spacingAndGlyphs" fill="#262626" stroke="#262626" stroke-width="0.3">−1.0</text>
<text x="2284.2" y="1150.7" font-size="12.7" text-anchor="end" textLength="28.1" lengthAdjust="spacingAndGlyphs" fill="#262626" stroke="#262626" stroke-width="0.3">−0.5</text>
<text x="2284.2" y="1101" font-size="12.7" text-anchor="end" textLength="18.4" lengthAdjust="spacingAndGlyphs" fill="#262626" stroke="#262626" stroke-width="0.3">0.0</text>
<text x="2284.2" y="1051.3" font-size="12.7" text-anchor="end" textLength="18.4" lengthAdjust="spacingAndGlyphs" fill="#262626" stroke="#262626" stroke-width="0.3">0.5</text>
<text x="2284.2" y="1001.6" font-size="12.7" text-anchor="end" textLength="18.4" lengthAdjust="spacingAndGlyphs" fill="#262626" stroke="#262626" stroke-width="0.3">1.0</text>
<text x="2599.7" y="958.2" font-size="14.5" text-anchor="middle" textLength="487.8" lengthAdjust="spacingAndGlyphs" fill="#262626" stroke="#262626" stroke-width="0.3">True vs AR-generated (context = 5, after random-perturb finetune)</text>
<text x="2564.4" y="1264" font-size="12.6" fill="#262626" stroke="#262626" stroke-width="0.3" textLength="64.5" lengthAdjust="spacingAndGlyphs" xml:space="preserve">Time step </text>
<text x="2628.9" y="1264" font-size="12.7" fill="#262626" stroke="#262626" stroke-width="0.3" font-style="italic">t</text>
<g transform="translate(2244.5 1095.2) rotate(-90)" font-size="12.1" fill="#262626" stroke="#262626" stroke-width="0.3"><text x="-10.6" y="0" font-style="italic">x</text><text x="-3.5" y="0">(</text><text x="1.2" y="0" font-style="italic">t</text><text x="5.9" y="0">)</text></g>
<rect x="2722.2" y="1075.5" width="178.3" height="39.6" rx="2.4" fill="#fff" fill-opacity="0.8" stroke="#ccc" stroke-opacity="0.8" stroke-width="1.2"/>
<path d="M2726.6 1085.9H2751.9" stroke="#1f77b4" stroke-width="2.2" stroke-opacity="0.82"/>
<circle cx="2739.6" cy="1085.9" r="4.2" fill="#1f77b4"/>
<path d="M2726.6 1104.8H2751.9" stroke="#ff7f0e" stroke-width="2.2" stroke-opacity="0.82" stroke-dasharray="6.7 2.9"/>
<rect x="2735.9" y="1101.2" width="7.2" height="7.2" fill="#ff7f0e"/>
<text x="2760.2" y="1090.1" font-size="12.1" text-anchor="start" textLength="25.6" lengthAdjust="spacingAndGlyphs" fill="#262626" stroke="#262626" stroke-width="0.3">True</text>
<text x="2760.2" y="1109.1" font-size="12.1" text-anchor="start" textLength="133.9" lengthAdjust="spacingAndGlyphs" fill="#262626" stroke="#262626" stroke-width="0.3">AR (random best of K)</text>
</g>
<g>
<rect x="3008.8" y="968.7" width="600.3" height="257.9" fill="#fff"/>
<path d="M3036 968.7V1226.6M3107.7 968.7V1226.6M3179.4 968.7V1226.6M3251.1 968.7V1226.6M3322.7 968.7V1226.6M3394.4 968.7V1226.6M3466.1 968.7V1226.6M3537.8 968.7V1226.6M3008.8 1221H3609.1M3008.8 1190.2H3609.1M3008.8 1159.4H3609.1M3008.8 1128.6H3609.1M3008.8 1097.8H3609.1M3008.8 1067.1H3609.1M3008.8 1036.3H3609.1M3008.8 1005.5H3609.1M3008.8 974.7H3609.1" stroke="#b0b0b0" stroke-opacity="0.21" stroke-width="1.3" fill="none"/>
<clipPath id="c14"><rect x="3008.8" y="968.7" width="600.3" height="257.9"/></clipPath>
<g clip-path="url(#c14)">
<polyline points="3036,1058.4 3037.4,1149 3038.9,1209 3040.3,1202.3 3041.7,1132.9 3043.2,1042.5 3044.6,985.3 3046,995.6 3047.5,1067.3 3048.9,1157.3 3050.3,1211.6 3051.8,1197.7 3053.2,1123.9 3054.6,1034.4 3056.1,983 3057.5,1000.5 3058.9,1076.4 3060.4,1165.2 3061.8,1213.5 3063.2,1192.5 3064.7,1114.7 3066.1,1026.8 3067.5,981.5 3069,1006.1 3070.4,1085.7 3071.8,1172.6 3073.3,1214.7 3074.7,1186.7 3076.1,1105.4 3077.6,1019.6 3079,980.7 3080.4,1012.2 3081.9,1095 3083.3,1179.6 3084.7,1215.1 3086.2,1180.3 3087.6,1096 3089,1012.8 3090.5,980.7 3091.9,1018.8 3093.3,1104.4 3094.8,1186 3096.2,1214.8 3097.6,1173.4 3099.1,1086.7 3100.5,1006.7 3102,981.4 3103.4,1026 3104.8,1113.7 3106.3,1191.9 3107.7,1213.7 3109.1,1166 3110.6,1077.4 3112,1001.1 3113.4,982.8 3114.9,1033.6 3116.3,1122.9 3117.7,1197.2 3119.2,1211.9 3120.6,1158.1 3122,1068.2 3123.5,996.1 3124.9,985 3126.3,1041.6 3127.8,1132 3129.2,1201.8 3130.6,1209.3 3132.1,1149.9 3133.5,1059.3 3134.9,991.8 3136.4,987.9 3137.8,1050 3139.2,1140.8 3140.7,1205.8 3142.1,1206.1 3143.5,1141.4 3145,1050.6 3146.4,988.1 3147.8,991.5 3149.3,1058.7 3150.7,1149.4 3152.1,1209.1 3153.6,1202.1 3155,1132.6 3156.4,1042.2 3157.9,985.2 3159.3,995.8 3160.7,1067.6 3162.2,1157.6 3163.6,1211.7 3165,1197.5 3166.5,1123.5 3167.9,1034.1 3169.3,983 3170.8,1000.7 3172.2,1076.8 3173.6,1165.5 3175.1,1213.6 3176.5,1192.3 3177.9,1114.3 3179.4,1026.5 3180.8,981.5 3182.2,1006.3 3183.7,1086 3185.1,1172.9 3186.5,1214.7 3188,1186.4 3189.4,1105 3190.8,1019.3 3192.3,980.7 3193.7,1012.4 3195.1,1095.4 3196.6,1179.8 3198,1215.1 3199.4,1180 3200.9,1095.6 3202.3,1012.6 3203.7,980.7 3205.2,1019.1 3206.6,1104.7 3208,1186.3 3209.5,1214.7 3210.9,1173.1 3212.3,1086.3 3213.8,1006.4 3215.2,981.4 3216.6,1026.3 3218.1,1114.1 3219.5,1192.1 3220.9,1213.6 3222.4,1165.7 3223.8,1077 3225.3,1000.9 3226.7,982.9 3228.1,1033.9 3229.6,1123.3 3231,1197.4 3232.4,1211.8 3233.9,1157.8 3235.3,1067.9 3236.7,995.9 3238.2,985.1 3239.6,1042 3241,1132.3 3242.5,1202 3243.9,1209.2 3245.3,1149.6 3246.8,1058.9 3248.2,991.6 3249.6,988.1 3251.1,1050.4 3252.5,1141.1 3253.9,1206 3255.4,1205.9 3256.8,1141 3258.2,1050.2 3259.7,988 3261.1,991.7 3262.5,1059.1 3264,1149.7 3265.4,1209.2 3266.8,1201.9 3268.3,1132.2 3269.7,1041.8 3271.1,985.1 3272.6,996 3274,1068 3275.4,1157.9 3276.9,1211.8 3278.3,1197.3 3279.7,1123.1 3281.2,1033.8 3282.6,982.9 3284,1000.9 3285.5,1077.1 3286.9,1165.8 3288.3,1213.6 3289.8,1192 3291.2,1113.9 3292.6,1026.2 3294.1,981.4 3295.5,1006.5 3296.9,1086.4 3298.4,1173.2 3299.8,1214.7 3301.2,1186.2 3302.7,1104.6 3304.1,1019 3305.5,980.7 3307,1012.7 3308.4,1095.8 3309.8,1180.1 3311.3,1215.1 3312.7,1179.7 3314.1,1095.3 3315.6,1012.3 3317,980.7 3318.4,1019.4 3319.9,1105.1 3321.3,1186.5 3322.7,1214.7 3324.2,1172.8 3325.6,1085.9 3327,1006.2 3328.5,981.5 3329.9,1026.6 3331.3,1114.4 3332.8,1192.3 3334.2,1213.6 3335.6,1165.4 3337.1,1076.7 3338.5,1000.7 3339.9,983 3341.4,1034.2 3342.8,1123.6 3344.2,1197.6 3345.7,1211.7 3347.1,1157.5 3348.5,1067.5 3350,995.7 3351.4,985.2 3352.9,1042.3 3354.3,1132.7 3355.7,1202.2 3357.2,1209.1 3358.6,1149.3 3360,1058.6 3361.5,991.5 3362.9,988.2 3364.3,1050.7 3365.8,1141.5 3367.2,1206.1 3368.6,1205.8 3370.1,1140.7 3371.5,1049.9 3372.9,987.9 3374.4,991.8 3375.8,1059.4 3377.2,1150 3378.7,1209.4 3380.1,1201.8 3381.5,1131.8 3383,1041.5 3384.4,985 3385.8,996.2 3387.3,1068.4 3388.7,1158.2 3390.1,1211.9 3391.6,1197.1 3393,1122.8 3394.4,1033.5 3395.9,982.8 3397.3,1001.2 3398.7,1077.5 3400.2,1166.1 3401.6,1213.7 3403,1191.8 3404.5,1113.6 3405.9,1025.9 3407.3,981.4 3408.8,1006.8 3410.2,1086.8 3411.6,1173.5 3413.1,1214.8 3414.5,1185.9 3415.9,1104.2 3417.4,1018.7 3418.8,980.7 3420.2,1012.9 3421.7,1096.1 3423.1,1180.4 3424.5,1215.1 3426,1179.5 3427.4,1094.9 3428.8,1012.1 3430.3,980.7 3431.7,1019.6 3433.1,1105.5 3434.6,1186.7 3436,1214.7 3437.4,1172.5 3438.9,1085.5 3440.3,1006 3441.7,981.5 3443.2,1026.9 3444.6,1114.8 3446,1192.6 3447.5,1213.5 3448.9,1165.1 3450.3,1076.3 3451.8,1000.5 3453.2,983.1 3454.6,1034.5 3456.1,1124 3457.5,1197.8 3458.9,1211.6 3460.4,1157.2 3461.8,1067.2 3463.2,995.6 3464.7,985.3 3466.1,1042.6 3467.5,1133 3469,1202.3 3470.4,1209 3471.8,1148.9 3473.3,1058.2 3474.7,991.3 3476.2,988.3 3477.6,1051 3479,1141.8 3480.5,1206.2 3481.9,1205.6 3483.3,1140.3 3484.8,1049.6 3486.2,987.8 3487.6,992 3489.1,1059.8 3490.5,1150.4 3491.9,1209.5 3493.4,1201.6 3494.8,1131.5 3496.2,1041.2 3497.7,984.9 3499.1,996.4 3500.5,1068.7 3502,1158.6 3503.4,1212 3504.8,1196.9 3506.3,1122.4 3507.7,1033.2 3509.1,982.7 3510.6,1001.4 3512,1077.9 3513.4,1166.4 3514.9,1213.8 3516.3,1191.6 3517.7,1113.2 3519.2,1025.6 3520.6,981.3 3522,1007 3523.5,1087.2 3524.9,1173.7 3526.3,1214.8 3527.8,1185.7 3529.2,1103.9 3530.6,1018.5 3532.1,980.7 3533.5,1013.2 3534.9,1096.5 3536.4,1180.6 3537.8,1215.1 3539.2,1179.2 3540.7,1094.5 3542.1,1011.8 3543.5,980.7 3545,1019.9 3546.4,1105.9 3547.8,1187 3549.3,1214.6 3550.7,1172.2 3552.1,1085.2 3553.6,1005.7 3555,981.6 3556.4,1027.2 3557.9,1115.2 3559.3,1192.8 3560.7,1213.4 3562.2,1164.7 3563.6,1075.9 3565,1000.3 3566.5,983.1 3567.9,1034.8 3569.3,1124.4 3570.8,1198 3572.2,1211.5 3573.6,1156.9 3575.1,1066.8 3576.5,995.4 3577.9,985.4 3579.4,1042.9 3580.8,1133.4" fill="none" stroke="#1f77b4" stroke-width="2.2" stroke-opacity="0.82" stroke-linejoin="round" marker-start="url(#mc)" marker-mid="url(#mc)" marker-end="url(#mc)"/>
<polyline points="3036,1058.4 3037.4,1147.9 3038.9,1208.4 3040.3,1204.1 3041.7,1137.5 3043.2,1048.8 3044.6,986.3 3046,989 3047.5,1055.7 3048.9,1146.8 3050.3,1209.7 3051.8,1204.8 3053.2,1138.3 3054.6,1049 3056.1,986.7 3057.5,989.1 3058.9,1057.4 3060.4,1149.1 3061.8,1211.2 3063.2,1205.3 3064.7,1138.7 3066.1,1046.8 3067.5,985.2 3069,994.3 3070.4,1059.1 3071.8,1152 3073.3,1211.5 3074.7,1206 3076.1,1134 3077.6,1043.8 3079,984.6 3080.4,993.2 3081.9,1063.3 3083.3,1152.5 3084.7,1210.4 3086.2,1203.1 3087.6,1132.3 3089,1043.3 3090.5,982.1 3091.9,992.3 3093.3,1060.6 3094.8,1153.6 3096.2,1211.6 3097.6,1203 3099.1,1129.9 3100.5,1039.2 3102,983.9 3103.4,993.9 3104.8,1066.2 3106.3,1156.5 3107.7,1212.2 3109.1,1203 3110.6,1130.1 3112,1039.2 3113.4,984.6 3114.9,995.5 3116.3,1067.6 3117.7,1156.2 3119.2,1210 3120.6,1200.3 3122,1125.7 3123.5,1038.6 3124.9,985.2 3126.3,1003.1 3127.8,1077.4 3129.2,1164.3 3130.6,1210.2 3132.1,1191 3133.5,1114.2 3134.9,1025.8 3136.4,985.7 3137.8,1013.6 3139.2,1091.2 3140.7,1172.4 3142.1,1202.8 3143.5,1175.8 3145,1098.4 3146.4,1021.7 3147.8,993.9 3149.3,1025.2 3150.7,1101.7 3152.1,1176.3 3153.6,1202.3 3155,1165 3156.4,1087.7 3157.9,1015.7 3159.3,996.8 3160.7,1039.7 3162.2,1113.1 3163.6,1182.7 3165,1196.7 3166.5,1154.7 3167.9,1072.4 3169.3,1013.7 3170.8,1003.8 3172.2,1050.5 3173.6,1127.1 3175.1,1183.7 3176.5,1187.4 3177.9,1139.7 3179.4,1064.9 3180.8,1010.3 3182.2,1014.9 3183.7,1070.9 3185.1,1143 3186.5,1181.3 3188,1165.8 3189.4,1104.1 3190.8,1042.1 3192.3,1016.7 3193.7,1046.9 3195.1,1107.1 3196.6,1160.1 3198,1168 3199.4,1129.1 3200.9,1077.6 3202.3,1034.4 3203.7,1053.5 3205.2,1111.6 3206.6,1150.1 3208,1138.5 3209.5,1091.1 3210.9,1057.1 3212.3,1060.2 3213.8,1097.8 3215.2,1126.8 3216.6,1122.3 3218.1,1092.8 3219.5,1067.9 3220.9,1073.1 3222.4,1103.9 3223.8,1125.7 3225.3,1115.1 3226.7,1086.7 3228.1,1068.4 3229.6,1080.8 3231,1110 3232.4,1124.3 3233.9,1107.1 3235.3,1077.5 3236.7,1068.3 3238.2,1088.2 3239.6,1115.2 3241,1121.5 3242.5,1098.5 3243.9,1073.8 3245.3,1073.2 3246.8,1095.4 3248.2,1118.6 3249.6,1116.1 3251.1,1092.6 3252.5,1070.9 3253.9,1078.2 3255.4,1102.5 3256.8,1119.4 3258.2,1110.5 3259.7,1085 3261.1,1071.6 3262.5,1084.1 3264,1108.4 3265.4,1119.1 3266.8,1103 3268.3,1079.8 3269.7,1074.1 3271.1,1090.3 3272.6,1113 3274,1115.5 3275.4,1098.6 3276.9,1076.4 3278.3,1078.4 3279.7,1097.3 3281.2,1112.8 3282.6,1111.2 3284,1090.1 3285.5,1075.7 3286.9,1082.4 3288.3,1102.7 3289.8,1115.2 3291.2,1106.5 3292.6,1086.1 3294.1,1076.3 3295.5,1087.3 3296.9,1106 3298.4,1114.2 3299.8,1101.2 3301.2,1082.1 3302.7,1078.3 3304.1,1093.4 3305.5,1109.9 3307,1110.5 3308.4,1095.1 3309.8,1080.6 3311.3,1080 3312.7,1097.4 3314.1,1110.2 3315.6,1107.7 3317,1091.5 3318.4,1078.9 3319.9,1085.2 3321.3,1102.6 3322.7,1111.7 3324.2,1103.5 3325.6,1087.3 3327,1079.2 3328.5,1089.2 3329.9,1105.7 3331.3,1110.5 3332.8,1098.3 3334.2,1083.4 3335.6,1081.8 3337.1,1093.7 3338.5,1106.8 3339.9,1108 3341.4,1095 3342.8,1080.8 3344.2,1082.1 3345.7,1098 3347.1,1110.6 3348.5,1106 3350,1089.2 3351.4,1081.1 3352.9,1086.6 3354.3,1101.4 3355.7,1109.1 3357.2,1100.4 3358.6,1086.9 3360,1081.2 3361.5,1090.6 3362.9,1104.5 3364.3,1106.5 3365.8,1098.1 3367.2,1085.2 3368.6,1082.5 3370.1,1095.4 3371.5,1106.4 3372.9,1106.5 3374.4,1093.1 3375.8,1083.1 3377.2,1085.2 3378.7,1098.7 3380.1,1107.4 3381.5,1104.4 3383,1089.7 3384.4,1082.6 3385.8,1088.7 3387.3,1101.4 3388.7,1107.3 3390.1,1099.8 3391.6,1086.4 3393,1083.9 3394.4,1092.4 3395.9,1103.3 3397.3,1105.8 3398.7,1096.7 3400.2,1084.6 3401.6,1084.1 3403,1095.6 3404.5,1104.2 3405.9,1104.8 3407.3,1092.2 3408.8,1085.4 3410.2,1087.1 3411.6,1098.6 3413.1,1106 3414.5,1101.1 3415.9,1090.8 3417.4,1084.8 3418.8,1090.7 3420.2,1100.2 3421.7,1105.8 3423.1,1098.3 3424.5,1088 3426,1084.5 3427.4,1093.6 3428.8,1103.5 3430.3,1104.6 3431.7,1095.5 3433.1,1086.8 3434.6,1086.3 3436,1095.6 3437.4,1103.5 3438.9,1102.1 3440.3,1091.9 3441.7,1085.8 3443.2,1089 3444.6,1098.9 3446,1104.8 3447.5,1100.8 3448.9,1090.1 3450.3,1085.6 3451.8,1092.3 3453.2,1100.7 3454.6,1104.3 3456.1,1098 3457.5,1088.6 3458.9,1085.9 3460.4,1093.7 3461.8,1103.3 3463.2,1102.5 3464.7,1095.4 3466.1,1086.4 3467.5,1088.3 3469,1096.3 3470.4,1103.2 3471.8,1101.5 3473.3,1092.7 3474.7,1086.7 3476.2,1088.6 3477.6,1098.5 3479,1103.1 3480.5,1099 3481.9,1090.2 3483.3,1086.4 3484.8,1091.2 3486.2,1102.1 3487.6,1103.3 3489.1,1097.2 3490.5,1088.1 3491.9,1087.8 3493.4,1093.8 3494.8,1101.3 3496.2,1102.2 3497.7,1094 3499.1,1087.7 3500.5,1088.2 3502,1096.3 3503.4,1102 3504.8,1099.8 3506.3,1092.6 3507.7,1086.2 3509.1,1090.4 3510.6,1098.1 3512,1102.7 3513.4,1097.8 3514.9,1090.8 3516.3,1086.4 3517.7,1093 3519.2,1100.5 3520.6,1102 3522,1096.9 3523.5,1088.4 3524.9,1087.9 3526.3,1094.3 3527.8,1101.6 3529.2,1101.6 3530.6,1094.4 3532.1,1088.1 3533.5,1089.2 3534.9,1096.9 3536.4,1101.8 3537.8,1098.7 3539.2,1091.9 3540.7,1087.6 3542.1,1090.8 3543.5,1098.5 3545,1103.3 3546.4,1097.9 3547.8,1090 3549.3,1087.4 3550.7,1093.3 3552.1,1100.8 3553.6,1100.4 3555,1097.1 3556.4,1088 3557.9,1088.9 3559.3,1095.3 3560.7,1101.3 3562.2,1100.2 3563.6,1094 3565,1088.8 3566.5,1089.8 3567.9,1096.4 3569.3,1101.9 3570.8,1097.6 3572.2,1092.3 3573.6,1087.4 3575.1,1091.4 3576.5,1098.1 3577.9,1102.1 3579.4,1096.6 3580.8,1090.1" fill="none" stroke="#ff7f0e" stroke-width="2.2" stroke-opacity="0.82" stroke-linejoin="round" stroke-dasharray="6.6 2.9" marker-start="url(#ms)" marker-mid="url(#ms)" marker-end="url(#ms)"/>
</g>
<rect x="3008.8" y="968.7" width="600.3" height="257.9" fill="none" stroke="#4a4a4a" stroke-width="1.5"/>
<path d="M3036 1226.6v4.2M3107.7 1226.6v4.2M3179.4 1226.6v4.2M3251.1 1226.6v4.2M3322.7 1226.6v4.2M3394.4 1226.6v4.2M3466.1 1226.6v4.2M3537.8 1226.6v4.2M3008.8 1221h-4.2M3008.8 1190.2h-4.2M3008.8 1159.4h-4.2M3008.8 1128.6h-4.2M3008.8 1097.8h-4.2M3008.8 1067.1h-4.2M3008.8 1036.3h-4.2M3008.8 1005.5h-4.2M3008.8 974.7h-4.2" stroke="#4a4a4a" stroke-width="1.4" fill="none"/>
<text x="3036" y="1244.8" font-size="12.5" text-anchor="middle" textLength="7.3" lengthAdjust="spacingAndGlyphs" fill="#262626" stroke="#262626" stroke-width="0.3">0</text>
<text x="3107.7" y="1244.8" font-size="12.5" text-anchor="middle" textLength="14.6" lengthAdjust="spacingAndGlyphs" fill="#262626" stroke="#262626" stroke-width="0.3">50</text>
<text x="3179.4" y="1244.8" font-size="12.5" text-anchor="middle" textLength="21.9" lengthAdjust="spacingAndGlyphs" fill="#262626" stroke="#262626" stroke-width="0.3">100</text>
<text x="3251.1" y="1244.8" font-size="12.5" text-anchor="middle" textLength="21.9" lengthAdjust="spacingAndGlyphs" fill="#262626" stroke="#262626" stroke-width="0.3">150</text>
<text x="3322.7" y="1244.8" font-size="12.5" text-anchor="middle" textLength="21.9" lengthAdjust="spacingAndGlyphs" fill="#262626" stroke="#262626" stroke-width="0.3">200</text>
<text x="3394.4" y="1244.8" font-size="12.5" text-anchor="middle" textLength="21.9" lengthAdjust="spacingAndGlyphs" fill="#262626" stroke="#262626" stroke-width="0.3">250</text>
<text x="3466.1" y="1244.8" font-size="12.5" text-anchor="middle" textLength="21.9" lengthAdjust="spacingAndGlyphs" fill="#262626" stroke="#262626" stroke-width="0.3">300</text>
<text x="3537.8" y="1244.8" font-size="12.5" text-anchor="middle" textLength="21.9" lengthAdjust="spacingAndGlyphs" fill="#262626" stroke="#262626" stroke-width="0.3">350</text>
<text x="2999" y="1226.6" font-size="12.5" text-anchor="end" textLength="35.2" lengthAdjust="spacingAndGlyphs" fill="#262626" stroke="#262626" stroke-width="0.3">−1.00</text>
<text x="2999" y="1195.8" font-size="12.5" text-anchor="end" textLength="35.2" lengthAdjust="spacingAndGlyphs" fill="#262626" stroke="#262626" stroke-width="0.3">−0.75</text>
<text x="2999" y="1165" font-size="12.5" text-anchor="end" textLength="35.2" lengthAdjust="spacingAndGlyphs" fill="#262626" stroke="#262626" stroke-width="0.3">−0.50</text>
<text x="2999" y="1134.2" font-size="12.5" text-anchor="end" textLength="35.2" lengthAdjust="spacingAndGlyphs" fill="#262626" stroke="#262626" stroke-width="0.3">−0.25</text>
<text x="2999" y="1103.4" font-size="12.5" text-anchor="end" textLength="25.5" lengthAdjust="spacingAndGlyphs" fill="#262626" stroke="#262626" stroke-width="0.3">0.00</text>
<text x="2999" y="1072.6" font-size="12.5" text-anchor="end" textLength="25.5" lengthAdjust="spacingAndGlyphs" fill="#262626" stroke="#262626" stroke-width="0.3">0.25</text>
<text x="2999" y="1041.8" font-size="12.5" text-anchor="end" textLength="25.5" lengthAdjust="spacingAndGlyphs" fill="#262626" stroke="#262626" stroke-width="0.3">0.50</text>
<text x="2999" y="1011" font-size="12.5" text-anchor="end" textLength="25.5" lengthAdjust="spacingAndGlyphs" fill="#262626" stroke="#262626" stroke-width="0.3">0.75</text>
<text x="2999" y="980.3" font-size="12.5" text-anchor="end" textLength="25.5" lengthAdjust="spacingAndGlyphs" fill="#262626" stroke="#262626" stroke-width="0.3">1.00</text>
<text x="3308.3" y="962.2" font-size="14.3" text-anchor="middle" textLength="482.9" lengthAdjust="spacingAndGlyphs" fill="#262626" stroke="#262626" stroke-width="0.3">True vs AR-generated (context = 5, after random-perturb finetune)</text>
<text x="3273.5" y="1264.5" font-size="12.4" fill="#262626" stroke="#262626" stroke-width="0.3" textLength="63.9" lengthAdjust="spacingAndGlyphs" xml:space="preserve">Time step </text>
<text x="3337.4" y="1264.5" font-size="12.5" fill="#262626" stroke="#262626" stroke-width="0.3" font-style="italic">t</text>
<g transform="translate(2952.2 1097.7) rotate(-90)" font-size="12" fill="#262626" stroke="#262626" stroke-width="0.3"><text x="-10.5" y="0" font-style="italic">x</text><text x="-3.5" y="0">(</text><text x="1.2" y="0" font-style="italic">t</text><text x="5.9" y="0">)</text></g>
<rect x="3014.3" y="1078.1" width="176.5" height="39.2" rx="2.4" fill="#fff" fill-opacity="0.8" stroke="#ccc" stroke-opacity="0.8" stroke-width="1.2"/>
<path d="M3018.7 1088.4H3043.8" stroke="#1f77b4" stroke-width="2.2" stroke-opacity="0.82"/>
<circle cx="3031.5" cy="1088.4" r="4.2" fill="#1f77b4"/>
<path d="M3018.7 1107.2H3043.8" stroke="#ff7f0e" stroke-width="2.2" stroke-opacity="0.82" stroke-dasharray="6.6 2.9"/>
<rect x="3027.9" y="1103.6" width="7.2" height="7.2" fill="#ff7f0e"/>
<text x="3052" y="1092.6" font-size="12" text-anchor="start" textLength="25.4" lengthAdjust="spacingAndGlyphs" fill="#262626" stroke="#262626" stroke-width="0.3">True</text>
<text x="3052" y="1111.4" font-size="12" text-anchor="start" textLength="132.5" lengthAdjust="spacingAndGlyphs" fill="#262626" stroke="#262626" stroke-width="0.3">AR (random best of K)</text>
</g>
</g></svg></body></html>
